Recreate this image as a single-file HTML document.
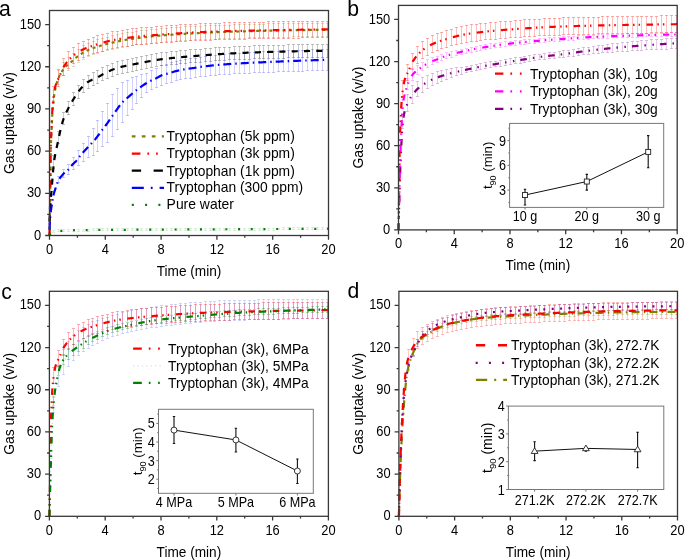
<!DOCTYPE html>
<html><head><meta charset="utf-8"><style>
html,body{margin:0;padding:0;background:#fff;}
body{width:685px;height:560px;overflow:hidden;}
svg{display:block;will-change:transform;}
</style></head><body>
<svg width="685" height="560" viewBox="0 0 685 560" font-family='"Liberation Sans", sans-serif' fill="#000">
<rect width="685" height="560" fill="#fff"/>
<path d="M327.5,24V36M322.5,24V36M317.5,24V36M312.5,24V36M307.5,24V36M302.5,24V36M298.5,24V36M293.5,24V36M288.5,24V37M283.5,24V37M278.5,24V37M273.5,24V37M268.5,24V37M263.5,25V37M259.5,25V37M254.5,25V37M249.5,25V37M244.5,25V38M239.5,25V38M234.5,25V38M229.5,26V38M224.5,26V38M219.5,26V38M215.5,26V39M210.5,26V39M205.5,26V39M200.5,27V39M195.5,27V39M190.5,27V40M185.5,27V40M180.5,28V40M176.5,28V41M171.5,28V41M166.5,29V41M161.5,29V42M156.5,30V42M151.5,30V43M146.5,31V43M141.5,31V44M136.5,32V44M132.5,33V45M127.5,33V46M122.5,34V47M117.5,35V48M112.5,36V49M107.5,38V50M102.5,39V51M97.5,40V53M93.5,42V54M88.5,44V56M83.5,46V59M78.5,50V62M73.5,54V66M68.5,58V70M63.5,63V75M58.5,71V84M53.5,91V103" fill="none" stroke="#808000" stroke-opacity="0.15" stroke-width="1.0"/>
<path d="M326.15,23.5H328.85M326.15,36.5H328.85M321.15,23.5H323.85M321.15,36.5H323.85M316.15,23.5H318.85M316.15,36.5H318.85M311.15,23.5H313.85M311.15,36.5H313.85M306.15,23.5H308.85M306.15,36.5H308.85M301.15,23.5H303.85M301.15,36.5H303.85M297.15,23.5H299.85M297.15,36.5H299.85M292.15,23.5H294.85M292.15,36.5H294.85M287.15,23.5H289.85M287.15,37.5H289.85M282.15,23.5H284.85M282.15,37.5H284.85M277.15,23.5H279.85M277.15,37.5H279.85M272.15,23.5H274.85M272.15,37.5H274.85M267.15,23.5H269.85M267.15,37.5H269.85M262.15,24.5H264.85M262.15,37.5H264.85M258.15,24.5H260.85M258.15,37.5H260.85M253.15,24.5H255.85M253.15,37.5H255.85M248.15,24.5H250.85M248.15,37.5H250.85M243.15,24.5H245.85M243.15,38.5H245.85M238.15,24.5H240.85M238.15,38.5H240.85M233.15,24.5H235.85M233.15,38.5H235.85M228.15,25.5H230.85M228.15,38.5H230.85M223.15,25.5H225.85M223.15,38.5H225.85M218.15,25.5H220.85M218.15,38.5H220.85M214.15,25.5H216.85M214.15,39.5H216.85M209.15,25.5H211.85M209.15,39.5H211.85M204.15,25.5H206.85M204.15,39.5H206.85M199.15,26.5H201.85M199.15,39.5H201.85M194.15,26.5H196.85M194.15,39.5H196.85M189.15,26.5H191.85M189.15,40.5H191.85M184.15,26.5H186.85M184.15,40.5H186.85M179.15,27.5H181.85M179.15,40.5H181.85M175.15,27.5H177.85M175.15,41.5H177.85M170.15,27.5H172.85M170.15,41.5H172.85M165.15,28.5H167.85M165.15,41.5H167.85M160.15,28.5H162.85M160.15,42.5H162.85M155.15,29.5H157.85M155.15,42.5H157.85M150.15,29.5H152.85M150.15,43.5H152.85M145.15,30.5H147.85M145.15,43.5H147.85M140.15,30.5H142.85M140.15,44.5H142.85M135.15,31.5H137.85M135.15,44.5H137.85M131.15,32.5H133.85M131.15,45.5H133.85M126.15,32.5H128.85M126.15,46.5H128.85M121.15,33.5H123.85M121.15,47.5H123.85M116.15,34.5H118.85M116.15,48.5H118.85M111.15,35.5H113.85M111.15,49.5H113.85M106.15,37.5H108.85M106.15,50.5H108.85M101.15,38.5H103.85M101.15,51.5H103.85M96.15,39.5H98.85M96.15,53.5H98.85M92.15,41.5H94.85M92.15,54.5H94.85M87.15,43.5H89.85M87.15,56.5H89.85M82.15,45.5H84.85M82.15,59.5H84.85M77.15,49.5H79.85M77.15,62.5H79.85M72.15,53.5H74.85M72.15,66.5H74.85M67.15,57.5H69.85M67.15,70.5H69.85M62.15,62.5H64.85M62.15,75.5H64.85M57.15,70.5H59.85M57.15,84.5H59.85M52.15,90.5H54.85M52.15,103.5H54.85" fill="none" stroke="#808000" stroke-opacity="0.3" stroke-width="1.0"/>
<path d="M327.5,22V37M322.5,22V37M317.5,22V37M312.5,22V37M307.5,22V37M302.5,22V37M298.5,22V38M293.5,22V38M288.5,22V38M283.5,22V38M278.5,22V38M273.5,22V38M268.5,22V38M263.5,23V38M259.5,23V38M254.5,23V38M249.5,23V38M244.5,23V39M239.5,23V39M234.5,23V39M229.5,23V39M224.5,23V39M219.5,24V39M215.5,24V39M210.5,24V40M205.5,24V40M200.5,24V40M195.5,25V40M190.5,25V40M185.5,25V41M180.5,25V41M176.5,26V41M171.5,26V42M166.5,26V42M161.5,27V42M156.5,27V43M151.5,28V43M146.5,28V44M141.5,28V44M136.5,29V44M132.5,29V45M127.5,30V46M122.5,31V46M117.5,32V47M112.5,32V48M107.5,34V49M102.5,35V51M97.5,36V52M93.5,38V53M88.5,40V55M83.5,42V57M78.5,44V60M73.5,48V63M68.5,52V68M63.5,59V75M58.5,70V86M53.5,87V102" fill="none" stroke="#ff0000" stroke-opacity="0.25" stroke-width="1.0"/>
<path d="M326.15,21.5H328.85M326.15,37.5H328.85M321.15,21.5H323.85M321.15,37.5H323.85M316.15,21.5H318.85M316.15,37.5H318.85M311.15,21.5H313.85M311.15,37.5H313.85M306.15,21.5H308.85M306.15,37.5H308.85M301.15,21.5H303.85M301.15,37.5H303.85M297.15,21.5H299.85M297.15,38.5H299.85M292.15,21.5H294.85M292.15,38.5H294.85M287.15,21.5H289.85M287.15,38.5H289.85M282.15,21.5H284.85M282.15,38.5H284.85M277.15,21.5H279.85M277.15,38.5H279.85M272.15,21.5H274.85M272.15,38.5H274.85M267.15,21.5H269.85M267.15,38.5H269.85M262.15,22.5H264.85M262.15,38.5H264.85M258.15,22.5H260.85M258.15,38.5H260.85M253.15,22.5H255.85M253.15,38.5H255.85M248.15,22.5H250.85M248.15,38.5H250.85M243.15,22.5H245.85M243.15,39.5H245.85M238.15,22.5H240.85M238.15,39.5H240.85M233.15,22.5H235.85M233.15,39.5H235.85M228.15,22.5H230.85M228.15,39.5H230.85M223.15,22.5H225.85M223.15,39.5H225.85M218.15,23.5H220.85M218.15,39.5H220.85M214.15,23.5H216.85M214.15,39.5H216.85M209.15,23.5H211.85M209.15,40.5H211.85M204.15,23.5H206.85M204.15,40.5H206.85M199.15,23.5H201.85M199.15,40.5H201.85M194.15,24.5H196.85M194.15,40.5H196.85M189.15,24.5H191.85M189.15,40.5H191.85M184.15,24.5H186.85M184.15,41.5H186.85M179.15,24.5H181.85M179.15,41.5H181.85M175.15,25.5H177.85M175.15,41.5H177.85M170.15,25.5H172.85M170.15,42.5H172.85M165.15,25.5H167.85M165.15,42.5H167.85M160.15,26.5H162.85M160.15,42.5H162.85M155.15,26.5H157.85M155.15,43.5H157.85M150.15,27.5H152.85M150.15,43.5H152.85M145.15,27.5H147.85M145.15,44.5H147.85M140.15,27.5H142.85M140.15,44.5H142.85M135.15,28.5H137.85M135.15,44.5H137.85M131.15,28.5H133.85M131.15,45.5H133.85M126.15,29.5H128.85M126.15,46.5H128.85M121.15,30.5H123.85M121.15,46.5H123.85M116.15,31.5H118.85M116.15,47.5H118.85M111.15,31.5H113.85M111.15,48.5H113.85M106.15,33.5H108.85M106.15,49.5H108.85M101.15,34.5H103.85M101.15,51.5H103.85M96.15,35.5H98.85M96.15,52.5H98.85M92.15,37.5H94.85M92.15,53.5H94.85M87.15,39.5H89.85M87.15,55.5H89.85M82.15,41.5H84.85M82.15,57.5H84.85M77.15,43.5H79.85M77.15,60.5H79.85M72.15,47.5H74.85M72.15,63.5H74.85M67.15,51.5H69.85M67.15,68.5H69.85M62.15,58.5H64.85M62.15,75.5H64.85M57.15,69.5H59.85M57.15,86.5H59.85M52.15,86.5H54.85M52.15,102.5H54.85" fill="none" stroke="#ff0000" stroke-opacity="0.4" stroke-width="1.0"/>
<path d="M327.5,45V57M322.5,45V57M317.5,45V57M312.5,45V57M307.5,45V57M302.5,45V57M298.5,45V57M293.5,45V57M288.5,45V57M283.5,46V58M278.5,46V58M273.5,46V58M268.5,46V58M263.5,46V58M259.5,46V58M254.5,46V58M249.5,47V59M244.5,47V59M239.5,47V59M234.5,47V59M229.5,48V59M224.5,48V60M219.5,48V60M215.5,48V60M210.5,49V61M205.5,49V61M200.5,50V62M195.5,50V62M190.5,50V62M185.5,51V63M180.5,51V63M176.5,52V64M171.5,52V64M166.5,53V65M161.5,53V65M156.5,54V66M151.5,55V67M146.5,56V68M141.5,57V69M136.5,58V70M132.5,59V71M127.5,60V72M122.5,61V73M117.5,62V74M112.5,64V76M107.5,66V78M102.5,68V80M97.5,71V83M93.5,73V85M88.5,76V88M83.5,80V92M78.5,86V98M73.5,93V105M68.5,102V114M63.5,113V124M58.5,132V143M53.5,156V168" fill="none" stroke="#000000" stroke-opacity="0.2" stroke-width="1.0"/>
<path d="M326.15,44.5H328.85M326.15,57.5H328.85M321.15,44.5H323.85M321.15,57.5H323.85M316.15,44.5H318.85M316.15,57.5H318.85M311.15,44.5H313.85M311.15,57.5H313.85M306.15,44.5H308.85M306.15,57.5H308.85M301.15,44.5H303.85M301.15,57.5H303.85M297.15,44.5H299.85M297.15,57.5H299.85M292.15,44.5H294.85M292.15,57.5H294.85M287.15,44.5H289.85M287.15,57.5H289.85M282.15,45.5H284.85M282.15,58.5H284.85M277.15,45.5H279.85M277.15,58.5H279.85M272.15,45.5H274.85M272.15,58.5H274.85M267.15,45.5H269.85M267.15,58.5H269.85M262.15,45.5H264.85M262.15,58.5H264.85M258.15,45.5H260.85M258.15,58.5H260.85M253.15,45.5H255.85M253.15,58.5H255.85M248.15,46.5H250.85M248.15,59.5H250.85M243.15,46.5H245.85M243.15,59.5H245.85M238.15,46.5H240.85M238.15,59.5H240.85M233.15,46.5H235.85M233.15,59.5H235.85M228.15,47.5H230.85M228.15,59.5H230.85M223.15,47.5H225.85M223.15,60.5H225.85M218.15,47.5H220.85M218.15,60.5H220.85M214.15,47.5H216.85M214.15,60.5H216.85M209.15,48.5H211.85M209.15,61.5H211.85M204.15,48.5H206.85M204.15,61.5H206.85M199.15,49.5H201.85M199.15,62.5H201.85M194.15,49.5H196.85M194.15,62.5H196.85M189.15,49.5H191.85M189.15,62.5H191.85M184.15,50.5H186.85M184.15,63.5H186.85M179.15,50.5H181.85M179.15,63.5H181.85M175.15,51.5H177.85M175.15,64.5H177.85M170.15,51.5H172.85M170.15,64.5H172.85M165.15,52.5H167.85M165.15,65.5H167.85M160.15,52.5H162.85M160.15,65.5H162.85M155.15,53.5H157.85M155.15,66.5H157.85M150.15,54.5H152.85M150.15,67.5H152.85M145.15,55.5H147.85M145.15,68.5H147.85M140.15,56.5H142.85M140.15,69.5H142.85M135.15,57.5H137.85M135.15,70.5H137.85M131.15,58.5H133.85M131.15,71.5H133.85M126.15,59.5H128.85M126.15,72.5H128.85M121.15,60.5H123.85M121.15,73.5H123.85M116.15,61.5H118.85M116.15,74.5H118.85M111.15,63.5H113.85M111.15,76.5H113.85M106.15,65.5H108.85M106.15,78.5H108.85M101.15,67.5H103.85M101.15,80.5H103.85M96.15,70.5H98.85M96.15,83.5H98.85M92.15,72.5H94.85M92.15,85.5H94.85M87.15,75.5H89.85M87.15,88.5H89.85M82.15,79.5H84.85M82.15,92.5H84.85M77.15,85.5H79.85M77.15,98.5H79.85M72.15,92.5H74.85M72.15,105.5H74.85M67.15,101.5H69.85M67.15,114.5H69.85M62.15,112.5H64.85M62.15,124.5H64.85M57.15,131.5H59.85M57.15,143.5H59.85M52.15,155.5H54.85M52.15,168.5H54.85" fill="none" stroke="#000000" stroke-opacity="0.3" stroke-width="1.0"/>
<path d="M327.5,50V70M322.5,50V70M317.5,50V70M312.5,50V70M307.5,50V70M302.5,51V71M298.5,51V71M293.5,51V71M288.5,51V71M283.5,51V71M278.5,52V71M273.5,52V72M268.5,52V72M263.5,52V72M259.5,53V72M254.5,53V72M249.5,53V73M244.5,53V73M239.5,54V73M234.5,54V73M229.5,54V74M224.5,55V74M219.5,55V74M215.5,56V75M210.5,56V75M205.5,57V76M200.5,58V76M195.5,59V77M190.5,59V78M185.5,60V78M180.5,61V79M176.5,62V80M171.5,63V82M166.5,65V83M161.5,66V85M156.5,69V87M151.5,71V89M146.5,74V92M141.5,75V97M136.5,77V103M132.5,78V109M127.5,81V115M122.5,83V122M117.5,89V129M112.5,95V136M107.5,104V142M102.5,112V146M97.5,121V151M93.5,129V155M88.5,137V157M83.5,144V161M78.5,151V165M73.5,158V169M68.5,165V174M63.5,170V177M58.5,177V182M53.5,192V195" fill="none" stroke="#0000ff" stroke-opacity="0.18" stroke-width="1.0"/>
<path d="M326.15,49.5H328.85M326.15,70.5H328.85M321.15,49.5H323.85M321.15,70.5H323.85M316.15,49.5H318.85M316.15,70.5H318.85M311.15,49.5H313.85M311.15,70.5H313.85M306.15,49.5H308.85M306.15,70.5H308.85M301.15,50.5H303.85M301.15,71.5H303.85M297.15,50.5H299.85M297.15,71.5H299.85M292.15,50.5H294.85M292.15,71.5H294.85M287.15,50.5H289.85M287.15,71.5H289.85M282.15,50.5H284.85M282.15,71.5H284.85M277.15,51.5H279.85M277.15,71.5H279.85M272.15,51.5H274.85M272.15,72.5H274.85M267.15,51.5H269.85M267.15,72.5H269.85M262.15,51.5H264.85M262.15,72.5H264.85M258.15,52.5H260.85M258.15,72.5H260.85M253.15,52.5H255.85M253.15,72.5H255.85M248.15,52.5H250.85M248.15,73.5H250.85M243.15,52.5H245.85M243.15,73.5H245.85M238.15,53.5H240.85M238.15,73.5H240.85M233.15,53.5H235.85M233.15,73.5H235.85M228.15,53.5H230.85M228.15,74.5H230.85M223.15,54.5H225.85M223.15,74.5H225.85M218.15,54.5H220.85M218.15,74.5H220.85M214.15,55.5H216.85M214.15,75.5H216.85M209.15,55.5H211.85M209.15,75.5H211.85M204.15,56.5H206.85M204.15,76.5H206.85M199.15,57.5H201.85M199.15,76.5H201.85M194.15,58.5H196.85M194.15,77.5H196.85M189.15,58.5H191.85M189.15,78.5H191.85M184.15,59.5H186.85M184.15,78.5H186.85M179.15,60.5H181.85M179.15,79.5H181.85M175.15,61.5H177.85M175.15,80.5H177.85M170.15,62.5H172.85M170.15,82.5H172.85M165.15,64.5H167.85M165.15,83.5H167.85M160.15,65.5H162.85M160.15,85.5H162.85M155.15,68.5H157.85M155.15,87.5H157.85M150.15,70.5H152.85M150.15,89.5H152.85M145.15,73.5H147.85M145.15,92.5H147.85M140.15,74.5H142.85M140.15,97.5H142.85M135.15,76.5H137.85M135.15,103.5H137.85M131.15,77.5H133.85M131.15,109.5H133.85M126.15,80.5H128.85M126.15,115.5H128.85M121.15,82.5H123.85M121.15,122.5H123.85M116.15,88.5H118.85M116.15,129.5H118.85M111.15,94.5H113.85M111.15,136.5H113.85M106.15,103.5H108.85M106.15,142.5H108.85M101.15,111.5H103.85M101.15,146.5H103.85M96.15,120.5H98.85M96.15,151.5H98.85M92.15,128.5H94.85M92.15,155.5H94.85M87.15,136.5H89.85M87.15,157.5H89.85M82.15,143.5H84.85M82.15,161.5H84.85M77.15,150.5H79.85M77.15,165.5H79.85M72.15,157.5H74.85M72.15,169.5H74.85M67.15,164.5H69.85M67.15,174.5H69.85M62.15,169.5H64.85M62.15,177.5H64.85M57.15,176.5H59.85M57.15,182.5H59.85M52.15,191.5H54.85M52.15,195.5H54.85" fill="none" stroke="#0000ff" stroke-opacity="0.28" stroke-width="1.0"/>
<path d="M327.5,228V229M322.5,228V229M317.5,228V229M312.5,228V229M307.5,228V229M302.5,228V229M298.5,228V229M293.5,228V229M288.5,228V229M283.5,228V229M278.5,229V229M273.5,229V230M268.5,229V230M263.5,229V230M259.5,229V230M254.5,229V230M249.5,229V230M244.5,229V230M239.5,229V230M234.5,229V230M229.5,229V230M224.5,229V230M219.5,229V230M215.5,229V230M210.5,229V230M205.5,229V230M200.5,229V230M195.5,229V230M190.5,229V230M185.5,229V230M180.5,229V230M176.5,229V230M171.5,229V230M166.5,229V230M161.5,229V230M156.5,229V230M151.5,229V230M146.5,229V230M141.5,229V230M136.5,229V230M132.5,229V230M127.5,229V230M122.5,229V230M117.5,229V230M112.5,229V230M107.5,229V230M102.5,229V230M97.5,229V230M93.5,229V230M88.5,230V231M83.5,230V231M78.5,230V231M73.5,230V231M68.5,230V231M63.5,230V231M58.5,230V231M53.5,231V232" fill="none" stroke="#008000" stroke-opacity="0.13" stroke-width="1.0"/>
<path d="M326.15,227.5H328.85M326.15,229.5H328.85M321.15,227.5H323.85M321.15,229.5H323.85M316.15,227.5H318.85M316.15,229.5H318.85M311.15,227.5H313.85M311.15,229.5H313.85M306.15,227.5H308.85M306.15,229.5H308.85M301.15,227.5H303.85M301.15,229.5H303.85M297.15,227.5H299.85M297.15,229.5H299.85M292.15,227.5H294.85M292.15,229.5H294.85M287.15,227.5H289.85M287.15,229.5H289.85M282.15,227.5H284.85M282.15,229.5H284.85M277.15,228.5H279.85M277.15,229.5H279.85M272.15,228.5H274.85M272.15,230.5H274.85M267.15,228.5H269.85M267.15,230.5H269.85M262.15,228.5H264.85M262.15,230.5H264.85M258.15,228.5H260.85M258.15,230.5H260.85M253.15,228.5H255.85M253.15,230.5H255.85M248.15,228.5H250.85M248.15,230.5H250.85M243.15,228.5H245.85M243.15,230.5H245.85M238.15,228.5H240.85M238.15,230.5H240.85M233.15,228.5H235.85M233.15,230.5H235.85M228.15,228.5H230.85M228.15,230.5H230.85M223.15,228.5H225.85M223.15,230.5H225.85M218.15,228.5H220.85M218.15,230.5H220.85M214.15,228.5H216.85M214.15,230.5H216.85M209.15,228.5H211.85M209.15,230.5H211.85M204.15,228.5H206.85M204.15,230.5H206.85M199.15,228.5H201.85M199.15,230.5H201.85M194.15,228.5H196.85M194.15,230.5H196.85M189.15,228.5H191.85M189.15,230.5H191.85M184.15,228.5H186.85M184.15,230.5H186.85M179.15,228.5H181.85M179.15,230.5H181.85M175.15,228.5H177.85M175.15,230.5H177.85M170.15,228.5H172.85M170.15,230.5H172.85M165.15,228.5H167.85M165.15,230.5H167.85M160.15,228.5H162.85M160.15,230.5H162.85M155.15,228.5H157.85M155.15,230.5H157.85M150.15,228.5H152.85M150.15,230.5H152.85M145.15,228.5H147.85M145.15,230.5H147.85M140.15,228.5H142.85M140.15,230.5H142.85M135.15,228.5H137.85M135.15,230.5H137.85M131.15,228.5H133.85M131.15,230.5H133.85M126.15,228.5H128.85M126.15,230.5H128.85M121.15,228.5H123.85M121.15,230.5H123.85M116.15,228.5H118.85M116.15,230.5H118.85M111.15,228.5H113.85M111.15,230.5H113.85M106.15,228.5H108.85M106.15,230.5H108.85M101.15,228.5H103.85M101.15,230.5H103.85M96.15,228.5H98.85M96.15,230.5H98.85M92.15,228.5H94.85M92.15,230.5H94.85M87.15,229.5H89.85M87.15,231.5H89.85M82.15,229.5H84.85M82.15,231.5H84.85M77.15,229.5H79.85M77.15,231.5H79.85M72.15,229.5H74.85M72.15,231.5H74.85M67.15,229.5H69.85M67.15,231.5H69.85M62.15,229.5H64.85M62.15,231.5H64.85M57.15,229.5H59.85M57.15,231.5H59.85M52.15,230.5H54.85M52.15,232.5H54.85" fill="none" stroke="#008000" stroke-opacity="0.17" stroke-width="1.0"/>
<path d="M49.5,235.5 L49.64,229.21 L49.78,222.14 L49.92,214.41 L50.06,205.67 L50.2,196.05 L50.34,186.28 L50.48,175.69 L50.62,164.36 L50.76,154.14 L50.9,146.91 L51.03,142.37 L51.17,138.76 L51.31,135.73 L51.45,132.94 L51.59,130.03 L51.73,126.88 L51.87,123.68 L52.01,120.51 L52.15,117.5 L52.29,114.73 L52.43,112.31 L52.57,110.34 L52.71,108.68 L52.85,107.08 L52.99,105.56 L53.13,104.11 L53.27,102.73 L53.41,101.41 L53.55,100.16 L53.69,98.96 L53.82,97.83 L53.96,96.75 L54.1,95.73 L54.24,94.76 L54.38,93.84 L54.52,92.97 L54.66,92.14 L54.8,91.36 L54.94,90.62 L55.08,89.92 L55.22,89.25 L55.36,88.61 L55.5,87.99 L55.64,87.38 L55.78,86.8 L55.92,86.22 L56.06,85.67 L56.2,85.13 L56.34,84.6 L56.48,84.09 L56.61,83.59 L56.75,83.11 L56.89,82.64 L57.03,82.18 L57.17,81.74 L57.31,81.31 L57.45,80.89 L57.59,80.48 L57.73,80.08 L57.87,79.7 L58.01,79.32 L58.15,78.96 L58.29,78.6 L58.43,78.25 L58.57,77.91 L58.71,77.58 L58.85,77.26 L58.99,76.94 L59.13,76.64 L59.27,76.33 L59.4,76.04 L59.54,75.75 L59.68,75.47 L59.82,75.19 L59.96,74.91 L60.1,74.64 L60.24,74.38 L60.38,74.12 L60.52,73.86 L60.66,73.61 L60.8,73.36 L60.94,73.12 L61.08,72.88 L61.22,72.64 L61.36,72.41 L61.5,72.18 L61.64,71.96 L61.78,71.74 L61.92,71.52 L62.05,71.31 L62.19,71.1 L62.33,70.89 L62.47,70.69 L62.61,70.49 L62.75,70.29 L62.89,70.1 L63.03,69.91 L63.17,69.72 L63.31,69.53 L63.45,69.35 L64.15,68.47 L64.84,67.65 L65.54,66.88 L66.24,66.17 L66.94,65.52 L67.64,64.91 L68.33,64.34 L69.03,63.79 L69.73,63.24 L70.43,62.68 L71.12,62.09 L71.82,61.47 L72.52,60.84 L73.22,60.19 L73.91,59.54 L74.61,58.9 L75.31,58.27 L76.01,57.67 L76.7,57.09 L77.4,56.55 L78.1,56.04 L78.8,55.53 L79.49,55.04 L80.19,54.57 L80.89,54.11 L81.59,53.66 L82.28,53.23 L82.98,52.81 L83.68,52.41 L84.38,52.01 L85.07,51.63 L85.77,51.25 L86.47,50.89 L87.17,50.54 L87.86,50.2 L88.56,49.88 L89.26,49.57 L89.96,49.28 L90.65,49 L91.35,48.74 L92.05,48.48 L92.75,48.24 L93.44,48 L94.14,47.76 L94.84,47.53 L95.54,47.3 L96.23,47.07 L96.93,46.84 L97.63,46.61 L98.33,46.39 L99.02,46.17 L99.72,45.96 L100.42,45.74 L101.12,45.54 L101.81,45.33 L102.51,45.13 L103.21,44.94 L103.91,44.75 L104.6,44.56 L105.3,44.38 L106,44.2 L106.7,44.03 L107.39,43.85 L108.09,43.68 L108.79,43.51 L109.49,43.34 L110.18,43.17 L110.88,43 L111.58,42.83 L112.28,42.66 L112.97,42.5 L113.67,42.34 L114.37,42.17 L115.07,42.02 L115.76,41.86 L116.46,41.7 L117.16,41.55 L117.86,41.4 L118.55,41.25 L119.25,41.1 L119.95,40.95 L120.65,40.81 L121.34,40.67 L122.04,40.53 L122.74,40.4 L123.44,40.27 L124.13,40.14 L124.83,40.02 L125.53,39.9 L126.23,39.78 L126.92,39.66 L127.62,39.55 L128.32,39.44 L129.02,39.33 L129.71,39.22 L130.41,39.13 L131.11,39.03 L131.81,38.94 L132.5,38.85 L133.2,38.76 L133.9,38.66 L134.6,38.57 L135.29,38.48 L135.99,38.38 L136.69,38.28 L137.39,38.18 L138.08,38.07 L138.78,37.96 L139.48,37.85 L140.18,37.74 L140.87,37.63 L141.57,37.53 L142.27,37.43 L142.97,37.34 L143.66,37.26 L144.36,37.17 L145.06,37.09 L145.76,37.01 L146.45,36.93 L147.15,36.85 L147.85,36.78 L148.55,36.7 L149.24,36.63 L149.94,36.56 L150.64,36.49 L151.34,36.42 L152.03,36.35 L152.73,36.28 L153.43,36.21 L154.13,36.15 L154.82,36.08 L155.52,36.02 L156.22,35.95 L156.92,35.89 L157.61,35.83 L158.31,35.77 L159.01,35.71 L159.71,35.65 L160.4,35.59 L161.1,35.53 L161.8,35.47 L162.5,35.42 L163.19,35.36 L163.89,35.3 L164.59,35.24 L165.29,35.19 L165.98,35.13 L166.68,35.08 L167.38,35.02 L168.08,34.97 L168.77,34.91 L169.47,34.86 L170.17,34.8 L170.87,34.75 L171.56,34.7 L172.26,34.65 L172.96,34.6 L173.66,34.54 L174.35,34.49 L175.05,34.44 L175.75,34.39 L176.45,34.35 L177.14,34.3 L177.84,34.25 L178.54,34.2 L179.24,34.16 L179.93,34.11 L180.63,34.06 L181.33,34.02 L182.03,33.97 L182.72,33.93 L183.42,33.89 L184.12,33.84 L184.82,33.8 L185.51,33.76 L186.21,33.72 L186.91,33.68 L187.61,33.64 L188.3,33.6 L189,33.56 L189.7,33.52 L190.4,33.49 L191.09,33.45 L191.79,33.41 L192.49,33.38 L193.19,33.34 L193.88,33.3 L194.58,33.27 L195.28,33.23 L195.98,33.2 L196.67,33.16 L197.37,33.13 L198.07,33.09 L198.77,33.06 L199.46,33.02 L200.16,32.99 L200.86,32.96 L201.56,32.92 L202.25,32.89 L202.95,32.86 L203.65,32.82 L204.35,32.79 L205.04,32.76 L205.74,32.73 L206.44,32.7 L207.14,32.66 L207.83,32.63 L208.53,32.6 L209.23,32.57 L209.93,32.54 L210.62,32.51 L211.32,32.48 L212.02,32.45 L212.72,32.42 L213.41,32.39 L214.11,32.36 L214.81,32.33 L215.51,32.31 L216.2,32.28 L216.9,32.25 L217.6,32.22 L218.3,32.19 L218.99,32.17 L219.69,32.14 L220.39,32.11 L221.09,32.08 L221.78,32.06 L222.48,32.03 L223.18,32.01 L223.88,31.98 L224.57,31.95 L225.27,31.93 L225.97,31.9 L226.67,31.88 L227.36,31.85 L228.06,31.83 L228.76,31.8 L229.46,31.78 L230.15,31.76 L230.85,31.73 L231.55,31.71 L232.25,31.69 L232.94,31.66 L233.64,31.64 L234.34,31.62 L235.04,31.59 L235.73,31.57 L236.43,31.55 L237.13,31.53 L237.83,31.51 L238.52,31.48 L239.22,31.46 L239.92,31.44 L240.62,31.42 L241.31,31.4 L242.01,31.38 L242.71,31.36 L243.41,31.33 L244.1,31.31 L244.8,31.29 L245.5,31.27 L246.2,31.25 L246.89,31.23 L247.59,31.21 L248.29,31.19 L248.99,31.17 L249.68,31.15 L250.38,31.14 L251.08,31.12 L251.78,31.1 L252.47,31.08 L253.17,31.06 L253.87,31.04 L254.57,31.02 L255.26,31.01 L255.96,30.99 L256.66,30.97 L257.36,30.95 L258.05,30.93 L258.75,30.92 L259.45,30.9 L260.15,30.88 L260.84,30.87 L261.54,30.85 L262.24,30.83 L262.94,30.82 L263.63,30.8 L264.33,30.79 L265.03,30.77 L265.73,30.75 L266.42,30.74 L267.12,30.72 L267.82,30.71 L268.52,30.69 L269.21,30.68 L269.91,30.67 L270.61,30.65 L271.31,30.64 L272,30.62 L272.7,30.61 L273.4,30.6 L274.1,30.58 L274.79,30.57 L275.49,30.56 L276.19,30.54 L276.89,30.53 L277.58,30.52 L278.28,30.5 L278.98,30.49 L279.68,30.48 L280.37,30.46 L281.07,30.45 L281.77,30.44 L282.47,30.42 L283.16,30.41 L283.86,30.4 L284.56,30.38 L285.26,30.37 L285.95,30.36 L286.65,30.35 L287.35,30.33 L288.05,30.32 L288.74,30.31 L289.44,30.3 L290.14,30.29 L290.84,30.27 L291.53,30.26 L292.23,30.25 L292.93,30.24 L293.63,30.22 L294.32,30.21 L295.02,30.2 L295.72,30.19 L296.42,30.18 L297.11,30.17 L297.81,30.16 L298.51,30.14 L299.21,30.13 L299.9,30.12 L300.6,30.11 L301.3,30.1 L302,30.09 L302.69,30.08 L303.39,30.07 L304.09,30.06 L304.79,30.05 L305.48,30.04 L306.18,30.03 L306.88,30.02 L307.58,30.01 L308.27,30 L308.97,29.99 L309.67,29.98 L310.37,29.97 L311.06,29.96 L311.76,29.95 L312.46,29.94 L313.16,29.93 L313.85,29.92 L314.55,29.91 L315.25,29.9 L315.95,29.9 L316.64,29.89 L317.34,29.88 L318.04,29.87 L318.74,29.86 L319.43,29.86 L320.13,29.85 L320.83,29.84 L321.53,29.83 L322.22,29.83 L322.92,29.82 L323.62,29.81 L324.32,29.8 L325.01,29.8 L325.71,29.79 L326.41,29.78 L327.11,29.78 L327.8,29.77 L328.5,29.77" fill="none" stroke="#808000" stroke-width="2.2" stroke-dasharray="3 3.6" stroke-linejoin="round"/>
<path d="M49.5,235.5 L49.64,229.21 L49.78,222.14 L49.92,214.41 L50.06,205.94 L50.2,196.57 L50.34,186.28 L50.48,172.96 L50.62,158.37 L50.76,148.31 L50.9,143.13 L51.03,139.08 L51.17,135.81 L51.31,132.98 L51.45,130.23 L51.59,127.22 L51.73,123.86 L51.87,120.42 L52.01,117.05 L52.15,113.91 L52.29,111.16 L52.43,108.94 L52.57,107.11 L52.71,105.41 L52.85,103.84 L52.99,102.38 L53.13,101.02 L53.27,99.75 L53.41,98.56 L53.55,97.44 L53.69,96.39 L53.82,95.38 L53.96,94.41 L54.1,93.47 L54.24,92.55 L54.38,91.66 L54.52,90.8 L54.66,89.97 L54.8,89.17 L54.94,88.41 L55.08,87.68 L55.22,87 L55.36,86.37 L55.5,85.78 L55.64,85.24 L55.78,84.75 L55.92,84.3 L56.06,83.87 L56.2,83.47 L56.34,83.08 L56.48,82.71 L56.61,82.35 L56.75,82.01 L56.89,81.69 L57.03,81.37 L57.17,81.07 L57.31,80.78 L57.45,80.49 L57.59,80.21 L57.73,79.94 L57.87,79.67 L58.01,79.4 L58.15,79.13 L58.29,78.87 L58.43,78.6 L58.57,78.33 L58.71,78.05 L58.85,77.77 L58.99,77.48 L59.13,77.18 L59.27,76.88 L59.4,76.56 L59.54,76.24 L59.68,75.92 L59.82,75.59 L59.96,75.26 L60.1,74.93 L60.24,74.59 L60.38,74.26 L60.52,73.92 L60.66,73.58 L60.8,73.24 L60.94,72.91 L61.08,72.57 L61.22,72.23 L61.36,71.89 L61.5,71.56 L61.64,71.23 L61.78,70.9 L61.92,70.57 L62.05,70.25 L62.19,69.93 L62.33,69.61 L62.47,69.3 L62.61,69 L62.75,68.7 L62.89,68.41 L63.03,68.12 L63.17,67.84 L63.31,67.57 L63.45,67.3 L64.15,66.1 L64.84,65.03 L65.54,64.02 L66.24,63.06 L66.94,62.16 L67.64,61.3 L68.33,60.49 L69.03,59.72 L69.73,58.99 L70.43,58.28 L71.12,57.6 L71.82,56.95 L72.52,56.32 L73.22,55.72 L73.91,55.15 L74.61,54.61 L75.31,54.08 L76.01,53.59 L76.7,53.11 L77.4,52.65 L78.1,52.2 L78.8,51.77 L79.49,51.36 L80.19,50.96 L80.89,50.57 L81.59,50.2 L82.28,49.84 L82.98,49.5 L83.68,49.17 L84.38,48.86 L85.07,48.55 L85.77,48.26 L86.47,47.97 L87.17,47.69 L87.86,47.43 L88.56,47.16 L89.26,46.91 L89.96,46.66 L90.65,46.41 L91.35,46.17 L92.05,45.94 L92.75,45.71 L93.44,45.49 L94.14,45.27 L94.84,45.06 L95.54,44.86 L96.23,44.66 L96.93,44.45 L97.63,44.25 L98.33,44.05 L99.02,43.85 L99.72,43.64 L100.42,43.43 L101.12,43.22 L101.81,43.01 L102.51,42.8 L103.21,42.59 L103.91,42.39 L104.6,42.18 L105.3,41.99 L106,41.8 L106.7,41.61 L107.39,41.44 L108.09,41.27 L108.79,41.1 L109.49,40.93 L110.18,40.77 L110.88,40.61 L111.58,40.45 L112.28,40.3 L112.97,40.15 L113.67,40 L114.37,39.86 L115.07,39.73 L115.76,39.59 L116.46,39.47 L117.16,39.35 L117.86,39.23 L118.55,39.11 L119.25,39 L119.95,38.89 L120.65,38.78 L121.34,38.68 L122.04,38.58 L122.74,38.48 L123.44,38.38 L124.13,38.28 L124.83,38.19 L125.53,38.09 L126.23,38 L126.92,37.91 L127.62,37.82 L128.32,37.73 L129.02,37.64 L129.71,37.55 L130.41,37.47 L131.11,37.38 L131.81,37.3 L132.5,37.21 L133.2,37.13 L133.9,37.05 L134.6,36.97 L135.29,36.89 L135.99,36.81 L136.69,36.73 L137.39,36.66 L138.08,36.58 L138.78,36.51 L139.48,36.44 L140.18,36.37 L140.87,36.3 L141.57,36.23 L142.27,36.16 L142.97,36.09 L143.66,36.03 L144.36,35.96 L145.06,35.9 L145.76,35.84 L146.45,35.78 L147.15,35.72 L147.85,35.66 L148.55,35.6 L149.24,35.54 L149.94,35.48 L150.64,35.42 L151.34,35.36 L152.03,35.31 L152.73,35.25 L153.43,35.19 L154.13,35.14 L154.82,35.08 L155.52,35.03 L156.22,34.98 L156.92,34.92 L157.61,34.87 L158.31,34.82 L159.01,34.76 L159.71,34.71 L160.4,34.66 L161.1,34.61 L161.8,34.56 L162.5,34.51 L163.19,34.46 L163.89,34.41 L164.59,34.36 L165.29,34.31 L165.98,34.26 L166.68,34.21 L167.38,34.16 L168.08,34.11 L168.77,34.06 L169.47,34.01 L170.17,33.96 L170.87,33.91 L171.56,33.86 L172.26,33.81 L172.96,33.77 L173.66,33.72 L174.35,33.67 L175.05,33.62 L175.75,33.57 L176.45,33.52 L177.14,33.47 L177.84,33.42 L178.54,33.37 L179.24,33.33 L179.93,33.28 L180.63,33.23 L181.33,33.18 L182.03,33.14 L182.72,33.09 L183.42,33.04 L184.12,33 L184.82,32.95 L185.51,32.91 L186.21,32.87 L186.91,32.82 L187.61,32.78 L188.3,32.74 L189,32.7 L189.7,32.66 L190.4,32.62 L191.09,32.58 L191.79,32.54 L192.49,32.5 L193.19,32.47 L193.88,32.43 L194.58,32.4 L195.28,32.36 L195.98,32.33 L196.67,32.29 L197.37,32.26 L198.07,32.23 L198.77,32.2 L199.46,32.17 L200.16,32.14 L200.86,32.11 L201.56,32.08 L202.25,32.05 L202.95,32.02 L203.65,31.99 L204.35,31.96 L205.04,31.93 L205.74,31.9 L206.44,31.88 L207.14,31.85 L207.83,31.82 L208.53,31.8 L209.23,31.77 L209.93,31.74 L210.62,31.72 L211.32,31.69 L212.02,31.67 L212.72,31.64 L213.41,31.62 L214.11,31.59 L214.81,31.57 L215.51,31.55 L216.2,31.52 L216.9,31.5 L217.6,31.48 L218.3,31.45 L218.99,31.43 L219.69,31.41 L220.39,31.38 L221.09,31.36 L221.78,31.34 L222.48,31.32 L223.18,31.3 L223.88,31.27 L224.57,31.25 L225.27,31.23 L225.97,31.21 L226.67,31.19 L227.36,31.17 L228.06,31.15 L228.76,31.13 L229.46,31.11 L230.15,31.09 L230.85,31.07 L231.55,31.05 L232.25,31.03 L232.94,31.01 L233.64,31 L234.34,30.98 L235.04,30.96 L235.73,30.94 L236.43,30.92 L237.13,30.91 L237.83,30.89 L238.52,30.87 L239.22,30.86 L239.92,30.84 L240.62,30.82 L241.31,30.81 L242.01,30.79 L242.71,30.78 L243.41,30.76 L244.1,30.74 L244.8,30.73 L245.5,30.71 L246.2,30.7 L246.89,30.68 L247.59,30.67 L248.29,30.65 L248.99,30.64 L249.68,30.62 L250.38,30.61 L251.08,30.59 L251.78,30.58 L252.47,30.57 L253.17,30.55 L253.87,30.54 L254.57,30.52 L255.26,30.51 L255.96,30.5 L256.66,30.48 L257.36,30.47 L258.05,30.45 L258.75,30.44 L259.45,30.43 L260.15,30.41 L260.84,30.4 L261.54,30.39 L262.24,30.38 L262.94,30.36 L263.63,30.35 L264.33,30.34 L265.03,30.32 L265.73,30.31 L266.42,30.3 L267.12,30.29 L267.82,30.27 L268.52,30.26 L269.21,30.25 L269.91,30.24 L270.61,30.22 L271.31,30.21 L272,30.2 L272.7,30.19 L273.4,30.18 L274.1,30.16 L274.79,30.15 L275.49,30.14 L276.19,30.13 L276.89,30.11 L277.58,30.1 L278.28,30.09 L278.98,30.08 L279.68,30.07 L280.37,30.06 L281.07,30.04 L281.77,30.03 L282.47,30.02 L283.16,30.01 L283.86,30 L284.56,29.98 L285.26,29.97 L285.95,29.96 L286.65,29.95 L287.35,29.94 L288.05,29.93 L288.74,29.92 L289.44,29.9 L290.14,29.89 L290.84,29.88 L291.53,29.87 L292.23,29.86 L292.93,29.85 L293.63,29.84 L294.32,29.83 L295.02,29.81 L295.72,29.8 L296.42,29.79 L297.11,29.78 L297.81,29.77 L298.51,29.76 L299.21,29.75 L299.9,29.74 L300.6,29.73 L301.3,29.72 L302,29.71 L302.69,29.7 L303.39,29.69 L304.09,29.67 L304.79,29.66 L305.48,29.65 L306.18,29.64 L306.88,29.63 L307.58,29.62 L308.27,29.61 L308.97,29.6 L309.67,29.59 L310.37,29.58 L311.06,29.57 L311.76,29.56 L312.46,29.55 L313.16,29.54 L313.85,29.53 L314.55,29.52 L315.25,29.51 L315.95,29.51 L316.64,29.5 L317.34,29.49 L318.04,29.48 L318.74,29.47 L319.43,29.46 L320.13,29.45 L320.83,29.44 L321.53,29.43 L322.22,29.42 L322.92,29.41 L323.62,29.4 L324.32,29.4 L325.01,29.39 L325.71,29.38 L326.41,29.37 L327.11,29.36 L327.8,29.35 L328.5,29.34" fill="none" stroke="#ff0000" stroke-width="2.2" stroke-dasharray="6.5 4.3 1.5 4 1.5 6.5" stroke-linejoin="round"/>
<path d="M49.5,221.44 L49.64,218.34 L49.78,215.32 L49.92,212.44 L50.06,209.77 L50.2,207.38 L50.34,205.2 L50.48,203.15 L50.62,201.21 L50.76,199.36 L50.9,197.6 L51.03,195.89 L51.17,194.24 L51.31,192.62 L51.45,191.03 L51.59,189.44 L51.73,187.85 L51.87,186.24 L52.01,184.59 L52.15,182.9 L52.29,181.17 L52.43,179.41 L52.57,177.64 L52.71,175.86 L52.85,174.11 L52.99,172.39 L53.13,170.71 L53.27,169.09 L53.41,167.54 L53.55,166.08 L53.69,164.72 L53.82,163.48 L53.96,162.38 L54.1,161.36 L54.24,160.38 L54.38,159.44 L54.52,158.53 L54.66,157.66 L54.8,156.82 L54.94,156.01 L55.08,155.22 L55.22,154.46 L55.36,153.72 L55.5,153.01 L55.64,152.31 L55.78,151.63 L55.92,150.97 L56.06,150.32 L56.2,149.67 L56.34,149.04 L56.48,148.41 L56.61,147.79 L56.75,147.17 L56.89,146.55 L57.03,145.93 L57.17,145.31 L57.31,144.68 L57.45,144.04 L57.59,143.39 L57.73,142.74 L57.87,142.08 L58.01,141.42 L58.15,140.76 L58.29,140.11 L58.43,139.45 L58.57,138.79 L58.71,138.13 L58.85,137.48 L58.99,136.82 L59.13,136.17 L59.27,135.52 L59.4,134.88 L59.54,134.23 L59.68,133.59 L59.82,132.96 L59.96,132.33 L60.1,131.7 L60.24,131.08 L60.38,130.47 L60.52,129.86 L60.66,129.26 L60.8,128.67 L60.94,128.08 L61.08,127.5 L61.22,126.93 L61.36,126.37 L61.5,125.82 L61.64,125.28 L61.78,124.74 L61.92,124.22 L62.05,123.71 L62.19,123.21 L62.33,122.72 L62.47,122.24 L62.61,121.77 L62.75,121.32 L62.89,120.88 L63.03,120.46 L63.17,120.05 L63.31,119.65 L63.45,119.25 L64.15,117.37 L64.84,115.62 L65.54,114 L66.24,112.47 L66.94,111.02 L67.64,109.64 L68.33,108.3 L69.03,106.99 L69.73,105.68 L70.43,104.39 L71.12,103.13 L71.82,101.92 L72.52,100.73 L73.22,99.58 L73.91,98.46 L74.61,97.36 L75.31,96.29 L76.01,95.22 L76.7,94.18 L77.4,93.13 L78.1,92.12 L78.8,91.14 L79.49,90.22 L80.19,89.37 L80.89,88.55 L81.59,87.75 L82.28,86.97 L82.98,86.21 L83.68,85.48 L84.38,84.79 L85.07,84.13 L85.77,83.52 L86.47,82.96 L87.17,82.45 L87.86,82 L88.56,81.58 L89.26,81.18 L89.96,80.81 L90.65,80.47 L91.35,80.14 L92.05,79.82 L92.75,79.52 L93.44,79.22 L94.14,78.92 L94.84,78.61 L95.54,78.3 L96.23,77.98 L96.93,77.65 L97.63,77.3 L98.33,76.92 L99.02,76.54 L99.72,76.14 L100.42,75.74 L101.12,75.33 L101.81,74.92 L102.51,74.51 L103.21,74.1 L103.91,73.7 L104.6,73.31 L105.3,72.93 L106,72.57 L106.7,72.23 L107.39,71.9 L108.09,71.58 L108.79,71.26 L109.49,70.95 L110.18,70.64 L110.88,70.34 L111.58,70.05 L112.28,69.76 L112.97,69.48 L113.67,69.2 L114.37,68.94 L115.07,68.69 L115.76,68.44 L116.46,68.21 L117.16,67.99 L117.86,67.77 L118.55,67.58 L119.25,67.38 L119.95,67.2 L120.65,67.02 L121.34,66.85 L122.04,66.68 L122.74,66.52 L123.44,66.37 L124.13,66.21 L124.83,66.06 L125.53,65.92 L126.23,65.77 L126.92,65.63 L127.62,65.49 L128.32,65.35 L129.02,65.21 L129.71,65.07 L130.41,64.92 L131.11,64.78 L131.81,64.64 L132.5,64.5 L133.2,64.36 L133.9,64.22 L134.6,64.09 L135.29,63.96 L135.99,63.83 L136.69,63.69 L137.39,63.56 L138.08,63.43 L138.78,63.3 L139.48,63.17 L140.18,63.03 L140.87,62.9 L141.57,62.76 L142.27,62.62 L142.97,62.48 L143.66,62.34 L144.36,62.2 L145.06,62.06 L145.76,61.92 L146.45,61.79 L147.15,61.65 L147.85,61.51 L148.55,61.38 L149.24,61.25 L149.94,61.12 L150.64,61 L151.34,60.88 L152.03,60.75 L152.73,60.63 L153.43,60.5 L154.13,60.38 L154.82,60.26 L155.52,60.14 L156.22,60.03 L156.92,59.91 L157.61,59.8 L158.31,59.69 L159.01,59.59 L159.71,59.49 L160.4,59.39 L161.1,59.3 L161.8,59.21 L162.5,59.12 L163.19,59.03 L163.89,58.95 L164.59,58.86 L165.29,58.78 L165.98,58.7 L166.68,58.62 L167.38,58.54 L168.08,58.46 L168.77,58.38 L169.47,58.31 L170.17,58.23 L170.87,58.16 L171.56,58.09 L172.26,58.01 L172.96,57.94 L173.66,57.87 L174.35,57.8 L175.05,57.73 L175.75,57.67 L176.45,57.6 L177.14,57.53 L177.84,57.47 L178.54,57.4 L179.24,57.34 L179.93,57.27 L180.63,57.21 L181.33,57.15 L182.03,57.08 L182.72,57.02 L183.42,56.96 L184.12,56.9 L184.82,56.84 L185.51,56.78 L186.21,56.72 L186.91,56.66 L187.61,56.6 L188.3,56.54 L189,56.48 L189.7,56.43 L190.4,56.37 L191.09,56.31 L191.79,56.25 L192.49,56.19 L193.19,56.14 L193.88,56.08 L194.58,56.02 L195.28,55.96 L195.98,55.91 L196.67,55.85 L197.37,55.79 L198.07,55.74 L198.77,55.68 L199.46,55.62 L200.16,55.57 L200.86,55.51 L201.56,55.46 L202.25,55.4 L202.95,55.35 L203.65,55.29 L204.35,55.24 L205.04,55.18 L205.74,55.13 L206.44,55.08 L207.14,55.02 L207.83,54.97 L208.53,54.92 L209.23,54.87 L209.93,54.81 L210.62,54.76 L211.32,54.71 L212.02,54.66 L212.72,54.61 L213.41,54.56 L214.11,54.51 L214.81,54.46 L215.51,54.41 L216.2,54.37 L216.9,54.32 L217.6,54.27 L218.3,54.22 L218.99,54.18 L219.69,54.13 L220.39,54.09 L221.09,54.04 L221.78,54 L222.48,53.95 L223.18,53.91 L223.88,53.87 L224.57,53.82 L225.27,53.78 L225.97,53.74 L226.67,53.7 L227.36,53.66 L228.06,53.62 L228.76,53.58 L229.46,53.54 L230.15,53.5 L230.85,53.46 L231.55,53.43 L232.25,53.39 L232.94,53.35 L233.64,53.32 L234.34,53.28 L235.04,53.25 L235.73,53.22 L236.43,53.18 L237.13,53.15 L237.83,53.12 L238.52,53.09 L239.22,53.05 L239.92,53.02 L240.62,52.99 L241.31,52.96 L242.01,52.93 L242.71,52.9 L243.41,52.87 L244.1,52.84 L244.8,52.81 L245.5,52.78 L246.2,52.75 L246.89,52.72 L247.59,52.69 L248.29,52.66 L248.99,52.63 L249.68,52.61 L250.38,52.58 L251.08,52.55 L251.78,52.52 L252.47,52.5 L253.17,52.47 L253.87,52.45 L254.57,52.42 L255.26,52.39 L255.96,52.37 L256.66,52.34 L257.36,52.32 L258.05,52.29 L258.75,52.27 L259.45,52.25 L260.15,52.22 L260.84,52.2 L261.54,52.18 L262.24,52.15 L262.94,52.13 L263.63,52.11 L264.33,52.09 L265.03,52.06 L265.73,52.04 L266.42,52.02 L267.12,52 L267.82,51.98 L268.52,51.96 L269.21,51.94 L269.91,51.92 L270.61,51.9 L271.31,51.88 L272,51.86 L272.7,51.84 L273.4,51.83 L274.1,51.81 L274.79,51.79 L275.49,51.77 L276.19,51.75 L276.89,51.73 L277.58,51.71 L278.28,51.7 L278.98,51.68 L279.68,51.66 L280.37,51.64 L281.07,51.62 L281.77,51.61 L282.47,51.59 L283.16,51.57 L283.86,51.55 L284.56,51.54 L285.26,51.52 L285.95,51.5 L286.65,51.48 L287.35,51.47 L288.05,51.45 L288.74,51.43 L289.44,51.42 L290.14,51.4 L290.84,51.38 L291.53,51.37 L292.23,51.35 L292.93,51.33 L293.63,51.32 L294.32,51.3 L295.02,51.29 L295.72,51.27 L296.42,51.25 L297.11,51.24 L297.81,51.22 L298.51,51.21 L299.21,51.19 L299.9,51.18 L300.6,51.16 L301.3,51.15 L302,51.14 L302.69,51.12 L303.39,51.11 L304.09,51.09 L304.79,51.08 L305.48,51.06 L306.18,51.05 L306.88,51.04 L307.58,51.02 L308.27,51.01 L308.97,51 L309.67,50.99 L310.37,50.97 L311.06,50.96 L311.76,50.95 L312.46,50.94 L313.16,50.93 L313.85,50.91 L314.55,50.9 L315.25,50.89 L315.95,50.88 L316.64,50.87 L317.34,50.86 L318.04,50.85 L318.74,50.84 L319.43,50.83 L320.13,50.82 L320.83,50.81 L321.53,50.8 L322.22,50.79 L322.92,50.78 L323.62,50.77 L324.32,50.76 L325.01,50.76 L325.71,50.75 L326.41,50.74 L327.11,50.73 L327.8,50.73 L328.5,50.72" fill="none" stroke="#000" stroke-width="2.2" stroke-dasharray="6.1 6.2" stroke-linejoin="round"/>
<path d="M49.5,229.88 L49.64,227.03 L49.78,224.27 L49.92,221.67 L50.06,219.29 L50.2,217.22 L50.34,215.53 L50.48,214.13 L50.62,212.86 L50.76,211.71 L50.9,210.65 L51.03,209.67 L51.17,208.76 L51.31,207.89 L51.45,207.05 L51.59,206.21 L51.73,205.37 L51.87,204.49 L52.01,203.58 L52.15,202.62 L52.29,201.63 L52.43,200.65 L52.57,199.7 L52.71,198.8 L52.85,197.98 L52.99,197.25 L53.13,196.6 L53.27,195.98 L53.41,195.38 L53.55,194.81 L53.69,194.27 L53.82,193.74 L53.96,193.24 L54.1,192.75 L54.24,192.28 L54.38,191.82 L54.52,191.38 L54.66,190.94 L54.8,190.51 L54.94,190.08 L55.08,189.66 L55.22,189.24 L55.36,188.81 L55.5,188.39 L55.64,187.96 L55.78,187.54 L55.92,187.12 L56.06,186.69 L56.2,186.28 L56.34,185.86 L56.48,185.45 L56.61,185.04 L56.75,184.64 L56.89,184.25 L57.03,183.86 L57.17,183.48 L57.31,183.1 L57.45,182.74 L57.59,182.38 L57.73,182.03 L57.87,181.7 L58.01,181.37 L58.15,181.05 L58.29,180.75 L58.43,180.46 L58.57,180.18 L58.71,179.92 L58.85,179.67 L58.99,179.44 L59.13,179.21 L59.27,178.99 L59.4,178.77 L59.54,178.57 L59.68,178.37 L59.82,178.18 L59.96,177.99 L60.1,177.81 L60.24,177.63 L60.38,177.46 L60.52,177.29 L60.66,177.12 L60.8,176.95 L60.94,176.79 L61.08,176.63 L61.22,176.47 L61.36,176.31 L61.5,176.15 L61.64,175.99 L61.78,175.83 L61.92,175.67 L62.05,175.51 L62.19,175.34 L62.33,175.17 L62.47,175 L62.61,174.83 L62.75,174.65 L62.89,174.48 L63.03,174.31 L63.17,174.14 L63.31,173.97 L63.45,173.81 L64.15,173.07 L64.84,172.44 L65.54,171.89 L66.24,171.38 L66.94,170.86 L67.64,170.31 L68.33,169.68 L69.03,168.94 L69.73,168.07 L70.43,167.14 L71.12,166.21 L71.82,165.35 L72.52,164.59 L73.22,163.88 L73.91,163.22 L74.61,162.56 L75.31,161.88 L76.01,161.15 L76.7,160.36 L77.4,159.47 L78.1,158.52 L78.8,157.55 L79.49,156.61 L80.19,155.74 L80.89,154.91 L81.59,154.11 L82.28,153.32 L82.98,152.55 L83.68,151.8 L84.38,151.05 L85.07,150.3 L85.77,149.55 L86.47,148.8 L87.17,148.04 L87.86,147.28 L88.56,146.53 L89.26,145.79 L89.96,145.05 L90.65,144.31 L91.35,143.57 L92.05,142.82 L92.75,142.06 L93.44,141.29 L94.14,140.5 L94.84,139.7 L95.54,138.86 L96.23,138 L96.93,137.1 L97.63,136.18 L98.33,135.25 L99.02,134.3 L99.72,133.34 L100.42,132.39 L101.12,131.44 L101.81,130.5 L102.51,129.57 L103.21,128.65 L103.91,127.74 L104.6,126.83 L105.3,125.91 L106,124.99 L106.7,124.06 L107.39,123.12 L108.09,122.17 L108.79,121.2 L109.49,120.21 L110.18,119.19 L110.88,118.15 L111.58,117.11 L112.28,116.07 L112.97,115.03 L113.67,114.01 L114.37,113.01 L115.07,112.03 L115.76,111.07 L116.46,110.1 L117.16,109.13 L117.86,108.16 L118.55,107.21 L119.25,106.28 L119.95,105.36 L120.65,104.48 L121.34,103.63 L122.04,102.82 L122.74,102.05 L123.44,101.34 L124.13,100.67 L124.83,100.04 L125.53,99.43 L126.23,98.84 L126.92,98.25 L127.62,97.65 L128.32,97.04 L129.02,96.42 L129.71,95.81 L130.41,95.2 L131.11,94.59 L131.81,93.99 L132.5,93.4 L133.2,92.81 L133.9,92.23 L134.6,91.64 L135.29,91.07 L135.99,90.5 L136.69,89.94 L137.39,89.39 L138.08,88.86 L138.78,88.35 L139.48,87.85 L140.18,87.36 L140.87,86.88 L141.57,86.4 L142.27,85.93 L142.97,85.45 L143.66,84.97 L144.36,84.49 L145.06,84 L145.76,83.53 L146.45,83.07 L147.15,82.64 L147.85,82.23 L148.55,81.84 L149.24,81.46 L149.94,81.1 L150.64,80.74 L151.34,80.4 L152.03,80.08 L152.73,79.76 L153.43,79.45 L154.13,79.15 L154.82,78.84 L155.52,78.52 L156.22,78.2 L156.92,77.86 L157.61,77.49 L158.31,77.11 L159.01,76.71 L159.71,76.31 L160.4,75.93 L161.1,75.58 L161.8,75.26 L162.5,75 L163.19,74.77 L163.89,74.56 L164.59,74.37 L165.29,74.19 L165.98,74.02 L166.68,73.85 L167.38,73.69 L168.08,73.52 L168.77,73.35 L169.47,73.16 L170.17,72.95 L170.87,72.73 L171.56,72.5 L172.26,72.26 L172.96,72.02 L173.66,71.79 L174.35,71.57 L175.05,71.36 L175.75,71.18 L176.45,71 L177.14,70.84 L177.84,70.68 L178.54,70.53 L179.24,70.39 L179.93,70.24 L180.63,70.1 L181.33,69.96 L182.03,69.81 L182.72,69.66 L183.42,69.52 L184.12,69.37 L184.82,69.23 L185.51,69.09 L186.21,68.97 L186.91,68.85 L187.61,68.74 L188.3,68.64 L189,68.56 L189.7,68.48 L190.4,68.41 L191.09,68.34 L191.79,68.26 L192.49,68.19 L193.19,68.11 L193.88,68.02 L194.58,67.91 L195.28,67.79 L195.98,67.66 L196.67,67.53 L197.37,67.39 L198.07,67.26 L198.77,67.14 L199.46,67.03 L200.16,66.93 L200.86,66.84 L201.56,66.74 L202.25,66.65 L202.95,66.56 L203.65,66.47 L204.35,66.38 L205.04,66.3 L205.74,66.21 L206.44,66.13 L207.14,66.05 L207.83,65.97 L208.53,65.9 L209.23,65.82 L209.93,65.75 L210.62,65.67 L211.32,65.6 L212.02,65.53 L212.72,65.46 L213.41,65.39 L214.11,65.33 L214.81,65.26 L215.51,65.19 L216.2,65.13 L216.9,65.06 L217.6,65 L218.3,64.94 L218.99,64.87 L219.69,64.81 L220.39,64.75 L221.09,64.69 L221.78,64.63 L222.48,64.57 L223.18,64.51 L223.88,64.46 L224.57,64.4 L225.27,64.34 L225.97,64.29 L226.67,64.24 L227.36,64.18 L228.06,64.13 L228.76,64.08 L229.46,64.03 L230.15,63.98 L230.85,63.93 L231.55,63.88 L232.25,63.83 L232.94,63.79 L233.64,63.74 L234.34,63.7 L235.04,63.66 L235.73,63.61 L236.43,63.57 L237.13,63.53 L237.83,63.49 L238.52,63.45 L239.22,63.41 L239.92,63.37 L240.62,63.33 L241.31,63.29 L242.01,63.25 L242.71,63.21 L243.41,63.18 L244.1,63.14 L244.8,63.1 L245.5,63.07 L246.2,63.03 L246.89,62.99 L247.59,62.96 L248.29,62.92 L248.99,62.89 L249.68,62.86 L250.38,62.82 L251.08,62.79 L251.78,62.75 L252.47,62.72 L253.17,62.69 L253.87,62.66 L254.57,62.62 L255.26,62.59 L255.96,62.56 L256.66,62.53 L257.36,62.49 L258.05,62.46 L258.75,62.43 L259.45,62.4 L260.15,62.37 L260.84,62.34 L261.54,62.31 L262.24,62.28 L262.94,62.25 L263.63,62.22 L264.33,62.19 L265.03,62.16 L265.73,62.13 L266.42,62.1 L267.12,62.07 L267.82,62.04 L268.52,62.01 L269.21,61.98 L269.91,61.95 L270.61,61.92 L271.31,61.89 L272,61.86 L272.7,61.83 L273.4,61.8 L274.1,61.77 L274.79,61.74 L275.49,61.71 L276.19,61.68 L276.89,61.65 L277.58,61.62 L278.28,61.59 L278.98,61.56 L279.68,61.53 L280.37,61.5 L281.07,61.47 L281.77,61.45 L282.47,61.42 L283.16,61.39 L283.86,61.36 L284.56,61.33 L285.26,61.3 L285.95,61.27 L286.65,61.24 L287.35,61.22 L288.05,61.19 L288.74,61.16 L289.44,61.13 L290.14,61.1 L290.84,61.08 L291.53,61.05 L292.23,61.02 L292.93,60.99 L293.63,60.96 L294.32,60.94 L295.02,60.91 L295.72,60.88 L296.42,60.85 L297.11,60.83 L297.81,60.8 L298.51,60.77 L299.21,60.75 L299.9,60.72 L300.6,60.69 L301.3,60.67 L302,60.64 L302.69,60.61 L303.39,60.59 L304.09,60.56 L304.79,60.54 L305.48,60.51 L306.18,60.48 L306.88,60.46 L307.58,60.43 L308.27,60.41 L308.97,60.38 L309.67,60.36 L310.37,60.33 L311.06,60.31 L311.76,60.28 L312.46,60.26 L313.16,60.23 L313.85,60.21 L314.55,60.18 L315.25,60.16 L315.95,60.13 L316.64,60.11 L317.34,60.09 L318.04,60.06 L318.74,60.04 L319.43,60.01 L320.13,59.99 L320.83,59.97 L321.53,59.94 L322.22,59.92 L322.92,59.9 L323.62,59.88 L324.32,59.85 L325.01,59.83 L325.71,59.81 L326.41,59.79 L327.11,59.76 L327.8,59.74 L328.5,59.72" fill="none" stroke="#0000ff" stroke-width="2.2" stroke-dasharray="8 4 1.5 4" stroke-linejoin="round"/>
<path d="M49.5,235.5 L49.64,235.23 L49.78,234.97 L49.92,234.7 L50.06,234.44 L50.2,234.19 L50.34,233.95 L50.48,233.71 L50.62,233.49 L50.76,233.28 L50.9,233.09 L51.03,232.91 L51.17,232.75 L51.31,232.61 L51.45,232.5 L51.59,232.41 L51.73,232.33 L51.87,232.26 L52.01,232.19 L52.15,232.12 L52.29,232.05 L52.43,231.99 L52.57,231.93 L52.71,231.88 L52.85,231.82 L52.99,231.77 L53.13,231.72 L53.27,231.68 L53.41,231.63 L53.55,231.59 L53.69,231.55 L53.82,231.51 L53.96,231.48 L54.1,231.45 L54.24,231.42 L54.38,231.39 L54.52,231.36 L54.66,231.34 L54.8,231.32 L54.94,231.3 L55.08,231.28 L55.22,231.26 L55.36,231.25 L55.5,231.23 L55.64,231.22 L55.78,231.2 L55.92,231.19 L56.06,231.17 L56.2,231.16 L56.34,231.14 L56.48,231.13 L56.61,231.12 L56.75,231.11 L56.89,231.09 L57.03,231.08 L57.17,231.07 L57.31,231.06 L57.45,231.05 L57.59,231.04 L57.73,231.03 L57.87,231.02 L58.01,231.01 L58.15,231 L58.29,230.99 L58.43,230.98 L58.57,230.97 L58.71,230.96 L58.85,230.95 L58.99,230.94 L59.13,230.93 L59.27,230.93 L59.4,230.92 L59.54,230.91 L59.68,230.9 L59.82,230.9 L59.96,230.89 L60.1,230.88 L60.24,230.87 L60.38,230.87 L60.52,230.86 L60.66,230.85 L60.8,230.85 L60.94,230.84 L61.08,230.83 L61.22,230.83 L61.36,230.82 L61.5,230.81 L61.64,230.81 L61.78,230.8 L61.92,230.79 L62.05,230.79 L62.19,230.78 L62.33,230.77 L62.47,230.77 L62.61,230.76 L62.75,230.75 L62.89,230.75 L63.03,230.74 L63.17,230.73 L63.31,230.73 L63.45,230.72 L64.15,230.68 L64.84,230.65 L65.54,230.61 L66.24,230.57 L66.94,230.54 L67.64,230.5 L68.33,230.47 L69.03,230.44 L69.73,230.4 L70.43,230.37 L71.12,230.34 L71.82,230.31 L72.52,230.29 L73.22,230.26 L73.91,230.24 L74.61,230.22 L75.31,230.2 L76.01,230.18 L76.7,230.17 L77.4,230.16 L78.1,230.15 L78.8,230.14 L79.49,230.13 L80.19,230.12 L80.89,230.11 L81.59,230.1 L82.28,230.09 L82.98,230.08 L83.68,230.07 L84.38,230.06 L85.07,230.06 L85.77,230.05 L86.47,230.04 L87.17,230.03 L87.86,230.03 L88.56,230.02 L89.26,230.01 L89.96,230 L90.65,230 L91.35,229.99 L92.05,229.98 L92.75,229.98 L93.44,229.97 L94.14,229.97 L94.84,229.96 L95.54,229.95 L96.23,229.95 L96.93,229.94 L97.63,229.94 L98.33,229.93 L99.02,229.93 L99.72,229.92 L100.42,229.92 L101.12,229.91 L101.81,229.91 L102.51,229.9 L103.21,229.9 L103.91,229.89 L104.6,229.89 L105.3,229.89 L106,229.88 L106.7,229.88 L107.39,229.87 L108.09,229.87 L108.79,229.86 L109.49,229.86 L110.18,229.86 L110.88,229.85 L111.58,229.85 L112.28,229.85 L112.97,229.84 L113.67,229.84 L114.37,229.83 L115.07,229.83 L115.76,229.83 L116.46,229.82 L117.16,229.82 L117.86,229.82 L118.55,229.81 L119.25,229.81 L119.95,229.81 L120.65,229.8 L121.34,229.8 L122.04,229.8 L122.74,229.79 L123.44,229.79 L124.13,229.78 L124.83,229.78 L125.53,229.78 L126.23,229.77 L126.92,229.77 L127.62,229.77 L128.32,229.76 L129.02,229.76 L129.71,229.75 L130.41,229.75 L131.11,229.75 L131.81,229.74 L132.5,229.74 L133.2,229.73 L133.9,229.73 L134.6,229.73 L135.29,229.72 L135.99,229.72 L136.69,229.71 L137.39,229.71 L138.08,229.71 L138.78,229.7 L139.48,229.7 L140.18,229.69 L140.87,229.69 L141.57,229.68 L142.27,229.68 L142.97,229.68 L143.66,229.67 L144.36,229.67 L145.06,229.67 L145.76,229.66 L146.45,229.66 L147.15,229.65 L147.85,229.65 L148.55,229.65 L149.24,229.64 L149.94,229.64 L150.64,229.63 L151.34,229.63 L152.03,229.63 L152.73,229.62 L153.43,229.62 L154.13,229.62 L154.82,229.61 L155.52,229.61 L156.22,229.61 L156.92,229.6 L157.61,229.6 L158.31,229.59 L159.01,229.59 L159.71,229.59 L160.4,229.58 L161.1,229.58 L161.8,229.58 L162.5,229.57 L163.19,229.57 L163.89,229.57 L164.59,229.56 L165.29,229.56 L165.98,229.56 L166.68,229.55 L167.38,229.55 L168.08,229.55 L168.77,229.54 L169.47,229.54 L170.17,229.54 L170.87,229.53 L171.56,229.53 L172.26,229.53 L172.96,229.52 L173.66,229.52 L174.35,229.52 L175.05,229.51 L175.75,229.51 L176.45,229.51 L177.14,229.5 L177.84,229.5 L178.54,229.5 L179.24,229.49 L179.93,229.49 L180.63,229.49 L181.33,229.48 L182.03,229.48 L182.72,229.48 L183.42,229.47 L184.12,229.47 L184.82,229.47 L185.51,229.46 L186.21,229.46 L186.91,229.46 L187.61,229.45 L188.3,229.45 L189,229.45 L189.7,229.44 L190.4,229.44 L191.09,229.44 L191.79,229.43 L192.49,229.43 L193.19,229.43 L193.88,229.42 L194.58,229.42 L195.28,229.42 L195.98,229.41 L196.67,229.41 L197.37,229.41 L198.07,229.4 L198.77,229.4 L199.46,229.4 L200.16,229.39 L200.86,229.39 L201.56,229.39 L202.25,229.38 L202.95,229.38 L203.65,229.38 L204.35,229.37 L205.04,229.37 L205.74,229.37 L206.44,229.36 L207.14,229.36 L207.83,229.36 L208.53,229.35 L209.23,229.35 L209.93,229.35 L210.62,229.34 L211.32,229.34 L212.02,229.34 L212.72,229.33 L213.41,229.33 L214.11,229.33 L214.81,229.32 L215.51,229.32 L216.2,229.32 L216.9,229.31 L217.6,229.31 L218.3,229.31 L218.99,229.3 L219.69,229.3 L220.39,229.29 L221.09,229.29 L221.78,229.29 L222.48,229.28 L223.18,229.28 L223.88,229.28 L224.57,229.27 L225.27,229.27 L225.97,229.27 L226.67,229.26 L227.36,229.26 L228.06,229.26 L228.76,229.25 L229.46,229.25 L230.15,229.25 L230.85,229.24 L231.55,229.24 L232.25,229.24 L232.94,229.23 L233.64,229.23 L234.34,229.22 L235.04,229.22 L235.73,229.22 L236.43,229.21 L237.13,229.21 L237.83,229.21 L238.52,229.2 L239.22,229.2 L239.92,229.2 L240.62,229.19 L241.31,229.19 L242.01,229.19 L242.71,229.18 L243.41,229.18 L244.1,229.18 L244.8,229.17 L245.5,229.17 L246.2,229.16 L246.89,229.16 L247.59,229.16 L248.29,229.15 L248.99,229.15 L249.68,229.15 L250.38,229.14 L251.08,229.14 L251.78,229.14 L252.47,229.13 L253.17,229.13 L253.87,229.13 L254.57,229.12 L255.26,229.12 L255.96,229.12 L256.66,229.11 L257.36,229.11 L258.05,229.11 L258.75,229.1 L259.45,229.1 L260.15,229.09 L260.84,229.09 L261.54,229.09 L262.24,229.08 L262.94,229.08 L263.63,229.08 L264.33,229.07 L265.03,229.07 L265.73,229.07 L266.42,229.06 L267.12,229.06 L267.82,229.06 L268.52,229.05 L269.21,229.05 L269.91,229.05 L270.61,229.04 L271.31,229.04 L272,229.03 L272.7,229.03 L273.4,229.03 L274.1,229.02 L274.79,229.02 L275.49,229.02 L276.19,229.01 L276.89,229.01 L277.58,229.01 L278.28,229 L278.98,229 L279.68,229 L280.37,228.99 L281.07,228.99 L281.77,228.99 L282.47,228.98 L283.16,228.98 L283.86,228.97 L284.56,228.97 L285.26,228.97 L285.95,228.96 L286.65,228.96 L287.35,228.96 L288.05,228.95 L288.74,228.95 L289.44,228.95 L290.14,228.94 L290.84,228.94 L291.53,228.94 L292.23,228.93 L292.93,228.93 L293.63,228.93 L294.32,228.92 L295.02,228.92 L295.72,228.92 L296.42,228.91 L297.11,228.91 L297.81,228.9 L298.51,228.9 L299.21,228.9 L299.9,228.89 L300.6,228.89 L301.3,228.89 L302,228.88 L302.69,228.88 L303.39,228.88 L304.09,228.87 L304.79,228.87 L305.48,228.87 L306.18,228.86 L306.88,228.86 L307.58,228.86 L308.27,228.85 L308.97,228.85 L309.67,228.84 L310.37,228.84 L311.06,228.84 L311.76,228.83 L312.46,228.83 L313.16,228.83 L313.85,228.82 L314.55,228.82 L315.25,228.82 L315.95,228.81 L316.64,228.81 L317.34,228.81 L318.04,228.8 L318.74,228.8 L319.43,228.8 L320.13,228.79 L320.83,228.79 L321.53,228.79 L322.22,228.78 L322.92,228.78 L323.62,228.77 L324.32,228.77 L325.01,228.77 L325.71,228.76 L326.41,228.76 L327.11,228.76 L327.8,228.75 L328.5,228.75" fill="none" stroke="#008000" stroke-width="2.2" stroke-dasharray="2 10.7" stroke-linejoin="round"/>
<rect x="49.5" y="10.5" width="279" height="225" fill="none" stroke="#383838" stroke-width="1.3"/>
<path d="M45.2,235.5H49.5M47.2,214.41H49.5M45.2,193.31H49.5M47.2,172.22H49.5M45.2,151.12H49.5M47.2,130.03H49.5M45.2,108.94H49.5M47.2,87.84H49.5M45.2,66.75H49.5M47.2,45.66H49.5M45.2,24.56H49.5M49.5,235.5V239.8M77.4,235.5V237.8M105.3,235.5V239.8M133.2,235.5V237.8M161.1,235.5V239.8M189,235.5V237.8M216.9,235.5V239.8M244.8,235.5V237.8M272.7,235.5V239.8M300.6,235.5V237.8M328.5,235.5V239.8" stroke="#383838" stroke-width="1.3" fill="none"/>
<text transform="translate(41.2,239.6) scale(0.9,1)" font-size="14.3" text-anchor="end">0</text>
<text transform="translate(41.2,197.41) scale(0.9,1)" font-size="14.3" text-anchor="end">30</text>
<text transform="translate(41.2,155.22) scale(0.9,1)" font-size="14.3" text-anchor="end">60</text>
<text transform="translate(41.2,113.04) scale(0.9,1)" font-size="14.3" text-anchor="end">90</text>
<text transform="translate(41.2,70.85) scale(0.9,1)" font-size="14.3" text-anchor="end">120</text>
<text transform="translate(41.2,28.66) scale(0.9,1)" font-size="14.3" text-anchor="end">150</text>
<text transform="translate(49.5,253.9) scale(0.9,1)" font-size="14.3" text-anchor="middle">0</text>
<text transform="translate(105.3,253.9) scale(0.9,1)" font-size="14.3" text-anchor="middle">4</text>
<text transform="translate(161.1,253.9) scale(0.9,1)" font-size="14.3" text-anchor="middle">8</text>
<text transform="translate(216.9,253.9) scale(0.9,1)" font-size="14.3" text-anchor="middle">12</text>
<text transform="translate(272.7,253.9) scale(0.9,1)" font-size="14.3" text-anchor="middle">16</text>
<text transform="translate(328.5,253.9) scale(0.9,1)" font-size="14.3" text-anchor="middle">20</text>
<text transform="translate(189,275.9) scale(0.955,1)" font-size="14.3" text-anchor="middle">Time (min)</text>
<text x="0" y="0" font-size="14.3" text-anchor="middle" transform="translate(13.9,123) rotate(-90) scale(0.972,1)">Gas uptake (v/v)</text>
<text x="-1" y="15.9" font-size="21.2" text-anchor="start">a</text>
<path d="M131.8,136.4H164" stroke="#808000" stroke-width="2.2" stroke-dasharray="3.7 6.3"/>
<path d="M131.8,153.6H164" stroke="#ff0000" stroke-width="2.2" stroke-dasharray="8.6 7 1.7 7 1.7 7"/>
<path d="M131.8,170.7H164" stroke="#000" stroke-width="2.2" stroke-dasharray="9.3 12.5"/>
<path d="M131.8,187.8H164" stroke="#0000ff" stroke-width="2.2" stroke-dasharray="12 7 1.8 7"/>
<path d="M131.8,204.8H164" stroke="#008000" stroke-width="2.2" stroke-dasharray="2 11.3"/>
<text x="166.6" y="140.9" font-size="14.3" text-anchor="start" textLength="128.2" lengthAdjust="spacingAndGlyphs">Tryptophan (5k ppm)</text>
<text x="166.6" y="158.4" font-size="14.3" text-anchor="start" textLength="128.2" lengthAdjust="spacingAndGlyphs">Tryptophan (3k ppm)</text>
<text x="166.6" y="175.5" font-size="14.3" text-anchor="start" textLength="128.2" lengthAdjust="spacingAndGlyphs">Tryptophan (1k ppm)</text>
<text x="166.6" y="192.4" font-size="14.3" text-anchor="start" textLength="136.5" lengthAdjust="spacingAndGlyphs">Tryptophan (300 ppm)</text>
<text x="166.6" y="209.3" font-size="14.3" text-anchor="start" textLength="67.3" lengthAdjust="spacingAndGlyphs">Pure water</text>
<path d="M676.5,16V32M671.5,16V32M666.5,16V32M661.5,16V32M656.5,17V32M651.5,17V32M646.5,17V33M641.5,17V33M637.5,17V33M632.5,17V33M627.5,17V33M622.5,17V33M617.5,17V33M612.5,17V33M607.5,17V33M602.5,17V33M598.5,18V33M593.5,18V34M588.5,18V34M583.5,18V34M578.5,18V34M573.5,18V34M568.5,18V34M563.5,18V34M559.5,19V35M554.5,19V35M549.5,19V35M544.5,19V35M539.5,20V35M534.5,20V36M529.5,20V36M524.5,20V36M520.5,21V37M515.5,21V37M510.5,22V37M505.5,22V38M500.5,22V38M495.5,23V39M490.5,23V39M485.5,24V39M480.5,24V40M476.5,25V41M471.5,25V41M466.5,26V42M461.5,27V43M456.5,28V44M451.5,30V45M446.5,31V47M441.5,33V48M437.5,34V50M432.5,36V52M427.5,39V55M422.5,42V58M417.5,47V63M412.5,54V69M407.5,65V80M402.5,81V97" fill="none" stroke="#ff0000" stroke-opacity="0.25" stroke-width="1.0"/>
<path d="M675.15,15.5H677.85M675.15,32.5H677.85M670.15,15.5H672.85M670.15,32.5H672.85M665.15,15.5H667.85M665.15,32.5H667.85M660.15,15.5H662.85M660.15,32.5H662.85M655.15,16.5H657.85M655.15,32.5H657.85M650.15,16.5H652.85M650.15,32.5H652.85M645.15,16.5H647.85M645.15,33.5H647.85M640.15,16.5H642.85M640.15,33.5H642.85M636.15,16.5H638.85M636.15,33.5H638.85M631.15,16.5H633.85M631.15,33.5H633.85M626.15,16.5H628.85M626.15,33.5H628.85M621.15,16.5H623.85M621.15,33.5H623.85M616.15,16.5H618.85M616.15,33.5H618.85M611.15,16.5H613.85M611.15,33.5H613.85M606.15,16.5H608.85M606.15,33.5H608.85M601.15,16.5H603.85M601.15,33.5H603.85M597.15,17.5H599.85M597.15,33.5H599.85M592.15,17.5H594.85M592.15,34.5H594.85M587.15,17.5H589.85M587.15,34.5H589.85M582.15,17.5H584.85M582.15,34.5H584.85M577.15,17.5H579.85M577.15,34.5H579.85M572.15,17.5H574.85M572.15,34.5H574.85M567.15,17.5H569.85M567.15,34.5H569.85M562.15,17.5H564.85M562.15,34.5H564.85M558.15,18.5H560.85M558.15,35.5H560.85M553.15,18.5H555.85M553.15,35.5H555.85M548.15,18.5H550.85M548.15,35.5H550.85M543.15,18.5H545.85M543.15,35.5H545.85M538.15,19.5H540.85M538.15,35.5H540.85M533.15,19.5H535.85M533.15,36.5H535.85M528.15,19.5H530.85M528.15,36.5H530.85M523.15,19.5H525.85M523.15,36.5H525.85M519.15,20.5H521.85M519.15,37.5H521.85M514.15,20.5H516.85M514.15,37.5H516.85M509.15,21.5H511.85M509.15,37.5H511.85M504.15,21.5H506.85M504.15,38.5H506.85M499.15,21.5H501.85M499.15,38.5H501.85M494.15,22.5H496.85M494.15,39.5H496.85M489.15,22.5H491.85M489.15,39.5H491.85M484.15,23.5H486.85M484.15,39.5H486.85M479.15,23.5H481.85M479.15,40.5H481.85M475.15,24.5H477.85M475.15,41.5H477.85M470.15,24.5H472.85M470.15,41.5H472.85M465.15,25.5H467.85M465.15,42.5H467.85M460.15,26.5H462.85M460.15,43.5H462.85M455.15,27.5H457.85M455.15,44.5H457.85M450.15,29.5H452.85M450.15,45.5H452.85M445.15,30.5H447.85M445.15,47.5H447.85M440.15,32.5H442.85M440.15,48.5H442.85M436.15,33.5H438.85M436.15,50.5H438.85M431.15,35.5H433.85M431.15,52.5H433.85M426.15,38.5H428.85M426.15,55.5H428.85M421.15,41.5H423.85M421.15,58.5H423.85M416.15,46.5H418.85M416.15,63.5H418.85M411.15,53.5H413.85M411.15,69.5H413.85M406.15,64.5H408.85M406.15,80.5H408.85M401.15,80.5H403.85M401.15,97.5H403.85" fill="none" stroke="#ff0000" stroke-opacity="0.4" stroke-width="1.0"/>
<path d="M676.5,33V36M671.5,33V36M666.5,33V36M661.5,34V36M656.5,34V36M651.5,34V36M646.5,34V36M641.5,34V36M637.5,34V37M632.5,34V37M627.5,34V37M622.5,35V37M617.5,35V37M612.5,35V37M607.5,35V38M602.5,35V38M598.5,35V38M593.5,36V38M588.5,36V39M583.5,36V39M578.5,36V39M573.5,37V40M568.5,37V40M563.5,37V40M559.5,38V41M554.5,38V41M549.5,38V41M544.5,39V42M539.5,39V42M534.5,40V43M529.5,40V43M524.5,40V44M520.5,41V44M515.5,41V45M510.5,42V45M505.5,42V46M500.5,43V47M495.5,44V47M490.5,44V48M485.5,45V49M480.5,46V50M476.5,47V51M471.5,48V52M466.5,49V53M461.5,50V54M456.5,51V55M451.5,52V57M446.5,53V58M441.5,55V60M437.5,57V62M432.5,58V64M427.5,60V67M422.5,63V70M417.5,66V74M412.5,69V80M407.5,79V89M402.5,100V107" fill="none" stroke="#ff00ff" stroke-opacity="0.22" stroke-width="1.0"/>
<path d="M675.15,32.5H677.85M675.15,36.5H677.85M670.15,32.5H672.85M670.15,36.5H672.85M665.15,32.5H667.85M665.15,36.5H667.85M660.15,33.5H662.85M660.15,36.5H662.85M655.15,33.5H657.85M655.15,36.5H657.85M650.15,33.5H652.85M650.15,36.5H652.85M645.15,33.5H647.85M645.15,36.5H647.85M640.15,33.5H642.85M640.15,36.5H642.85M636.15,33.5H638.85M636.15,37.5H638.85M631.15,33.5H633.85M631.15,37.5H633.85M626.15,33.5H628.85M626.15,37.5H628.85M621.15,34.5H623.85M621.15,37.5H623.85M616.15,34.5H618.85M616.15,37.5H618.85M611.15,34.5H613.85M611.15,37.5H613.85M606.15,34.5H608.85M606.15,38.5H608.85M601.15,34.5H603.85M601.15,38.5H603.85M597.15,34.5H599.85M597.15,38.5H599.85M592.15,35.5H594.85M592.15,38.5H594.85M587.15,35.5H589.85M587.15,39.5H589.85M582.15,35.5H584.85M582.15,39.5H584.85M577.15,35.5H579.85M577.15,39.5H579.85M572.15,36.5H574.85M572.15,40.5H574.85M567.15,36.5H569.85M567.15,40.5H569.85M562.15,36.5H564.85M562.15,40.5H564.85M558.15,37.5H560.85M558.15,41.5H560.85M553.15,37.5H555.85M553.15,41.5H555.85M548.15,37.5H550.85M548.15,41.5H550.85M543.15,38.5H545.85M543.15,42.5H545.85M538.15,38.5H540.85M538.15,42.5H540.85M533.15,39.5H535.85M533.15,43.5H535.85M528.15,39.5H530.85M528.15,43.5H530.85M523.15,39.5H525.85M523.15,44.5H525.85M519.15,40.5H521.85M519.15,44.5H521.85M514.15,40.5H516.85M514.15,45.5H516.85M509.15,41.5H511.85M509.15,45.5H511.85M504.15,41.5H506.85M504.15,46.5H506.85M499.15,42.5H501.85M499.15,47.5H501.85M494.15,43.5H496.85M494.15,47.5H496.85M489.15,43.5H491.85M489.15,48.5H491.85M484.15,44.5H486.85M484.15,49.5H486.85M479.15,45.5H481.85M479.15,50.5H481.85M475.15,46.5H477.85M475.15,51.5H477.85M470.15,47.5H472.85M470.15,52.5H472.85M465.15,48.5H467.85M465.15,53.5H467.85M460.15,49.5H462.85M460.15,54.5H462.85M455.15,50.5H457.85M455.15,55.5H457.85M450.15,51.5H452.85M450.15,57.5H452.85M445.15,52.5H447.85M445.15,58.5H447.85M440.15,54.5H442.85M440.15,60.5H442.85M436.15,56.5H438.85M436.15,62.5H438.85M431.15,57.5H433.85M431.15,64.5H433.85M426.15,59.5H428.85M426.15,67.5H428.85M421.15,62.5H423.85M421.15,70.5H423.85M416.15,65.5H418.85M416.15,74.5H418.85M411.15,68.5H413.85M411.15,80.5H413.85M406.15,78.5H408.85M406.15,89.5H408.85M401.15,99.5H403.85M401.15,107.5H403.85" fill="none" stroke="#ff00ff" stroke-opacity="0.3" stroke-width="1.0"/>
<path d="M676.5,39V48M671.5,39V48M666.5,39V49M661.5,40V49M656.5,40V49M651.5,40V49M646.5,41V49M641.5,41V50M637.5,42V50M632.5,42V50M627.5,43V51M622.5,43V51M617.5,44V51M612.5,44V52M607.5,45V52M602.5,46V52M598.5,46V53M593.5,47V53M588.5,48V54M583.5,48V54M578.5,49V55M573.5,50V56M568.5,51V56M563.5,51V57M559.5,52V57M554.5,53V58M549.5,53V58M544.5,54V59M539.5,55V59M534.5,55V60M529.5,56V61M524.5,57V62M520.5,58V63M515.5,58V63M510.5,59V64M505.5,60V65M500.5,61V66M495.5,62V66M490.5,62V67M485.5,63V68M480.5,64V69M476.5,65V70M471.5,66V71M466.5,67V72M461.5,68V74M456.5,68V75M451.5,69V77M446.5,70V79M441.5,71V81M437.5,72V83M432.5,74V85M427.5,76V88M422.5,78V92M417.5,82V96M412.5,86V103M407.5,95V111M402.5,116V128" fill="none" stroke="#800080" stroke-opacity="0.2" stroke-width="1.0"/>
<path d="M675.15,38.5H677.85M675.15,48.5H677.85M670.15,38.5H672.85M670.15,48.5H672.85M665.15,38.5H667.85M665.15,49.5H667.85M660.15,39.5H662.85M660.15,49.5H662.85M655.15,39.5H657.85M655.15,49.5H657.85M650.15,39.5H652.85M650.15,49.5H652.85M645.15,40.5H647.85M645.15,49.5H647.85M640.15,40.5H642.85M640.15,50.5H642.85M636.15,41.5H638.85M636.15,50.5H638.85M631.15,41.5H633.85M631.15,50.5H633.85M626.15,42.5H628.85M626.15,51.5H628.85M621.15,42.5H623.85M621.15,51.5H623.85M616.15,43.5H618.85M616.15,51.5H618.85M611.15,43.5H613.85M611.15,52.5H613.85M606.15,44.5H608.85M606.15,52.5H608.85M601.15,45.5H603.85M601.15,52.5H603.85M597.15,45.5H599.85M597.15,53.5H599.85M592.15,46.5H594.85M592.15,53.5H594.85M587.15,47.5H589.85M587.15,54.5H589.85M582.15,47.5H584.85M582.15,54.5H584.85M577.15,48.5H579.85M577.15,55.5H579.85M572.15,49.5H574.85M572.15,56.5H574.85M567.15,50.5H569.85M567.15,56.5H569.85M562.15,50.5H564.85M562.15,57.5H564.85M558.15,51.5H560.85M558.15,57.5H560.85M553.15,52.5H555.85M553.15,58.5H555.85M548.15,52.5H550.85M548.15,58.5H550.85M543.15,53.5H545.85M543.15,59.5H545.85M538.15,54.5H540.85M538.15,59.5H540.85M533.15,54.5H535.85M533.15,60.5H535.85M528.15,55.5H530.85M528.15,61.5H530.85M523.15,56.5H525.85M523.15,62.5H525.85M519.15,57.5H521.85M519.15,63.5H521.85M514.15,57.5H516.85M514.15,63.5H516.85M509.15,58.5H511.85M509.15,64.5H511.85M504.15,59.5H506.85M504.15,65.5H506.85M499.15,60.5H501.85M499.15,66.5H501.85M494.15,61.5H496.85M494.15,66.5H496.85M489.15,61.5H491.85M489.15,67.5H491.85M484.15,62.5H486.85M484.15,68.5H486.85M479.15,63.5H481.85M479.15,69.5H481.85M475.15,64.5H477.85M475.15,70.5H477.85M470.15,65.5H472.85M470.15,71.5H472.85M465.15,66.5H467.85M465.15,72.5H467.85M460.15,67.5H462.85M460.15,74.5H462.85M455.15,67.5H457.85M455.15,75.5H457.85M450.15,68.5H452.85M450.15,77.5H452.85M445.15,69.5H447.85M445.15,79.5H447.85M440.15,70.5H442.85M440.15,81.5H442.85M436.15,71.5H438.85M436.15,83.5H438.85M431.15,73.5H433.85M431.15,85.5H433.85M426.15,75.5H428.85M426.15,88.5H428.85M421.15,77.5H423.85M421.15,92.5H423.85M416.15,81.5H418.85M416.15,96.5H418.85M411.15,85.5H413.85M411.15,103.5H413.85M406.15,94.5H408.85M406.15,111.5H408.85M401.15,115.5H403.85M401.15,128.5H403.85" fill="none" stroke="#800080" stroke-opacity="0.3" stroke-width="1.0"/>
<path d="M398.5,229.9 L398.64,224.74 L398.78,219.63 L398.92,214.57 L399.06,209.58 L399.2,204.64 L399.34,199.68 L399.48,194.69 L399.61,189.79 L399.75,185.12 L399.89,180.79 L400.03,176.71 L400.17,172.72 L400.31,168.83 L400.45,165.05 L400.59,161.4 L400.73,157.9 L400.87,154.57 L401.01,151.41 L401.15,148.46 L401.29,145.71 L401.43,143.12 L401.57,140.6 L401.71,138.18 L401.84,135.85 L401.98,133.64 L402.12,131.56 L402.26,129.6 L402.4,127.8 L402.54,126.15 L402.68,124.67 L402.82,123.3 L402.96,122 L403.1,120.76 L403.24,119.58 L403.38,118.47 L403.52,117.43 L403.66,116.46 L403.8,115.56 L403.93,114.73 L404.07,113.98 L404.21,113.3 L404.35,112.68 L404.49,112.09 L404.63,111.53 L404.77,110.99 L404.91,110.48 L405.05,109.99 L405.19,109.52 L405.33,109.07 L405.47,108.65 L405.61,108.23 L405.75,107.84 L405.89,107.45 L406.02,107.08 L406.16,106.72 L406.3,106.37 L406.44,106.03 L406.58,105.69 L406.72,105.35 L406.86,105.02 L407,104.69 L407.14,104.37 L407.28,104.05 L407.42,103.74 L407.56,103.43 L407.7,103.12 L407.84,102.82 L407.98,102.53 L408.12,102.23 L408.25,101.95 L408.39,101.66 L408.53,101.38 L408.67,101.11 L408.81,100.84 L408.95,100.57 L409.09,100.31 L409.23,100.05 L409.37,99.79 L409.51,99.54 L409.65,99.29 L409.79,99.05 L409.93,98.81 L410.07,98.57 L410.21,98.33 L410.34,98.1 L410.48,97.87 L410.62,97.65 L410.76,97.42 L410.9,97.2 L411.04,96.99 L411.18,96.77 L411.32,96.56 L411.46,96.35 L411.6,96.14 L411.74,95.94 L411.88,95.74 L412.02,95.54 L412.16,95.34 L412.3,95.14 L412.44,94.95 L413.13,94 L413.83,93.09 L414.53,92.22 L415.22,91.39 L415.92,90.6 L416.62,89.85 L417.31,89.14 L418.01,88.47 L418.71,87.84 L419.4,87.25 L420.1,86.7 L420.8,86.18 L421.49,85.69 L422.19,85.22 L422.89,84.77 L423.58,84.34 L424.28,83.92 L424.98,83.51 L425.67,83.1 L426.37,82.69 L427.07,82.28 L427.76,81.88 L428.46,81.49 L429.16,81.1 L429.85,80.71 L430.55,80.34 L431.25,79.98 L431.94,79.63 L432.64,79.29 L433.34,78.96 L434.03,78.66 L434.73,78.36 L435.43,78.09 L436.12,77.82 L436.82,77.57 L437.52,77.32 L438.21,77.09 L438.91,76.86 L439.61,76.64 L440.31,76.42 L441,76.2 L441.7,75.99 L442.4,75.77 L443.09,75.56 L443.79,75.34 L444.49,75.12 L445.18,74.9 L445.88,74.69 L446.58,74.48 L447.27,74.27 L447.97,74.06 L448.67,73.86 L449.36,73.66 L450.06,73.47 L450.76,73.28 L451.45,73.1 L452.15,72.92 L452.85,72.75 L453.54,72.58 L454.24,72.41 L454.94,72.25 L455.63,72.09 L456.33,71.93 L457.03,71.77 L457.72,71.62 L458.42,71.46 L459.12,71.3 L459.81,71.15 L460.51,70.99 L461.21,70.83 L461.9,70.67 L462.6,70.51 L463.3,70.36 L463.99,70.2 L464.69,70.04 L465.39,69.89 L466.08,69.73 L466.78,69.57 L467.48,69.42 L468.18,69.27 L468.87,69.11 L469.57,68.96 L470.27,68.81 L470.96,68.66 L471.66,68.51 L472.36,68.35 L473.05,68.2 L473.75,68.05 L474.45,67.91 L475.14,67.76 L475.84,67.61 L476.54,67.47 L477.23,67.33 L477.93,67.2 L478.63,67.06 L479.32,66.93 L480.02,66.8 L480.72,66.66 L481.41,66.54 L482.11,66.41 L482.81,66.28 L483.5,66.16 L484.2,66.03 L484.9,65.91 L485.59,65.78 L486.29,65.66 L486.99,65.54 L487.68,65.42 L488.38,65.29 L489.08,65.17 L489.77,65.05 L490.47,64.93 L491.17,64.81 L491.86,64.69 L492.56,64.57 L493.26,64.45 L493.95,64.33 L494.65,64.22 L495.35,64.1 L496.05,63.98 L496.74,63.86 L497.44,63.75 L498.14,63.63 L498.83,63.51 L499.53,63.4 L500.23,63.28 L500.92,63.17 L501.62,63.05 L502.32,62.94 L503.01,62.82 L503.71,62.71 L504.41,62.59 L505.1,62.48 L505.8,62.37 L506.5,62.25 L507.19,62.14 L507.89,62.03 L508.59,61.91 L509.28,61.8 L509.98,61.69 L510.68,61.58 L511.37,61.46 L512.07,61.35 L512.77,61.24 L513.46,61.13 L514.16,61.02 L514.86,60.91 L515.55,60.79 L516.25,60.68 L516.95,60.57 L517.64,60.46 L518.34,60.35 L519.04,60.23 L519.73,60.12 L520.43,60.01 L521.13,59.9 L521.82,59.78 L522.52,59.67 L523.22,59.56 L523.92,59.44 L524.61,59.33 L525.31,59.22 L526.01,59.1 L526.7,58.99 L527.4,58.88 L528.1,58.77 L528.79,58.66 L529.49,58.55 L530.19,58.43 L530.88,58.32 L531.58,58.22 L532.28,58.11 L532.97,58 L533.67,57.89 L534.37,57.79 L535.06,57.68 L535.76,57.58 L536.46,57.47 L537.15,57.37 L537.85,57.27 L538.55,57.17 L539.24,57.07 L539.94,56.97 L540.64,56.88 L541.33,56.78 L542.03,56.69 L542.73,56.6 L543.42,56.51 L544.12,56.42 L544.82,56.33 L545.51,56.24 L546.21,56.16 L546.91,56.08 L547.6,56 L548.3,55.92 L549,55.84 L549.69,55.76 L550.39,55.68 L551.09,55.61 L551.79,55.53 L552.48,55.45 L553.18,55.38 L553.88,55.3 L554.57,55.23 L555.27,55.15 L555.97,55.08 L556.66,55 L557.36,54.92 L558.06,54.85 L558.75,54.77 L559.45,54.69 L560.15,54.61 L560.84,54.53 L561.54,54.45 L562.24,54.36 L562.93,54.28 L563.63,54.19 L564.33,54.11 L565.02,54.02 L565.72,53.93 L566.42,53.83 L567.11,53.74 L567.81,53.64 L568.51,53.54 L569.2,53.44 L569.9,53.34 L570.6,53.24 L571.29,53.14 L571.99,53.03 L572.69,52.93 L573.38,52.82 L574.08,52.72 L574.78,52.61 L575.47,52.51 L576.17,52.4 L576.87,52.29 L577.56,52.19 L578.26,52.08 L578.96,51.98 L579.66,51.87 L580.35,51.77 L581.05,51.67 L581.75,51.57 L582.44,51.47 L583.14,51.37 L583.84,51.27 L584.53,51.17 L585.23,51.08 L585.93,50.99 L586.62,50.9 L587.32,50.81 L588.02,50.72 L588.71,50.64 L589.41,50.55 L590.11,50.47 L590.8,50.38 L591.5,50.3 L592.2,50.22 L592.89,50.14 L593.59,50.05 L594.29,49.97 L594.98,49.89 L595.68,49.81 L596.38,49.73 L597.07,49.65 L597.77,49.57 L598.47,49.5 L599.16,49.42 L599.86,49.34 L600.56,49.26 L601.25,49.19 L601.95,49.11 L602.65,49.04 L603.34,48.96 L604.04,48.89 L604.74,48.81 L605.43,48.74 L606.13,48.67 L606.83,48.6 L607.53,48.53 L608.22,48.45 L608.92,48.38 L609.62,48.31 L610.31,48.24 L611.01,48.18 L611.71,48.11 L612.4,48.04 L613.1,47.97 L613.8,47.91 L614.49,47.84 L615.19,47.78 L615.89,47.71 L616.58,47.65 L617.28,47.58 L617.98,47.52 L618.67,47.46 L619.37,47.4 L620.07,47.33 L620.76,47.27 L621.46,47.21 L622.16,47.15 L622.85,47.09 L623.55,47.03 L624.25,46.98 L624.94,46.92 L625.64,46.86 L626.34,46.8 L627.03,46.74 L627.73,46.68 L628.43,46.62 L629.12,46.57 L629.82,46.51 L630.52,46.45 L631.21,46.39 L631.91,46.34 L632.61,46.28 L633.3,46.22 L634,46.17 L634.7,46.11 L635.4,46.06 L636.09,46 L636.79,45.94 L637.49,45.89 L638.18,45.83 L638.88,45.78 L639.58,45.73 L640.27,45.67 L640.97,45.62 L641.67,45.56 L642.36,45.51 L643.06,45.46 L643.76,45.4 L644.45,45.35 L645.15,45.3 L645.85,45.25 L646.54,45.2 L647.24,45.14 L647.94,45.09 L648.63,45.04 L649.33,44.99 L650.03,44.94 L650.72,44.89 L651.42,44.84 L652.12,44.79 L652.81,44.75 L653.51,44.7 L654.21,44.65 L654.9,44.6 L655.6,44.55 L656.3,44.51 L656.99,44.46 L657.69,44.41 L658.39,44.37 L659.08,44.32 L659.78,44.28 L660.48,44.23 L661.17,44.19 L661.87,44.15 L662.57,44.1 L663.27,44.06 L663.96,44.02 L664.66,43.97 L665.36,43.93 L666.05,43.89 L666.75,43.85 L667.45,43.81 L668.14,43.77 L668.84,43.73 L669.54,43.69 L670.23,43.65 L670.93,43.61 L671.63,43.57 L672.32,43.53 L673.02,43.5 L673.72,43.46 L674.41,43.42 L675.11,43.39 L675.81,43.35 L676.5,43.32 L677.2,43.28" fill="none" stroke="#800080" stroke-width="2.2" stroke-dasharray="6.6 6 1.5 6.5 1.5 6" stroke-linejoin="round"/>
<path d="M398.5,229.9 L398.64,223.63 L398.78,216.57 L398.92,208.85 L399.06,200.4 L399.2,191.06 L399.34,180.79 L399.48,167.49 L399.61,152.94 L399.75,142.91 L399.89,137.73 L400.03,133.69 L400.17,130.43 L400.31,127.61 L400.45,124.87 L400.59,121.86 L400.73,118.51 L400.87,115.08 L401.01,111.72 L401.15,108.58 L401.29,105.83 L401.43,103.62 L401.57,101.8 L401.71,100.1 L401.84,98.53 L401.98,97.08 L402.12,95.72 L402.26,94.45 L402.4,93.27 L402.54,92.15 L402.68,91.1 L402.82,90.09 L402.96,89.12 L403.1,88.18 L403.24,87.27 L403.38,86.38 L403.52,85.52 L403.66,84.69 L403.8,83.89 L403.93,83.13 L404.07,82.41 L404.21,81.73 L404.35,81.1 L404.49,80.51 L404.63,79.97 L404.77,79.49 L404.91,79.04 L405.05,78.61 L405.19,78.2 L405.33,77.82 L405.47,77.45 L405.61,77.09 L405.75,76.75 L405.89,76.43 L406.02,76.12 L406.16,75.81 L406.3,75.52 L406.44,75.23 L406.58,74.96 L406.72,74.68 L406.86,74.41 L407,74.15 L407.14,73.88 L407.28,73.61 L407.42,73.35 L407.56,73.08 L407.7,72.8 L407.84,72.52 L407.98,72.23 L408.12,71.93 L408.25,71.63 L408.39,71.31 L408.53,70.99 L408.67,70.67 L408.81,70.35 L408.95,70.02 L409.09,69.69 L409.23,69.35 L409.37,69.02 L409.51,68.68 L409.65,68.34 L409.79,68 L409.93,67.67 L410.07,67.33 L410.21,66.99 L410.34,66.66 L410.48,66.32 L410.62,65.99 L410.76,65.66 L410.9,65.34 L411.04,65.01 L411.18,64.7 L411.32,64.38 L411.46,64.07 L411.6,63.77 L411.74,63.47 L411.88,63.18 L412.02,62.89 L412.16,62.61 L412.3,62.34 L412.44,62.07 L413.13,60.88 L413.83,59.81 L414.53,58.8 L415.22,57.84 L415.92,56.94 L416.62,56.09 L417.31,55.28 L418.01,54.51 L418.71,53.78 L419.4,53.08 L420.1,52.4 L420.8,51.74 L421.49,51.12 L422.19,50.52 L422.89,49.95 L423.58,49.41 L424.28,48.89 L424.98,48.39 L425.67,47.91 L426.37,47.45 L427.07,47.01 L427.76,46.58 L428.46,46.17 L429.16,45.77 L429.85,45.38 L430.55,45.01 L431.25,44.65 L431.94,44.31 L432.64,43.99 L433.34,43.67 L434.03,43.37 L434.73,43.07 L435.43,42.79 L436.12,42.51 L436.82,42.24 L437.52,41.98 L438.21,41.73 L438.91,41.48 L439.61,41.23 L440.31,40.99 L441,40.76 L441.7,40.53 L442.4,40.31 L443.09,40.09 L443.79,39.89 L444.49,39.68 L445.18,39.48 L445.88,39.28 L446.58,39.08 L447.27,38.88 L447.97,38.67 L448.67,38.46 L449.36,38.25 L450.06,38.04 L450.76,37.83 L451.45,37.63 L452.15,37.42 L452.85,37.21 L453.54,37.01 L454.24,36.82 L454.94,36.63 L455.63,36.45 L456.33,36.27 L457.03,36.1 L457.72,35.93 L458.42,35.76 L459.12,35.6 L459.81,35.44 L460.51,35.28 L461.21,35.13 L461.9,34.98 L462.6,34.84 L463.3,34.7 L463.99,34.56 L464.69,34.43 L465.39,34.3 L466.08,34.18 L466.78,34.07 L467.48,33.95 L468.18,33.84 L468.87,33.73 L469.57,33.62 L470.27,33.52 L470.96,33.41 L471.66,33.31 L472.36,33.22 L473.05,33.12 L473.75,33.02 L474.45,32.93 L475.14,32.84 L475.84,32.75 L476.54,32.66 L477.23,32.57 L477.93,32.48 L478.63,32.39 L479.32,32.31 L480.02,32.22 L480.72,32.14 L481.41,32.05 L482.11,31.97 L482.81,31.89 L483.5,31.81 L484.2,31.73 L484.9,31.65 L485.59,31.57 L486.29,31.5 L486.99,31.42 L487.68,31.35 L488.38,31.28 L489.08,31.21 L489.77,31.14 L490.47,31.07 L491.17,31 L491.86,30.94 L492.56,30.87 L493.26,30.81 L493.95,30.75 L494.65,30.68 L495.35,30.62 L496.05,30.56 L496.74,30.5 L497.44,30.44 L498.14,30.38 L498.83,30.32 L499.53,30.26 L500.23,30.21 L500.92,30.15 L501.62,30.09 L502.32,30.04 L503.01,29.98 L503.71,29.93 L504.41,29.87 L505.1,29.82 L505.8,29.77 L506.5,29.71 L507.19,29.66 L507.89,29.61 L508.59,29.56 L509.28,29.51 L509.98,29.46 L510.68,29.4 L511.37,29.35 L512.07,29.3 L512.77,29.25 L513.46,29.2 L514.16,29.15 L514.86,29.1 L515.55,29.05 L516.25,29 L516.95,28.96 L517.64,28.91 L518.34,28.86 L519.04,28.81 L519.73,28.76 L520.43,28.71 L521.13,28.66 L521.82,28.61 L522.52,28.56 L523.22,28.52 L523.92,28.47 L524.61,28.42 L525.31,28.37 L526.01,28.32 L526.7,28.27 L527.4,28.22 L528.1,28.18 L528.79,28.13 L529.49,28.08 L530.19,28.03 L530.88,27.99 L531.58,27.94 L532.28,27.89 L532.97,27.85 L533.67,27.8 L534.37,27.76 L535.06,27.72 L535.76,27.67 L536.46,27.63 L537.15,27.59 L537.85,27.55 L538.55,27.51 L539.24,27.47 L539.94,27.43 L540.64,27.39 L541.33,27.35 L542.03,27.32 L542.73,27.28 L543.42,27.25 L544.12,27.21 L544.82,27.18 L545.51,27.15 L546.21,27.11 L546.91,27.08 L547.6,27.05 L548.3,27.02 L549,26.99 L549.69,26.96 L550.39,26.93 L551.09,26.9 L551.79,26.87 L552.48,26.84 L553.18,26.81 L553.88,26.78 L554.57,26.76 L555.27,26.73 L555.97,26.7 L556.66,26.67 L557.36,26.65 L558.06,26.62 L558.75,26.6 L559.45,26.57 L560.15,26.55 L560.84,26.52 L561.54,26.5 L562.24,26.47 L562.93,26.45 L563.63,26.42 L564.33,26.4 L565.02,26.38 L565.72,26.35 L566.42,26.33 L567.11,26.31 L567.81,26.28 L568.51,26.26 L569.2,26.24 L569.9,26.22 L570.6,26.19 L571.29,26.17 L571.99,26.15 L572.69,26.13 L573.38,26.11 L574.08,26.09 L574.78,26.07 L575.47,26.04 L576.17,26.02 L576.87,26 L577.56,25.98 L578.26,25.96 L578.96,25.95 L579.66,25.93 L580.35,25.91 L581.05,25.89 L581.75,25.87 L582.44,25.85 L583.14,25.83 L583.84,25.81 L584.53,25.8 L585.23,25.78 L585.93,25.76 L586.62,25.75 L587.32,25.73 L588.02,25.71 L588.71,25.7 L589.41,25.68 L590.11,25.66 L590.8,25.65 L591.5,25.63 L592.2,25.61 L592.89,25.6 L593.59,25.58 L594.29,25.57 L594.98,25.55 L595.68,25.54 L596.38,25.52 L597.07,25.51 L597.77,25.49 L598.47,25.48 L599.16,25.46 L599.86,25.45 L600.56,25.43 L601.25,25.42 L601.95,25.41 L602.65,25.39 L603.34,25.38 L604.04,25.36 L604.74,25.35 L605.43,25.34 L606.13,25.32 L606.83,25.31 L607.53,25.3 L608.22,25.28 L608.92,25.27 L609.62,25.26 L610.31,25.24 L611.01,25.23 L611.71,25.22 L612.4,25.21 L613.1,25.19 L613.8,25.18 L614.49,25.17 L615.19,25.15 L615.89,25.14 L616.58,25.13 L617.28,25.12 L617.98,25.11 L618.67,25.09 L619.37,25.08 L620.07,25.07 L620.76,25.06 L621.46,25.04 L622.16,25.03 L622.85,25.02 L623.55,25.01 L624.25,25 L624.94,24.98 L625.64,24.97 L626.34,24.96 L627.03,24.95 L627.73,24.94 L628.43,24.92 L629.12,24.91 L629.82,24.9 L630.52,24.89 L631.21,24.88 L631.91,24.86 L632.61,24.85 L633.3,24.84 L634,24.83 L634.7,24.82 L635.4,24.81 L636.09,24.8 L636.79,24.78 L637.49,24.77 L638.18,24.76 L638.88,24.75 L639.58,24.74 L640.27,24.73 L640.97,24.72 L641.67,24.7 L642.36,24.69 L643.06,24.68 L643.76,24.67 L644.45,24.66 L645.15,24.65 L645.85,24.64 L646.54,24.63 L647.24,24.62 L647.94,24.61 L648.63,24.6 L649.33,24.58 L650.03,24.57 L650.72,24.56 L651.42,24.55 L652.12,24.54 L652.81,24.53 L653.51,24.52 L654.21,24.51 L654.9,24.5 L655.6,24.49 L656.3,24.48 L656.99,24.47 L657.69,24.46 L658.39,24.45 L659.08,24.44 L659.78,24.43 L660.48,24.42 L661.17,24.41 L661.87,24.4 L662.57,24.39 L663.27,24.38 L663.96,24.37 L664.66,24.36 L665.36,24.35 L666.05,24.34 L666.75,24.33 L667.45,24.33 L668.14,24.32 L668.84,24.31 L669.54,24.3 L670.23,24.29 L670.93,24.28 L671.63,24.27 L672.32,24.26 L673.02,24.25 L673.72,24.24 L674.41,24.24 L675.11,24.23 L675.81,24.22 L676.5,24.21 L677.2,24.2" fill="none" stroke="#ff0000" stroke-width="2.2" stroke-dasharray="6.5 4.3 1.5 4 1.5 6.5" stroke-linejoin="round"/>
<path d="M398.5,229.9 L398.64,223.5 L398.78,217.21 L398.92,211.03 L399.06,204.97 L399.2,199.03 L399.34,193.1 L399.48,187.18 L399.61,181.42 L399.75,175.96 L399.89,170.97 L400.03,166.32 L400.17,161.79 L400.31,157.41 L400.45,153.19 L400.59,149.13 L400.73,145.24 L400.87,141.54 L401.01,138.04 L401.15,134.75 L401.29,131.68 L401.43,128.73 L401.57,125.8 L401.71,122.91 L401.84,120.11 L401.98,117.4 L402.12,114.83 L402.26,112.41 L402.4,110.17 L402.54,108.15 L402.68,106.37 L402.82,104.85 L402.96,103.62 L403.1,102.58 L403.24,101.62 L403.38,100.72 L403.52,99.88 L403.66,99.09 L403.8,98.36 L403.93,97.67 L404.07,97.03 L404.21,96.41 L404.35,95.83 L404.49,95.28 L404.63,94.74 L404.77,94.22 L404.91,93.72 L405.05,93.21 L405.19,92.71 L405.33,92.21 L405.47,91.69 L405.61,91.17 L405.75,90.66 L405.89,90.16 L406.02,89.66 L406.16,89.17 L406.3,88.69 L406.44,88.22 L406.58,87.75 L406.72,87.29 L406.86,86.84 L407,86.4 L407.14,85.97 L407.28,85.54 L407.42,85.13 L407.56,84.72 L407.7,84.32 L407.84,83.93 L407.98,83.55 L408.12,83.18 L408.25,82.82 L408.39,82.47 L408.53,82.13 L408.67,81.8 L408.81,81.48 L408.95,81.17 L409.09,80.87 L409.23,80.57 L409.37,80.27 L409.51,79.98 L409.65,79.69 L409.79,79.41 L409.93,79.13 L410.07,78.86 L410.21,78.59 L410.34,78.33 L410.48,78.07 L410.62,77.81 L410.76,77.56 L410.9,77.31 L411.04,77.07 L411.18,76.83 L411.32,76.6 L411.46,76.37 L411.6,76.15 L411.74,75.93 L411.88,75.72 L412.02,75.51 L412.16,75.31 L412.3,75.11 L412.44,74.92 L413.13,74.03 L413.83,73.26 L414.53,72.56 L415.22,71.91 L415.92,71.31 L416.62,70.75 L417.31,70.22 L418.01,69.72 L418.71,69.23 L419.4,68.75 L420.1,68.27 L420.8,67.78 L421.49,67.3 L422.19,66.83 L422.89,66.36 L423.58,65.9 L424.28,65.45 L424.98,65.01 L425.67,64.58 L426.37,64.17 L427.07,63.76 L427.76,63.37 L428.46,63 L429.16,62.64 L429.85,62.29 L430.55,61.97 L431.25,61.66 L431.94,61.36 L432.64,61.08 L433.34,60.81 L434.03,60.54 L434.73,60.28 L435.43,60.02 L436.12,59.76 L436.82,59.5 L437.52,59.23 L438.21,58.95 L438.91,58.67 L439.61,58.39 L440.31,58.1 L441,57.82 L441.7,57.54 L442.4,57.26 L443.09,56.98 L443.79,56.71 L444.49,56.45 L445.18,56.2 L445.88,55.95 L446.58,55.72 L447.27,55.5 L447.97,55.29 L448.67,55.08 L449.36,54.88 L450.06,54.68 L450.76,54.49 L451.45,54.3 L452.15,54.12 L452.85,53.94 L453.54,53.76 L454.24,53.58 L454.94,53.41 L455.63,53.24 L456.33,53.06 L457.03,52.89 L457.72,52.72 L458.42,52.55 L459.12,52.38 L459.81,52.2 L460.51,52.03 L461.21,51.86 L461.9,51.69 L462.6,51.52 L463.3,51.36 L463.99,51.19 L464.69,51.03 L465.39,50.86 L466.08,50.7 L466.78,50.54 L467.48,50.38 L468.18,50.23 L468.87,50.07 L469.57,49.92 L470.27,49.77 L470.96,49.62 L471.66,49.48 L472.36,49.34 L473.05,49.2 L473.75,49.06 L474.45,48.93 L475.14,48.8 L475.84,48.67 L476.54,48.55 L477.23,48.42 L477.93,48.3 L478.63,48.18 L479.32,48.06 L480.02,47.94 L480.72,47.83 L481.41,47.71 L482.11,47.6 L482.81,47.48 L483.5,47.37 L484.2,47.26 L484.9,47.15 L485.59,47.04 L486.29,46.94 L486.99,46.83 L487.68,46.72 L488.38,46.62 L489.08,46.51 L489.77,46.41 L490.47,46.3 L491.17,46.2 L491.86,46.09 L492.56,45.99 L493.26,45.88 L493.95,45.78 L494.65,45.67 L495.35,45.57 L496.05,45.46 L496.74,45.36 L497.44,45.26 L498.14,45.15 L498.83,45.05 L499.53,44.95 L500.23,44.85 L500.92,44.75 L501.62,44.65 L502.32,44.56 L503.01,44.46 L503.71,44.36 L504.41,44.27 L505.1,44.18 L505.8,44.08 L506.5,43.99 L507.19,43.91 L507.89,43.82 L508.59,43.73 L509.28,43.65 L509.98,43.56 L510.68,43.48 L511.37,43.4 L512.07,43.32 L512.77,43.25 L513.46,43.17 L514.16,43.09 L514.86,43.02 L515.55,42.94 L516.25,42.87 L516.95,42.8 L517.64,42.72 L518.34,42.65 L519.04,42.58 L519.73,42.51 L520.43,42.44 L521.13,42.37 L521.82,42.3 L522.52,42.24 L523.22,42.17 L523.92,42.1 L524.61,42.04 L525.31,41.97 L526.01,41.91 L526.7,41.84 L527.4,41.78 L528.1,41.71 L528.79,41.65 L529.49,41.59 L530.19,41.52 L530.88,41.46 L531.58,41.4 L532.28,41.34 L532.97,41.27 L533.67,41.21 L534.37,41.15 L535.06,41.09 L535.76,41.03 L536.46,40.97 L537.15,40.91 L537.85,40.85 L538.55,40.79 L539.24,40.74 L539.94,40.68 L540.64,40.62 L541.33,40.56 L542.03,40.51 L542.73,40.45 L543.42,40.39 L544.12,40.34 L544.82,40.28 L545.51,40.22 L546.21,40.17 L546.91,40.11 L547.6,40.06 L548.3,40 L549,39.95 L549.69,39.9 L550.39,39.84 L551.09,39.79 L551.79,39.74 L552.48,39.68 L553.18,39.63 L553.88,39.58 L554.57,39.53 L555.27,39.47 L555.97,39.42 L556.66,39.37 L557.36,39.32 L558.06,39.27 L558.75,39.22 L559.45,39.16 L560.15,39.11 L560.84,39.06 L561.54,39.01 L562.24,38.96 L562.93,38.91 L563.63,38.86 L564.33,38.81 L565.02,38.75 L565.72,38.7 L566.42,38.65 L567.11,38.6 L567.81,38.55 L568.51,38.5 L569.2,38.45 L569.9,38.4 L570.6,38.35 L571.29,38.3 L571.99,38.25 L572.69,38.2 L573.38,38.15 L574.08,38.11 L574.78,38.06 L575.47,38.01 L576.17,37.96 L576.87,37.92 L577.56,37.87 L578.26,37.83 L578.96,37.78 L579.66,37.74 L580.35,37.69 L581.05,37.65 L581.75,37.61 L582.44,37.56 L583.14,37.52 L583.84,37.48 L584.53,37.44 L585.23,37.4 L585.93,37.36 L586.62,37.32 L587.32,37.29 L588.02,37.25 L588.71,37.21 L589.41,37.18 L590.11,37.14 L590.8,37.11 L591.5,37.07 L592.2,37.04 L592.89,37 L593.59,36.97 L594.29,36.94 L594.98,36.9 L595.68,36.87 L596.38,36.84 L597.07,36.81 L597.77,36.77 L598.47,36.74 L599.16,36.71 L599.86,36.68 L600.56,36.65 L601.25,36.62 L601.95,36.59 L602.65,36.56 L603.34,36.53 L604.04,36.5 L604.74,36.47 L605.43,36.44 L606.13,36.41 L606.83,36.38 L607.53,36.35 L608.22,36.32 L608.92,36.3 L609.62,36.27 L610.31,36.24 L611.01,36.22 L611.71,36.19 L612.4,36.16 L613.1,36.14 L613.8,36.11 L614.49,36.09 L615.19,36.06 L615.89,36.04 L616.58,36.01 L617.28,35.99 L617.98,35.96 L618.67,35.94 L619.37,35.92 L620.07,35.89 L620.76,35.87 L621.46,35.85 L622.16,35.83 L622.85,35.8 L623.55,35.78 L624.25,35.76 L624.94,35.74 L625.64,35.71 L626.34,35.69 L627.03,35.67 L627.73,35.65 L628.43,35.63 L629.12,35.61 L629.82,35.58 L630.52,35.56 L631.21,35.54 L631.91,35.52 L632.61,35.5 L633.3,35.48 L634,35.46 L634.7,35.44 L635.4,35.42 L636.09,35.39 L636.79,35.37 L637.49,35.35 L638.18,35.33 L638.88,35.31 L639.58,35.29 L640.27,35.27 L640.97,35.25 L641.67,35.23 L642.36,35.21 L643.06,35.19 L643.76,35.17 L644.45,35.16 L645.15,35.14 L645.85,35.12 L646.54,35.1 L647.24,35.08 L647.94,35.06 L648.63,35.04 L649.33,35.02 L650.03,35.01 L650.72,34.99 L651.42,34.97 L652.12,34.95 L652.81,34.94 L653.51,34.92 L654.21,34.9 L654.9,34.88 L655.6,34.87 L656.3,34.85 L656.99,34.83 L657.69,34.82 L658.39,34.8 L659.08,34.79 L659.78,34.77 L660.48,34.76 L661.17,34.74 L661.87,34.72 L662.57,34.71 L663.27,34.7 L663.96,34.68 L664.66,34.67 L665.36,34.65 L666.05,34.64 L666.75,34.62 L667.45,34.61 L668.14,34.6 L668.84,34.58 L669.54,34.57 L670.23,34.56 L670.93,34.55 L671.63,34.53 L672.32,34.52 L673.02,34.51 L673.72,34.5 L674.41,34.49 L675.11,34.48 L675.81,34.47 L676.5,34.46 L677.2,34.44" fill="none" stroke="#ff00ff" stroke-width="2.2" stroke-dasharray="6.2 5 1.5 4.7 1.5 7" stroke-linejoin="round"/>
<rect x="398.5" y="5.4" width="278.7" height="224.5" fill="none" stroke="#383838" stroke-width="1.3"/>
<path d="M394.2,229.9H398.5M396.2,208.85H398.5M394.2,187.81H398.5M396.2,166.76H398.5M394.2,145.71H398.5M396.2,124.67H398.5M394.2,103.62H398.5M396.2,82.57H398.5M394.2,61.53H398.5M396.2,40.48H398.5M394.2,19.43H398.5M398.5,229.9V234.2M426.37,229.9V232.2M454.24,229.9V234.2M482.11,229.9V232.2M509.98,229.9V234.2M537.85,229.9V232.2M565.72,229.9V234.2M593.59,229.9V232.2M621.46,229.9V234.2M649.33,229.9V232.2M677.2,229.9V234.2" stroke="#383838" stroke-width="1.3" fill="none"/>
<text transform="translate(390.2,234) scale(0.9,1)" font-size="14.3" text-anchor="end">0</text>
<text transform="translate(390.2,191.91) scale(0.9,1)" font-size="14.3" text-anchor="end">30</text>
<text transform="translate(390.2,149.81) scale(0.9,1)" font-size="14.3" text-anchor="end">60</text>
<text transform="translate(390.2,107.72) scale(0.9,1)" font-size="14.3" text-anchor="end">90</text>
<text transform="translate(390.2,65.62) scale(0.9,1)" font-size="14.3" text-anchor="end">120</text>
<text transform="translate(390.2,23.53) scale(0.9,1)" font-size="14.3" text-anchor="end">150</text>
<text transform="translate(398.5,248.3) scale(0.9,1)" font-size="14.3" text-anchor="middle">0</text>
<text transform="translate(454.24,248.3) scale(0.9,1)" font-size="14.3" text-anchor="middle">4</text>
<text transform="translate(509.98,248.3) scale(0.9,1)" font-size="14.3" text-anchor="middle">8</text>
<text transform="translate(565.72,248.3) scale(0.9,1)" font-size="14.3" text-anchor="middle">12</text>
<text transform="translate(621.46,248.3) scale(0.9,1)" font-size="14.3" text-anchor="middle">16</text>
<text transform="translate(677.2,248.3) scale(0.9,1)" font-size="14.3" text-anchor="middle">20</text>
<text transform="translate(537.85,270.3) scale(0.955,1)" font-size="14.3" text-anchor="middle">Time (min)</text>
<text x="0" y="0" font-size="14.3" text-anchor="middle" transform="translate(362.9,117.65) rotate(-90) scale(0.972,1)">Gas uptake (v/v)</text>
<text x="347.3" y="15.8" font-size="21.2" text-anchor="start">b</text>
<path d="M495,73.7H522" stroke="#ff0000" stroke-width="2.2" stroke-dasharray="8.4 7 1.7 7.8 1.7 7"/>
<path d="M495,91.3H522" stroke="#ff00ff" stroke-width="2.2" stroke-dasharray="8.4 7 1.7 7.8 1.7 7"/>
<path d="M495,108.9H522" stroke="#800080" stroke-width="2.2" stroke-dasharray="8.4 7 1.7 7.8 1.7 7"/>
<text x="530" y="78.9" font-size="14.3" text-anchor="start" textLength="127.8" lengthAdjust="spacingAndGlyphs">Tryptophan (3k), 10g</text>
<text x="530" y="96.2" font-size="14.3" text-anchor="start" textLength="127.8" lengthAdjust="spacingAndGlyphs">Tryptophan (3k), 20g</text>
<text x="530" y="113.8" font-size="14.3" text-anchor="start" textLength="127.8" lengthAdjust="spacingAndGlyphs">Tryptophan (3k), 30g</text>
<path d="M327.5,300V318M322.5,300V318M317.5,300V318M312.5,300V318M307.5,300V318M302.5,300V318M297.5,300V318M293.5,300V318M288.5,300V319M283.5,300V319M278.5,300V319M273.5,300V319M268.5,300V319M263.5,300V319M258.5,300V319M254.5,301V319M249.5,301V319M244.5,301V320M239.5,301V320M234.5,301V320M229.5,301V320M224.5,301V320M219.5,301V320M214.5,302V321M210.5,302V321M205.5,302V321M200.5,303V322M195.5,303V322M190.5,303V323M185.5,304V323M180.5,304V324M175.5,305V324M171.5,305V325M166.5,306V325M161.5,306V326M156.5,307V327M151.5,308V327M146.5,309V328M141.5,309V329M136.5,310V330M131.5,311V331M127.5,312V332M122.5,313V333M117.5,315V335M112.5,316V336M107.5,318V338M102.5,319V340M97.5,321V343M92.5,322V345M88.5,325V348M83.5,328V351M78.5,331V355M73.5,336V360M68.5,342V366M63.5,350V374M58.5,366V386M53.5,398V412" fill="none" stroke="#4060ff" stroke-opacity="0.22" stroke-width="1.0"/>
<path d="M326.15,299.5H328.85M326.15,318.5H328.85M321.15,299.5H323.85M321.15,318.5H323.85M316.15,299.5H318.85M316.15,318.5H318.85M311.15,299.5H313.85M311.15,318.5H313.85M306.15,299.5H308.85M306.15,318.5H308.85M301.15,299.5H303.85M301.15,318.5H303.85M296.15,299.5H298.85M296.15,318.5H298.85M292.15,299.5H294.85M292.15,318.5H294.85M287.15,299.5H289.85M287.15,319.5H289.85M282.15,299.5H284.85M282.15,319.5H284.85M277.15,299.5H279.85M277.15,319.5H279.85M272.15,299.5H274.85M272.15,319.5H274.85M267.15,299.5H269.85M267.15,319.5H269.85M262.15,299.5H264.85M262.15,319.5H264.85M257.15,299.5H259.85M257.15,319.5H259.85M253.15,300.5H255.85M253.15,319.5H255.85M248.15,300.5H250.85M248.15,319.5H250.85M243.15,300.5H245.85M243.15,320.5H245.85M238.15,300.5H240.85M238.15,320.5H240.85M233.15,300.5H235.85M233.15,320.5H235.85M228.15,300.5H230.85M228.15,320.5H230.85M223.15,300.5H225.85M223.15,320.5H225.85M218.15,300.5H220.85M218.15,320.5H220.85M213.15,301.5H215.85M213.15,321.5H215.85M209.15,301.5H211.85M209.15,321.5H211.85M204.15,301.5H206.85M204.15,321.5H206.85M199.15,302.5H201.85M199.15,322.5H201.85M194.15,302.5H196.85M194.15,322.5H196.85M189.15,302.5H191.85M189.15,323.5H191.85M184.15,303.5H186.85M184.15,323.5H186.85M179.15,303.5H181.85M179.15,324.5H181.85M174.15,304.5H176.85M174.15,324.5H176.85M170.15,304.5H172.85M170.15,325.5H172.85M165.15,305.5H167.85M165.15,325.5H167.85M160.15,305.5H162.85M160.15,326.5H162.85M155.15,306.5H157.85M155.15,327.5H157.85M150.15,307.5H152.85M150.15,327.5H152.85M145.15,308.5H147.85M145.15,328.5H147.85M140.15,308.5H142.85M140.15,329.5H142.85M135.15,309.5H137.85M135.15,330.5H137.85M130.15,310.5H132.85M130.15,331.5H132.85M126.15,311.5H128.85M126.15,332.5H128.85M121.15,312.5H123.85M121.15,333.5H123.85M116.15,314.5H118.85M116.15,335.5H118.85M111.15,315.5H113.85M111.15,336.5H113.85M106.15,317.5H108.85M106.15,338.5H108.85M101.15,318.5H103.85M101.15,340.5H103.85M96.15,320.5H98.85M96.15,343.5H98.85M91.15,321.5H93.85M91.15,345.5H93.85M87.15,324.5H89.85M87.15,348.5H89.85M82.15,327.5H84.85M82.15,351.5H84.85M77.15,330.5H79.85M77.15,355.5H79.85M72.15,335.5H74.85M72.15,360.5H74.85M67.15,341.5H69.85M67.15,366.5H69.85M62.15,349.5H64.85M62.15,374.5H64.85M57.15,365.5H59.85M57.15,386.5H59.85M52.15,397.5H54.85M52.15,412.5H54.85" fill="none" stroke="#4060ff" stroke-opacity="0.3" stroke-width="1.0"/>
<path d="M327.5,303V318M322.5,303V318M317.5,303V318M312.5,303V318M307.5,303V318M302.5,303V318M297.5,303V318M293.5,303V318M288.5,303V318M283.5,303V318M278.5,303V319M273.5,303V319M268.5,303V319M263.5,303V319M258.5,304V319M254.5,304V319M249.5,304V319M244.5,304V319M239.5,304V319M234.5,304V319M229.5,304V320M224.5,304V320M219.5,305V320M214.5,305V320M210.5,305V320M205.5,305V320M200.5,305V321M195.5,305V321M190.5,306V321M185.5,306V321M180.5,306V322M175.5,307V322M171.5,307V322M166.5,307V323M161.5,308V323M156.5,308V323M151.5,308V324M146.5,309V324M141.5,309V325M136.5,310V325M131.5,310V326M127.5,311V326M122.5,312V327M117.5,312V328M112.5,313V329M107.5,315V330M102.5,316V331M97.5,317V333M92.5,319V334M88.5,320V336M83.5,323V338M78.5,325V340M73.5,329V344M68.5,333V349M63.5,340V355M58.5,351V366M53.5,368V383" fill="none" stroke="#ff0020" stroke-opacity="0.28" stroke-width="1.0"/>
<path d="M326.15,302.5H328.85M326.15,318.5H328.85M321.15,302.5H323.85M321.15,318.5H323.85M316.15,302.5H318.85M316.15,318.5H318.85M311.15,302.5H313.85M311.15,318.5H313.85M306.15,302.5H308.85M306.15,318.5H308.85M301.15,302.5H303.85M301.15,318.5H303.85M296.15,302.5H298.85M296.15,318.5H298.85M292.15,302.5H294.85M292.15,318.5H294.85M287.15,302.5H289.85M287.15,318.5H289.85M282.15,302.5H284.85M282.15,318.5H284.85M277.15,302.5H279.85M277.15,319.5H279.85M272.15,302.5H274.85M272.15,319.5H274.85M267.15,302.5H269.85M267.15,319.5H269.85M262.15,302.5H264.85M262.15,319.5H264.85M257.15,303.5H259.85M257.15,319.5H259.85M253.15,303.5H255.85M253.15,319.5H255.85M248.15,303.5H250.85M248.15,319.5H250.85M243.15,303.5H245.85M243.15,319.5H245.85M238.15,303.5H240.85M238.15,319.5H240.85M233.15,303.5H235.85M233.15,319.5H235.85M228.15,303.5H230.85M228.15,320.5H230.85M223.15,303.5H225.85M223.15,320.5H225.85M218.15,304.5H220.85M218.15,320.5H220.85M213.15,304.5H215.85M213.15,320.5H215.85M209.15,304.5H211.85M209.15,320.5H211.85M204.15,304.5H206.85M204.15,320.5H206.85M199.15,304.5H201.85M199.15,321.5H201.85M194.15,304.5H196.85M194.15,321.5H196.85M189.15,305.5H191.85M189.15,321.5H191.85M184.15,305.5H186.85M184.15,321.5H186.85M179.15,305.5H181.85M179.15,322.5H181.85M174.15,306.5H176.85M174.15,322.5H176.85M170.15,306.5H172.85M170.15,322.5H172.85M165.15,306.5H167.85M165.15,323.5H167.85M160.15,307.5H162.85M160.15,323.5H162.85M155.15,307.5H157.85M155.15,323.5H157.85M150.15,307.5H152.85M150.15,324.5H152.85M145.15,308.5H147.85M145.15,324.5H147.85M140.15,308.5H142.85M140.15,325.5H142.85M135.15,309.5H137.85M135.15,325.5H137.85M130.15,309.5H132.85M130.15,326.5H132.85M126.15,310.5H128.85M126.15,326.5H128.85M121.15,311.5H123.85M121.15,327.5H123.85M116.15,311.5H118.85M116.15,328.5H118.85M111.15,312.5H113.85M111.15,329.5H113.85M106.15,314.5H108.85M106.15,330.5H108.85M101.15,315.5H103.85M101.15,331.5H103.85M96.15,316.5H98.85M96.15,333.5H98.85M91.15,318.5H93.85M91.15,334.5H93.85M87.15,319.5H89.85M87.15,336.5H89.85M82.15,322.5H84.85M82.15,338.5H84.85M77.15,324.5H79.85M77.15,340.5H79.85M72.15,328.5H74.85M72.15,344.5H74.85M67.15,332.5H69.85M67.15,349.5H69.85M62.15,339.5H64.85M62.15,355.5H64.85M57.15,350.5H59.85M57.15,366.5H59.85M52.15,367.5H54.85M52.15,383.5H54.85" fill="none" stroke="#ff0020" stroke-opacity="0.4" stroke-width="1.0"/>
<path d="M327.5,307V312M322.5,307V312M317.5,307V312M312.5,307V312M307.5,308V312M302.5,308V312M297.5,308V313M293.5,308V313M288.5,308V313M283.5,308V313M278.5,309V313M273.5,309V314M268.5,309V314M263.5,309V314M258.5,309V314M254.5,310V314M249.5,310V315M244.5,310V315M239.5,310V315M234.5,311V316M229.5,311V316M224.5,311V316M219.5,312V317M214.5,312V317M210.5,312V317M205.5,313V318M200.5,313V318M195.5,314V319M190.5,314V319M185.5,315V320M180.5,315V320M175.5,315V320M171.5,316V321M166.5,316V321M161.5,317V322M156.5,318V323M151.5,318V323M146.5,319V324M141.5,320V325M136.5,321V326M131.5,322V327M127.5,323V328M122.5,324V329M117.5,325V331M112.5,327V332M107.5,328V334M102.5,330V336M97.5,332V339M92.5,334V341M88.5,336V344M83.5,339V348M78.5,342V351M73.5,345V355M68.5,349V359M63.5,355V364M58.5,367V375M53.5,397V405" fill="none" stroke="#008000" stroke-opacity="0.25" stroke-width="1.0"/>
<path d="M326.15,306.5H328.85M326.15,312.5H328.85M321.15,306.5H323.85M321.15,312.5H323.85M316.15,306.5H318.85M316.15,312.5H318.85M311.15,306.5H313.85M311.15,312.5H313.85M306.15,307.5H308.85M306.15,312.5H308.85M301.15,307.5H303.85M301.15,312.5H303.85M296.15,307.5H298.85M296.15,313.5H298.85M292.15,307.5H294.85M292.15,313.5H294.85M287.15,307.5H289.85M287.15,313.5H289.85M282.15,307.5H284.85M282.15,313.5H284.85M277.15,308.5H279.85M277.15,313.5H279.85M272.15,308.5H274.85M272.15,314.5H274.85M267.15,308.5H269.85M267.15,314.5H269.85M262.15,308.5H264.85M262.15,314.5H264.85M257.15,308.5H259.85M257.15,314.5H259.85M253.15,309.5H255.85M253.15,314.5H255.85M248.15,309.5H250.85M248.15,315.5H250.85M243.15,309.5H245.85M243.15,315.5H245.85M238.15,309.5H240.85M238.15,315.5H240.85M233.15,310.5H235.85M233.15,316.5H235.85M228.15,310.5H230.85M228.15,316.5H230.85M223.15,310.5H225.85M223.15,316.5H225.85M218.15,311.5H220.85M218.15,317.5H220.85M213.15,311.5H215.85M213.15,317.5H215.85M209.15,311.5H211.85M209.15,317.5H211.85M204.15,312.5H206.85M204.15,318.5H206.85M199.15,312.5H201.85M199.15,318.5H201.85M194.15,313.5H196.85M194.15,319.5H196.85M189.15,313.5H191.85M189.15,319.5H191.85M184.15,314.5H186.85M184.15,320.5H186.85M179.15,314.5H181.85M179.15,320.5H181.85M174.15,314.5H176.85M174.15,320.5H176.85M170.15,315.5H172.85M170.15,321.5H172.85M165.15,315.5H167.85M165.15,321.5H167.85M160.15,316.5H162.85M160.15,322.5H162.85M155.15,317.5H157.85M155.15,323.5H157.85M150.15,317.5H152.85M150.15,323.5H152.85M145.15,318.5H147.85M145.15,324.5H147.85M140.15,319.5H142.85M140.15,325.5H142.85M135.15,320.5H137.85M135.15,326.5H137.85M130.15,321.5H132.85M130.15,327.5H132.85M126.15,322.5H128.85M126.15,328.5H128.85M121.15,323.5H123.85M121.15,329.5H123.85M116.15,324.5H118.85M116.15,331.5H118.85M111.15,326.5H113.85M111.15,332.5H113.85M106.15,327.5H108.85M106.15,334.5H108.85M101.15,329.5H103.85M101.15,336.5H103.85M96.15,331.5H98.85M96.15,339.5H98.85M91.15,333.5H93.85M91.15,341.5H93.85M87.15,335.5H89.85M87.15,344.5H89.85M82.15,338.5H84.85M82.15,348.5H84.85M77.15,341.5H79.85M77.15,351.5H79.85M72.15,344.5H74.85M72.15,355.5H74.85M67.15,348.5H69.85M67.15,359.5H69.85M62.15,354.5H64.85M62.15,364.5H64.85M57.15,366.5H59.85M57.15,375.5H59.85M52.15,396.5H54.85M52.15,405.5H54.85" fill="none" stroke="#008000" stroke-opacity="0.35" stroke-width="1.0"/>
<path d="M49.4,516.3 L49.54,511.12 L49.68,506 L49.82,500.94 L49.96,495.93 L50.1,490.99 L50.24,486.04 L50.38,481.09 L50.52,476.22 L50.66,471.52 L50.8,467.08 L50.93,462.78 L51.07,458.47 L51.21,454.2 L51.35,450.01 L51.49,445.95 L51.63,442.06 L51.77,438.39 L51.91,434.98 L52.05,431.87 L52.19,429.11 L52.33,426.59 L52.47,424.18 L52.61,421.86 L52.75,419.63 L52.89,417.5 L53.03,415.46 L53.17,413.52 L53.31,411.66 L53.45,409.89 L53.59,408.2 L53.72,406.6 L53.86,405.08 L54,403.64 L54.14,402.27 L54.28,400.99 L54.42,399.76 L54.56,398.59 L54.7,397.47 L54.84,396.4 L54.98,395.37 L55.12,394.38 L55.26,393.43 L55.4,392.52 L55.54,391.64 L55.68,390.79 L55.82,389.97 L55.96,389.18 L56.1,388.41 L56.24,387.66 L56.38,386.92 L56.51,386.21 L56.65,385.5 L56.79,384.81 L56.93,384.12 L57.07,383.45 L57.21,382.79 L57.35,382.14 L57.49,381.5 L57.63,380.87 L57.77,380.26 L57.91,379.65 L58.05,379.05 L58.19,378.47 L58.33,377.89 L58.47,377.33 L58.61,376.78 L58.75,376.23 L58.89,375.7 L59.03,375.17 L59.16,374.66 L59.3,374.16 L59.44,373.66 L59.58,373.18 L59.72,372.7 L59.86,372.24 L60,371.78 L60.14,371.33 L60.28,370.9 L60.42,370.47 L60.56,370.05 L60.7,369.64 L60.84,369.23 L60.98,368.84 L61.12,368.44 L61.26,368.06 L61.4,367.68 L61.54,367.31 L61.68,366.94 L61.82,366.58 L61.95,366.22 L62.09,365.87 L62.23,365.53 L62.37,365.19 L62.51,364.86 L62.65,364.53 L62.79,364.21 L62.93,363.89 L63.07,363.58 L63.21,363.27 L63.35,362.97 L64.05,361.53 L64.75,360.21 L65.44,358.96 L66.14,357.76 L66.84,356.62 L67.53,355.51 L68.23,354.46 L68.93,353.44 L69.63,352.47 L70.33,351.54 L71.02,350.64 L71.72,349.78 L72.42,348.95 L73.12,348.16 L73.81,347.4 L74.51,346.66 L75.21,345.94 L75.91,345.24 L76.6,344.56 L77.3,343.9 L78,343.26 L78.7,342.64 L79.39,342.04 L80.09,341.47 L80.79,340.91 L81.49,340.37 L82.18,339.85 L82.88,339.35 L83.58,338.87 L84.28,338.41 L84.97,337.97 L85.67,337.54 L86.37,337.12 L87.07,336.71 L87.76,336.32 L88.46,335.94 L89.16,335.56 L89.86,335.2 L90.55,334.85 L91.25,334.5 L91.95,334.16 L92.65,333.83 L93.34,333.5 L94.04,333.19 L94.74,332.87 L95.44,332.57 L96.13,332.26 L96.83,331.97 L97.53,331.67 L98.23,331.38 L98.92,331.09 L99.62,330.81 L100.32,330.53 L101.02,330.26 L101.71,329.99 L102.41,329.73 L103.11,329.47 L103.81,329.22 L104.5,328.97 L105.2,328.73 L105.9,328.48 L106.6,328.24 L107.29,328.01 L107.99,327.77 L108.69,327.54 L109.39,327.31 L110.08,327.08 L110.78,326.85 L111.48,326.63 L112.18,326.4 L112.87,326.18 L113.57,325.95 L114.27,325.72 L114.97,325.5 L115.66,325.27 L116.36,325.05 L117.06,324.82 L117.76,324.6 L118.45,324.38 L119.15,324.17 L119.85,323.95 L120.55,323.74 L121.24,323.54 L121.94,323.34 L122.64,323.14 L123.34,322.95 L124.03,322.76 L124.73,322.58 L125.43,322.41 L126.13,322.24 L126.82,322.07 L127.52,321.91 L128.22,321.76 L128.92,321.6 L129.61,321.45 L130.31,321.3 L131.01,321.15 L131.71,321 L132.4,320.86 L133.1,320.72 L133.8,320.58 L134.5,320.44 L135.19,320.3 L135.89,320.17 L136.59,320.04 L137.29,319.91 L137.98,319.78 L138.68,319.65 L139.38,319.53 L140.08,319.4 L140.77,319.28 L141.47,319.16 L142.17,319.04 L142.87,318.92 L143.56,318.81 L144.26,318.69 L144.96,318.58 L145.66,318.46 L146.35,318.35 L147.05,318.24 L147.75,318.13 L148.45,318.02 L149.14,317.91 L149.84,317.8 L150.54,317.69 L151.24,317.59 L151.93,317.48 L152.63,317.37 L153.33,317.27 L154.03,317.16 L154.72,317.06 L155.42,316.96 L156.12,316.86 L156.82,316.75 L157.51,316.65 L158.21,316.55 L158.91,316.46 L159.61,316.36 L160.3,316.26 L161,316.16 L161.7,316.07 L162.4,315.98 L163.09,315.88 L163.79,315.79 L164.49,315.7 L165.19,315.61 L165.88,315.53 L166.58,315.44 L167.28,315.35 L167.98,315.27 L168.67,315.19 L169.37,315.1 L170.07,315.02 L170.77,314.95 L171.46,314.87 L172.16,314.79 L172.86,314.72 L173.56,314.64 L174.25,314.57 L174.95,314.5 L175.65,314.43 L176.35,314.37 L177.04,314.3 L177.74,314.23 L178.44,314.16 L179.14,314.09 L179.83,314.02 L180.53,313.96 L181.23,313.89 L181.93,313.82 L182.62,313.75 L183.32,313.69 L184.02,313.62 L184.72,313.56 L185.41,313.49 L186.11,313.42 L186.81,313.36 L187.51,313.29 L188.2,313.23 L188.9,313.17 L189.6,313.1 L190.3,313.04 L190.99,312.98 L191.69,312.92 L192.39,312.85 L193.09,312.79 L193.78,312.73 L194.48,312.67 L195.18,312.61 L195.88,312.55 L196.57,312.49 L197.27,312.44 L197.97,312.38 L198.67,312.32 L199.36,312.26 L200.06,312.21 L200.76,312.15 L201.46,312.1 L202.15,312.04 L202.85,311.99 L203.55,311.94 L204.25,311.89 L204.94,311.83 L205.64,311.78 L206.34,311.73 L207.04,311.69 L207.73,311.64 L208.43,311.59 L209.13,311.54 L209.83,311.5 L210.52,311.45 L211.22,311.41 L211.92,311.36 L212.62,311.32 L213.31,311.28 L214.01,311.24 L214.71,311.2 L215.41,311.16 L216.1,311.12 L216.8,311.08 L217.5,311.04 L218.2,311.01 L218.89,310.97 L219.59,310.94 L220.29,310.91 L220.99,310.88 L221.68,310.84 L222.38,310.82 L223.08,310.79 L223.78,310.76 L224.47,310.73 L225.17,310.71 L225.87,310.68 L226.57,310.66 L227.26,310.63 L227.96,310.61 L228.66,310.59 L229.36,310.56 L230.05,310.54 L230.75,310.52 L231.45,310.49 L232.15,310.47 L232.84,310.45 L233.54,310.43 L234.24,310.41 L234.94,310.39 L235.63,310.37 L236.33,310.35 L237.03,310.33 L237.73,310.31 L238.42,310.29 L239.12,310.27 L239.82,310.25 L240.52,310.23 L241.21,310.21 L241.91,310.2 L242.61,310.18 L243.31,310.16 L244,310.14 L244.7,310.13 L245.4,310.11 L246.1,310.09 L246.79,310.08 L247.49,310.06 L248.19,310.04 L248.89,310.03 L249.58,310.01 L250.28,310 L250.98,309.98 L251.68,309.97 L252.37,309.95 L253.07,309.94 L253.77,309.92 L254.47,309.91 L255.16,309.9 L255.86,309.88 L256.56,309.87 L257.26,309.85 L257.95,309.84 L258.65,309.83 L259.35,309.81 L260.05,309.8 L260.74,309.79 L261.44,309.77 L262.14,309.76 L262.84,309.75 L263.53,309.74 L264.23,309.72 L264.93,309.71 L265.63,309.7 L266.32,309.69 L267.02,309.68 L267.72,309.66 L268.42,309.65 L269.11,309.64 L269.81,309.63 L270.51,309.62 L271.21,309.6 L271.9,309.59 L272.6,309.58 L273.3,309.57 L274,309.56 L274.69,309.55 L275.39,309.54 L276.09,309.52 L276.79,309.51 L277.48,309.5 L278.18,309.49 L278.88,309.48 L279.58,309.47 L280.27,309.46 L280.97,309.45 L281.67,309.43 L282.37,309.42 L283.06,309.41 L283.76,309.4 L284.46,309.39 L285.16,309.38 L285.85,309.37 L286.55,309.36 L287.25,309.35 L287.95,309.34 L288.64,309.33 L289.34,309.32 L290.04,309.31 L290.74,309.3 L291.43,309.29 L292.13,309.28 L292.83,309.27 L293.53,309.26 L294.22,309.25 L294.92,309.24 L295.62,309.23 L296.32,309.22 L297.01,309.21 L297.71,309.2 L298.41,309.19 L299.11,309.18 L299.8,309.17 L300.5,309.16 L301.2,309.15 L301.9,309.14 L302.59,309.13 L303.29,309.12 L303.99,309.12 L304.69,309.11 L305.38,309.1 L306.08,309.09 L306.78,309.08 L307.48,309.07 L308.17,309.06 L308.87,309.06 L309.57,309.05 L310.27,309.04 L310.96,309.03 L311.66,309.03 L312.36,309.02 L313.06,309.01 L313.75,309 L314.45,309 L315.15,308.99 L315.85,308.98 L316.54,308.98 L317.24,308.97 L317.94,308.96 L318.64,308.96 L319.33,308.95 L320.03,308.94 L320.73,308.94 L321.43,308.93 L322.12,308.93 L322.82,308.92 L323.52,308.91 L324.22,308.91 L324.91,308.9 L325.61,308.9 L326.31,308.89 L327.01,308.89 L327.7,308.88 L328.4,308.88" fill="none" stroke="#d6dcff" stroke-width="1.5" stroke-dasharray="1.2 3.2" stroke-linejoin="round"/>
<path d="M49.4,516.3 L49.54,510.01 L49.68,502.94 L49.82,495.21 L49.96,486.74 L50.1,477.37 L50.24,467.08 L50.38,453.76 L50.52,439.17 L50.66,429.11 L50.8,423.93 L50.93,419.88 L51.07,416.61 L51.21,413.78 L51.35,411.03 L51.49,408.02 L51.63,404.66 L51.77,401.22 L51.91,397.85 L52.05,394.71 L52.19,391.96 L52.33,389.74 L52.47,387.91 L52.61,386.21 L52.75,384.64 L52.89,383.18 L53.03,381.82 L53.17,380.55 L53.31,379.36 L53.45,378.24 L53.59,377.19 L53.72,376.18 L53.86,375.21 L54,374.27 L54.14,373.35 L54.28,372.46 L54.42,371.6 L54.56,370.77 L54.7,369.97 L54.84,369.21 L54.98,368.48 L55.12,367.8 L55.26,367.17 L55.4,366.58 L55.54,366.04 L55.68,365.55 L55.82,365.1 L55.96,364.67 L56.1,364.27 L56.24,363.88 L56.38,363.51 L56.51,363.15 L56.65,362.81 L56.79,362.49 L56.93,362.17 L57.07,361.87 L57.21,361.58 L57.35,361.29 L57.49,361.01 L57.63,360.74 L57.77,360.47 L57.91,360.2 L58.05,359.93 L58.19,359.67 L58.33,359.4 L58.47,359.13 L58.61,358.85 L58.75,358.57 L58.89,358.28 L59.03,357.98 L59.16,357.68 L59.3,357.36 L59.44,357.04 L59.58,356.72 L59.72,356.39 L59.86,356.06 L60,355.73 L60.14,355.39 L60.28,355.06 L60.42,354.72 L60.56,354.38 L60.7,354.04 L60.84,353.71 L60.98,353.37 L61.12,353.03 L61.26,352.69 L61.4,352.36 L61.54,352.03 L61.68,351.7 L61.82,351.37 L61.95,351.05 L62.09,350.73 L62.23,350.41 L62.37,350.1 L62.51,349.8 L62.65,349.5 L62.79,349.21 L62.93,348.92 L63.07,348.64 L63.21,348.37 L63.35,348.1 L64.05,346.9 L64.75,345.83 L65.44,344.82 L66.14,343.86 L66.84,342.96 L67.53,342.1 L68.23,341.29 L68.93,340.52 L69.63,339.79 L70.33,339.08 L71.02,338.4 L71.72,337.75 L72.42,337.12 L73.12,336.52 L73.81,335.95 L74.51,335.41 L75.21,334.88 L75.91,334.39 L76.6,333.91 L77.3,333.45 L78,333 L78.7,332.57 L79.39,332.16 L80.09,331.76 L80.79,331.37 L81.49,331 L82.18,330.64 L82.88,330.3 L83.58,329.97 L84.28,329.66 L84.97,329.35 L85.67,329.06 L86.37,328.77 L87.07,328.49 L87.76,328.23 L88.46,327.96 L89.16,327.71 L89.86,327.46 L90.55,327.21 L91.25,326.97 L91.95,326.74 L92.65,326.51 L93.34,326.29 L94.04,326.07 L94.74,325.86 L95.44,325.66 L96.13,325.46 L96.83,325.25 L97.53,325.05 L98.23,324.85 L98.92,324.65 L99.62,324.44 L100.32,324.23 L101.02,324.02 L101.71,323.81 L102.41,323.6 L103.11,323.39 L103.81,323.19 L104.5,322.98 L105.2,322.79 L105.9,322.6 L106.6,322.41 L107.29,322.24 L107.99,322.07 L108.69,321.9 L109.39,321.73 L110.08,321.57 L110.78,321.41 L111.48,321.25 L112.18,321.1 L112.87,320.95 L113.57,320.8 L114.27,320.66 L114.97,320.53 L115.66,320.39 L116.36,320.27 L117.06,320.15 L117.76,320.03 L118.45,319.91 L119.15,319.8 L119.85,319.69 L120.55,319.58 L121.24,319.48 L121.94,319.38 L122.64,319.28 L123.34,319.18 L124.03,319.08 L124.73,318.99 L125.43,318.89 L126.13,318.8 L126.82,318.71 L127.52,318.62 L128.22,318.53 L128.92,318.44 L129.61,318.35 L130.31,318.27 L131.01,318.18 L131.71,318.1 L132.4,318.01 L133.1,317.93 L133.8,317.85 L134.5,317.77 L135.19,317.69 L135.89,317.61 L136.59,317.53 L137.29,317.46 L137.98,317.38 L138.68,317.31 L139.38,317.24 L140.08,317.17 L140.77,317.1 L141.47,317.03 L142.17,316.96 L142.87,316.89 L143.56,316.83 L144.26,316.76 L144.96,316.7 L145.66,316.64 L146.35,316.58 L147.05,316.52 L147.75,316.46 L148.45,316.4 L149.14,316.34 L149.84,316.28 L150.54,316.22 L151.24,316.16 L151.93,316.11 L152.63,316.05 L153.33,315.99 L154.03,315.94 L154.72,315.88 L155.42,315.83 L156.12,315.78 L156.82,315.72 L157.51,315.67 L158.21,315.62 L158.91,315.56 L159.61,315.51 L160.3,315.46 L161,315.41 L161.7,315.36 L162.4,315.31 L163.09,315.26 L163.79,315.21 L164.49,315.16 L165.19,315.11 L165.88,315.06 L166.58,315.01 L167.28,314.96 L167.98,314.91 L168.67,314.86 L169.37,314.81 L170.07,314.76 L170.77,314.71 L171.46,314.66 L172.16,314.61 L172.86,314.57 L173.56,314.52 L174.25,314.47 L174.95,314.42 L175.65,314.37 L176.35,314.32 L177.04,314.27 L177.74,314.22 L178.44,314.17 L179.14,314.13 L179.83,314.08 L180.53,314.03 L181.23,313.98 L181.93,313.94 L182.62,313.89 L183.32,313.84 L184.02,313.8 L184.72,313.75 L185.41,313.71 L186.11,313.67 L186.81,313.62 L187.51,313.58 L188.2,313.54 L188.9,313.5 L189.6,313.46 L190.3,313.42 L190.99,313.38 L191.69,313.34 L192.39,313.3 L193.09,313.27 L193.78,313.23 L194.48,313.2 L195.18,313.16 L195.88,313.13 L196.57,313.09 L197.27,313.06 L197.97,313.03 L198.67,313 L199.36,312.97 L200.06,312.94 L200.76,312.91 L201.46,312.88 L202.15,312.85 L202.85,312.82 L203.55,312.79 L204.25,312.76 L204.94,312.73 L205.64,312.7 L206.34,312.68 L207.04,312.65 L207.73,312.62 L208.43,312.6 L209.13,312.57 L209.83,312.54 L210.52,312.52 L211.22,312.49 L211.92,312.47 L212.62,312.44 L213.31,312.42 L214.01,312.39 L214.71,312.37 L215.41,312.35 L216.1,312.32 L216.8,312.3 L217.5,312.28 L218.2,312.25 L218.89,312.23 L219.59,312.21 L220.29,312.18 L220.99,312.16 L221.68,312.14 L222.38,312.12 L223.08,312.1 L223.78,312.07 L224.47,312.05 L225.17,312.03 L225.87,312.01 L226.57,311.99 L227.26,311.97 L227.96,311.95 L228.66,311.93 L229.36,311.91 L230.05,311.89 L230.75,311.87 L231.45,311.85 L232.15,311.83 L232.84,311.81 L233.54,311.8 L234.24,311.78 L234.94,311.76 L235.63,311.74 L236.33,311.72 L237.03,311.71 L237.73,311.69 L238.42,311.67 L239.12,311.66 L239.82,311.64 L240.52,311.62 L241.21,311.61 L241.91,311.59 L242.61,311.58 L243.31,311.56 L244,311.54 L244.7,311.53 L245.4,311.51 L246.1,311.5 L246.79,311.48 L247.49,311.47 L248.19,311.45 L248.89,311.44 L249.58,311.42 L250.28,311.41 L250.98,311.39 L251.68,311.38 L252.37,311.37 L253.07,311.35 L253.77,311.34 L254.47,311.32 L255.16,311.31 L255.86,311.3 L256.56,311.28 L257.26,311.27 L257.95,311.25 L258.65,311.24 L259.35,311.23 L260.05,311.21 L260.74,311.2 L261.44,311.19 L262.14,311.18 L262.84,311.16 L263.53,311.15 L264.23,311.14 L264.93,311.12 L265.63,311.11 L266.32,311.1 L267.02,311.09 L267.72,311.07 L268.42,311.06 L269.11,311.05 L269.81,311.04 L270.51,311.02 L271.21,311.01 L271.9,311 L272.6,310.99 L273.3,310.98 L274,310.96 L274.69,310.95 L275.39,310.94 L276.09,310.93 L276.79,310.91 L277.48,310.9 L278.18,310.89 L278.88,310.88 L279.58,310.87 L280.27,310.86 L280.97,310.84 L281.67,310.83 L282.37,310.82 L283.06,310.81 L283.76,310.8 L284.46,310.78 L285.16,310.77 L285.85,310.76 L286.55,310.75 L287.25,310.74 L287.95,310.73 L288.64,310.72 L289.34,310.7 L290.04,310.69 L290.74,310.68 L291.43,310.67 L292.13,310.66 L292.83,310.65 L293.53,310.64 L294.22,310.63 L294.92,310.61 L295.62,310.6 L296.32,310.59 L297.01,310.58 L297.71,310.57 L298.41,310.56 L299.11,310.55 L299.8,310.54 L300.5,310.53 L301.2,310.52 L301.9,310.51 L302.59,310.5 L303.29,310.49 L303.99,310.47 L304.69,310.46 L305.38,310.45 L306.08,310.44 L306.78,310.43 L307.48,310.42 L308.17,310.41 L308.87,310.4 L309.57,310.39 L310.27,310.38 L310.96,310.37 L311.66,310.36 L312.36,310.35 L313.06,310.34 L313.75,310.33 L314.45,310.32 L315.15,310.31 L315.85,310.31 L316.54,310.3 L317.24,310.29 L317.94,310.28 L318.64,310.27 L319.33,310.26 L320.03,310.25 L320.73,310.24 L321.43,310.23 L322.12,310.22 L322.82,310.21 L323.52,310.2 L324.22,310.2 L324.91,310.19 L325.61,310.18 L326.31,310.17 L327.01,310.16 L327.7,310.15 L328.4,310.14" fill="none" stroke="#ff0000" stroke-width="2.2" stroke-dasharray="6.5 4.3 1.5 4 1.5 6.5" stroke-linejoin="round"/>
<path d="M49.4,516.3 L49.54,511.12 L49.68,506 L49.82,500.94 L49.96,495.93 L50.1,490.99 L50.24,486.08 L50.38,481.2 L50.52,476.39 L50.66,471.67 L50.8,467.08 L50.93,462.48 L51.07,457.77 L51.21,453.01 L51.35,448.29 L51.49,443.68 L51.63,439.25 L51.77,435.08 L51.91,431.25 L52.05,427.83 L52.19,424.89 L52.33,422.29 L52.47,419.81 L52.61,417.45 L52.75,415.21 L52.89,413.07 L53.03,411.04 L53.17,409.11 L53.31,407.27 L53.45,405.53 L53.59,403.88 L53.72,402.31 L53.86,400.81 L54,399.4 L54.14,398.05 L54.28,396.77 L54.42,395.55 L54.56,394.38 L54.7,393.26 L54.84,392.19 L54.98,391.17 L55.12,390.19 L55.26,389.25 L55.4,388.34 L55.54,387.46 L55.68,386.61 L55.82,385.79 L55.96,385 L56.1,384.22 L56.24,383.45 L56.38,382.71 L56.51,381.97 L56.65,381.23 L56.79,380.5 L56.93,379.78 L57.07,379.07 L57.21,378.37 L57.35,377.67 L57.49,376.99 L57.63,376.31 L57.77,375.65 L57.91,375 L58.05,374.35 L58.19,373.72 L58.33,373.11 L58.47,372.5 L58.61,371.91 L58.75,371.34 L58.89,370.78 L59.03,370.23 L59.16,369.7 L59.3,369.19 L59.44,368.7 L59.58,368.22 L59.72,367.76 L59.86,367.32 L60,366.9 L60.14,366.49 L60.28,366.11 L60.42,365.75 L60.56,365.39 L60.7,365.04 L60.84,364.7 L60.98,364.37 L61.12,364.04 L61.26,363.73 L61.4,363.42 L61.54,363.12 L61.68,362.83 L61.82,362.54 L61.95,362.26 L62.09,361.99 L62.23,361.72 L62.37,361.46 L62.51,361.21 L62.65,360.97 L62.79,360.73 L62.93,360.49 L63.07,360.26 L63.21,360.04 L63.35,359.82 L64.05,358.8 L64.75,357.87 L65.44,357.02 L66.14,356.23 L66.84,355.49 L67.53,354.79 L68.23,354.14 L68.93,353.51 L69.63,352.9 L70.33,352.31 L71.02,351.73 L71.72,351.17 L72.42,350.63 L73.12,350.12 L73.81,349.62 L74.51,349.14 L75.21,348.66 L75.91,348.2 L76.6,347.73 L77.3,347.27 L78,346.8 L78.7,346.33 L79.39,345.85 L80.09,345.38 L80.79,344.9 L81.49,344.42 L82.18,343.95 L82.88,343.47 L83.58,343.01 L84.28,342.55 L84.97,342.09 L85.67,341.65 L86.37,341.21 L87.07,340.79 L87.76,340.37 L88.46,339.97 L89.16,339.59 L89.86,339.21 L90.55,338.85 L91.25,338.49 L91.95,338.14 L92.65,337.8 L93.34,337.47 L94.04,337.14 L94.74,336.81 L95.44,336.49 L96.13,336.16 L96.83,335.84 L97.53,335.52 L98.23,335.2 L98.92,334.87 L99.62,334.54 L100.32,334.22 L101.02,333.89 L101.71,333.56 L102.41,333.24 L103.11,332.92 L103.81,332.6 L104.5,332.29 L105.2,331.99 L105.9,331.69 L106.6,331.4 L107.29,331.12 L107.99,330.85 L108.69,330.59 L109.39,330.35 L110.08,330.11 L110.78,329.88 L111.48,329.66 L112.18,329.44 L112.87,329.23 L113.57,329.03 L114.27,328.83 L114.97,328.64 L115.66,328.45 L116.36,328.26 L117.06,328.08 L117.76,327.9 L118.45,327.72 L119.15,327.55 L119.85,327.38 L120.55,327.21 L121.24,327.05 L121.94,326.89 L122.64,326.73 L123.34,326.58 L124.03,326.42 L124.73,326.27 L125.43,326.12 L126.13,325.97 L126.82,325.83 L127.52,325.68 L128.22,325.53 L128.92,325.38 L129.61,325.24 L130.31,325.09 L131.01,324.94 L131.71,324.79 L132.4,324.64 L133.1,324.48 L133.8,324.33 L134.5,324.18 L135.19,324.02 L135.89,323.87 L136.59,323.71 L137.29,323.56 L137.98,323.41 L138.68,323.25 L139.38,323.1 L140.08,322.95 L140.77,322.8 L141.47,322.65 L142.17,322.51 L142.87,322.36 L143.56,322.22 L144.26,322.08 L144.96,321.95 L145.66,321.82 L146.35,321.69 L147.05,321.56 L147.75,321.44 L148.45,321.32 L149.14,321.21 L149.84,321.1 L150.54,320.99 L151.24,320.88 L151.93,320.77 L152.63,320.67 L153.33,320.57 L154.03,320.47 L154.72,320.37 L155.42,320.27 L156.12,320.17 L156.82,320.08 L157.51,319.98 L158.21,319.89 L158.91,319.8 L159.61,319.71 L160.3,319.62 L161,319.53 L161.7,319.45 L162.4,319.36 L163.09,319.28 L163.79,319.2 L164.49,319.12 L165.19,319.04 L165.88,318.96 L166.58,318.88 L167.28,318.8 L167.98,318.72 L168.67,318.65 L169.37,318.57 L170.07,318.5 L170.77,318.42 L171.46,318.35 L172.16,318.28 L172.86,318.21 L173.56,318.14 L174.25,318.07 L174.95,318 L175.65,317.93 L176.35,317.87 L177.04,317.8 L177.74,317.73 L178.44,317.67 L179.14,317.6 L179.83,317.54 L180.53,317.48 L181.23,317.41 L181.93,317.35 L182.62,317.29 L183.32,317.23 L184.02,317.17 L184.72,317.1 L185.41,317.04 L186.11,316.98 L186.81,316.92 L187.51,316.86 L188.2,316.8 L188.9,316.74 L189.6,316.69 L190.3,316.63 L190.99,316.57 L191.69,316.51 L192.39,316.45 L193.09,316.39 L193.78,316.33 L194.48,316.27 L195.18,316.21 L195.88,316.16 L196.57,316.1 L197.27,316.04 L197.97,315.98 L198.67,315.92 L199.36,315.86 L200.06,315.8 L200.76,315.74 L201.46,315.68 L202.15,315.62 L202.85,315.56 L203.55,315.5 L204.25,315.44 L204.94,315.38 L205.64,315.32 L206.34,315.26 L207.04,315.2 L207.73,315.15 L208.43,315.09 L209.13,315.03 L209.83,314.97 L210.52,314.91 L211.22,314.85 L211.92,314.79 L212.62,314.74 L213.31,314.68 L214.01,314.62 L214.71,314.56 L215.41,314.51 L216.1,314.45 L216.8,314.39 L217.5,314.34 L218.2,314.28 L218.89,314.23 L219.59,314.17 L220.29,314.12 L220.99,314.06 L221.68,314.01 L222.38,313.95 L223.08,313.9 L223.78,313.85 L224.47,313.79 L225.17,313.74 L225.87,313.69 L226.57,313.64 L227.26,313.59 L227.96,313.54 L228.66,313.49 L229.36,313.44 L230.05,313.39 L230.75,313.34 L231.45,313.3 L232.15,313.25 L232.84,313.2 L233.54,313.16 L234.24,313.11 L234.94,313.07 L235.63,313.02 L236.33,312.98 L237.03,312.94 L237.73,312.9 L238.42,312.86 L239.12,312.82 L239.82,312.78 L240.52,312.74 L241.21,312.7 L241.91,312.66 L242.61,312.62 L243.31,312.58 L244,312.55 L244.7,312.51 L245.4,312.47 L246.1,312.44 L246.79,312.4 L247.49,312.37 L248.19,312.33 L248.89,312.3 L249.58,312.26 L250.28,312.23 L250.98,312.2 L251.68,312.16 L252.37,312.13 L253.07,312.1 L253.77,312.07 L254.47,312.04 L255.16,312 L255.86,311.97 L256.56,311.94 L257.26,311.91 L257.95,311.88 L258.65,311.85 L259.35,311.82 L260.05,311.79 L260.74,311.76 L261.44,311.73 L262.14,311.7 L262.84,311.67 L263.53,311.64 L264.23,311.61 L264.93,311.58 L265.63,311.55 L266.32,311.52 L267.02,311.5 L267.72,311.47 L268.42,311.44 L269.11,311.41 L269.81,311.38 L270.51,311.35 L271.21,311.33 L271.9,311.3 L272.6,311.27 L273.3,311.24 L274,311.21 L274.69,311.18 L275.39,311.16 L276.09,311.13 L276.79,311.1 L277.48,311.07 L278.18,311.05 L278.88,311.02 L279.58,310.99 L280.27,310.96 L280.97,310.93 L281.67,310.91 L282.37,310.88 L283.06,310.85 L283.76,310.83 L284.46,310.8 L285.16,310.77 L285.85,310.74 L286.55,310.72 L287.25,310.69 L287.95,310.66 L288.64,310.64 L289.34,310.61 L290.04,310.59 L290.74,310.56 L291.43,310.53 L292.13,310.51 L292.83,310.48 L293.53,310.45 L294.22,310.43 L294.92,310.4 L295.62,310.38 L296.32,310.35 L297.01,310.33 L297.71,310.3 L298.41,310.28 L299.11,310.25 L299.8,310.23 L300.5,310.2 L301.2,310.18 L301.9,310.15 L302.59,310.13 L303.29,310.1 L303.99,310.08 L304.69,310.05 L305.38,310.03 L306.08,310 L306.78,309.98 L307.48,309.96 L308.17,309.93 L308.87,309.91 L309.57,309.89 L310.27,309.86 L310.96,309.84 L311.66,309.82 L312.36,309.79 L313.06,309.77 L313.75,309.75 L314.45,309.73 L315.15,309.7 L315.85,309.68 L316.54,309.66 L317.24,309.64 L317.94,309.61 L318.64,309.59 L319.33,309.57 L320.03,309.55 L320.73,309.53 L321.43,309.51 L322.12,309.48 L322.82,309.46 L323.52,309.44 L324.22,309.42 L324.91,309.4 L325.61,309.38 L326.31,309.36 L327.01,309.34 L327.7,309.32 L328.4,309.3" fill="none" stroke="#008000" stroke-width="2.2" stroke-dasharray="6.5 4.3 1.5 4 1.5 6.5" stroke-linejoin="round"/>
<rect x="49.4" y="291.3" width="279" height="225" fill="none" stroke="#383838" stroke-width="1.3"/>
<path d="M45.1,516.3H49.4M47.1,495.21H49.4M45.1,474.11H49.4M47.1,453.02H49.4M45.1,431.92H49.4M47.1,410.83H49.4M45.1,389.74H49.4M47.1,368.64H49.4M45.1,347.55H49.4M47.1,326.46H49.4M45.1,305.36H49.4M49.4,516.3V520.6M77.3,516.3V518.6M105.2,516.3V520.6M133.1,516.3V518.6M161,516.3V520.6M188.9,516.3V518.6M216.8,516.3V520.6M244.7,516.3V518.6M272.6,516.3V520.6M300.5,516.3V518.6M328.4,516.3V520.6" stroke="#383838" stroke-width="1.3" fill="none"/>
<text transform="translate(41.1,520.4) scale(0.9,1)" font-size="14.3" text-anchor="end">0</text>
<text transform="translate(41.1,478.21) scale(0.9,1)" font-size="14.3" text-anchor="end">30</text>
<text transform="translate(41.1,436.02) scale(0.9,1)" font-size="14.3" text-anchor="end">60</text>
<text transform="translate(41.1,393.84) scale(0.9,1)" font-size="14.3" text-anchor="end">90</text>
<text transform="translate(41.1,351.65) scale(0.9,1)" font-size="14.3" text-anchor="end">120</text>
<text transform="translate(41.1,309.46) scale(0.9,1)" font-size="14.3" text-anchor="end">150</text>
<text transform="translate(49.4,534.7) scale(0.9,1)" font-size="14.3" text-anchor="middle">0</text>
<text transform="translate(105.2,534.7) scale(0.9,1)" font-size="14.3" text-anchor="middle">4</text>
<text transform="translate(161,534.7) scale(0.9,1)" font-size="14.3" text-anchor="middle">8</text>
<text transform="translate(216.8,534.7) scale(0.9,1)" font-size="14.3" text-anchor="middle">12</text>
<text transform="translate(272.6,534.7) scale(0.9,1)" font-size="14.3" text-anchor="middle">16</text>
<text transform="translate(328.4,534.7) scale(0.9,1)" font-size="14.3" text-anchor="middle">20</text>
<text transform="translate(188.9,556.7) scale(0.955,1)" font-size="14.3" text-anchor="middle">Time (min)</text>
<text x="0" y="0" font-size="14.3" text-anchor="middle" transform="translate(13.8,403.8) rotate(-90) scale(0.972,1)">Gas uptake (v/v)</text>
<text x="1.3" y="298.9" font-size="21.2" text-anchor="start">c</text>
<path d="M133.1,348.7H165" stroke="#ff0000" stroke-width="2.2" stroke-dasharray="8.7 7 1.7 7.6 1.7 7"/>
<path d="M133.1,365.9H164" stroke="#dde3ff" stroke-width="1.6" stroke-dasharray="1.2 3.2"/>
<path d="M133.1,382.8H165" stroke="#008000" stroke-width="2.2" stroke-dasharray="8.7 7 1.7 7.6 1.7 7"/>
<text x="168" y="353.9" font-size="14.3" text-anchor="start" textLength="140.8" lengthAdjust="spacingAndGlyphs">Tryptophan (3k), 6MPa</text>
<text x="168" y="370.9" font-size="14.3" text-anchor="start" textLength="140.8" lengthAdjust="spacingAndGlyphs">Tryptophan (3k), 5MPa</text>
<text x="168" y="387.5" font-size="14.3" text-anchor="start" textLength="140.8" lengthAdjust="spacingAndGlyphs">Tryptophan (3k), 4MPa</text>
<path d="M676.5,302V318M671.5,302V318M666.5,302V318M661.5,302V318M656.5,303V318M652.5,303V318M647.5,303V319M642.5,303V319M637.5,303V319M632.5,303V319M627.5,303V319M622.5,303V319M617.5,303V319M613.5,303V319M608.5,303V319M603.5,303V319M598.5,304V319M593.5,304V320M588.5,304V320M583.5,304V320M578.5,304V320M574.5,304V320M569.5,305V320M564.5,305V321M559.5,305V321M554.5,305V321M549.5,305V321M544.5,306V321M539.5,306V322M534.5,306V322M530.5,306V322M525.5,307V322M520.5,307V323M515.5,307V323M510.5,307V323M505.5,308V323M500.5,308V324M495.5,308V324M491.5,309V325M486.5,309V325M481.5,310V326M476.5,311V326M471.5,311V327M466.5,312V328M461.5,313V329M456.5,314V330M452.5,315V331M447.5,316V332M442.5,318V334M437.5,320V336M432.5,322V338M427.5,325V341M422.5,328V344M417.5,332V348M413.5,339V355M408.5,350V366M403.5,390V406" fill="none" stroke="#ff0000" stroke-opacity="0.2" stroke-width="1.0"/>
<path d="M675.15,301.5H677.85M675.15,318.5H677.85M670.15,301.5H672.85M670.15,318.5H672.85M665.15,301.5H667.85M665.15,318.5H667.85M660.15,301.5H662.85M660.15,318.5H662.85M655.15,302.5H657.85M655.15,318.5H657.85M651.15,302.5H653.85M651.15,318.5H653.85M646.15,302.5H648.85M646.15,319.5H648.85M641.15,302.5H643.85M641.15,319.5H643.85M636.15,302.5H638.85M636.15,319.5H638.85M631.15,302.5H633.85M631.15,319.5H633.85M626.15,302.5H628.85M626.15,319.5H628.85M621.15,302.5H623.85M621.15,319.5H623.85M616.15,302.5H618.85M616.15,319.5H618.85M612.15,302.5H614.85M612.15,319.5H614.85M607.15,302.5H609.85M607.15,319.5H609.85M602.15,302.5H604.85M602.15,319.5H604.85M597.15,303.5H599.85M597.15,319.5H599.85M592.15,303.5H594.85M592.15,320.5H594.85M587.15,303.5H589.85M587.15,320.5H589.85M582.15,303.5H584.85M582.15,320.5H584.85M577.15,303.5H579.85M577.15,320.5H579.85M573.15,303.5H575.85M573.15,320.5H575.85M568.15,304.5H570.85M568.15,320.5H570.85M563.15,304.5H565.85M563.15,321.5H565.85M558.15,304.5H560.85M558.15,321.5H560.85M553.15,304.5H555.85M553.15,321.5H555.85M548.15,304.5H550.85M548.15,321.5H550.85M543.15,305.5H545.85M543.15,321.5H545.85M538.15,305.5H540.85M538.15,322.5H540.85M533.15,305.5H535.85M533.15,322.5H535.85M529.15,305.5H531.85M529.15,322.5H531.85M524.15,306.5H526.85M524.15,322.5H526.85M519.15,306.5H521.85M519.15,323.5H521.85M514.15,306.5H516.85M514.15,323.5H516.85M509.15,306.5H511.85M509.15,323.5H511.85M504.15,307.5H506.85M504.15,323.5H506.85M499.15,307.5H501.85M499.15,324.5H501.85M494.15,307.5H496.85M494.15,324.5H496.85M490.15,308.5H492.85M490.15,325.5H492.85M485.15,308.5H487.85M485.15,325.5H487.85M480.15,309.5H482.85M480.15,326.5H482.85M475.15,310.5H477.85M475.15,326.5H477.85M470.15,310.5H472.85M470.15,327.5H472.85M465.15,311.5H467.85M465.15,328.5H467.85M460.15,312.5H462.85M460.15,329.5H462.85M455.15,313.5H457.85M455.15,330.5H457.85M451.15,314.5H453.85M451.15,331.5H453.85M446.15,315.5H448.85M446.15,332.5H448.85M441.15,317.5H443.85M441.15,334.5H443.85M436.15,319.5H438.85M436.15,336.5H438.85M431.15,321.5H433.85M431.15,338.5H433.85M426.15,324.5H428.85M426.15,341.5H428.85M421.15,327.5H423.85M421.15,344.5H423.85M416.15,331.5H418.85M416.15,348.5H418.85M412.15,338.5H414.85M412.15,355.5H414.85M407.15,349.5H409.85M407.15,366.5H409.85M402.15,389.5H404.85M402.15,406.5H404.85" fill="none" stroke="#ff0000" stroke-opacity="0.32" stroke-width="1.0"/>
<path d="M676.5,303V309M671.5,303V309M666.5,303V309M661.5,303V309M656.5,303V309M652.5,303V310M647.5,303V310M642.5,303V310M637.5,303V310M632.5,303V310M627.5,304V310M622.5,304V310M617.5,304V310M613.5,304V310M608.5,304V310M603.5,304V310M598.5,304V310M593.5,304V311M588.5,304V311M583.5,305V311M578.5,305V311M574.5,305V311M569.5,305V311M564.5,305V312M559.5,305V312M554.5,306V312M549.5,306V312M544.5,306V312M539.5,306V313M534.5,307V313M530.5,307V313M525.5,307V313M520.5,307V314M515.5,308V314M510.5,308V314M505.5,308V314M500.5,308V315M495.5,309V315M491.5,309V315M486.5,310V316M481.5,310V317M476.5,311V317M471.5,312V318M466.5,313V319M461.5,314V320M456.5,315V321M452.5,316V323M447.5,318V324M442.5,319V326M437.5,321V328M432.5,324V330M427.5,327V334M422.5,332V338M417.5,340V346M413.5,349V356M408.5,363V369M403.5,399V405" fill="none" stroke="#800080" stroke-opacity="0.25" stroke-width="1.0"/>
<path d="M675.15,302.5H677.85M675.15,309.5H677.85M670.15,302.5H672.85M670.15,309.5H672.85M665.15,302.5H667.85M665.15,309.5H667.85M660.15,302.5H662.85M660.15,309.5H662.85M655.15,302.5H657.85M655.15,309.5H657.85M651.15,302.5H653.85M651.15,310.5H653.85M646.15,302.5H648.85M646.15,310.5H648.85M641.15,302.5H643.85M641.15,310.5H643.85M636.15,302.5H638.85M636.15,310.5H638.85M631.15,302.5H633.85M631.15,310.5H633.85M626.15,303.5H628.85M626.15,310.5H628.85M621.15,303.5H623.85M621.15,310.5H623.85M616.15,303.5H618.85M616.15,310.5H618.85M612.15,303.5H614.85M612.15,310.5H614.85M607.15,303.5H609.85M607.15,310.5H609.85M602.15,303.5H604.85M602.15,310.5H604.85M597.15,303.5H599.85M597.15,310.5H599.85M592.15,303.5H594.85M592.15,311.5H594.85M587.15,303.5H589.85M587.15,311.5H589.85M582.15,304.5H584.85M582.15,311.5H584.85M577.15,304.5H579.85M577.15,311.5H579.85M573.15,304.5H575.85M573.15,311.5H575.85M568.15,304.5H570.85M568.15,311.5H570.85M563.15,304.5H565.85M563.15,312.5H565.85M558.15,304.5H560.85M558.15,312.5H560.85M553.15,305.5H555.85M553.15,312.5H555.85M548.15,305.5H550.85M548.15,312.5H550.85M543.15,305.5H545.85M543.15,312.5H545.85M538.15,305.5H540.85M538.15,313.5H540.85M533.15,306.5H535.85M533.15,313.5H535.85M529.15,306.5H531.85M529.15,313.5H531.85M524.15,306.5H526.85M524.15,313.5H526.85M519.15,306.5H521.85M519.15,314.5H521.85M514.15,307.5H516.85M514.15,314.5H516.85M509.15,307.5H511.85M509.15,314.5H511.85M504.15,307.5H506.85M504.15,314.5H506.85M499.15,307.5H501.85M499.15,315.5H501.85M494.15,308.5H496.85M494.15,315.5H496.85M490.15,308.5H492.85M490.15,315.5H492.85M485.15,309.5H487.85M485.15,316.5H487.85M480.15,309.5H482.85M480.15,317.5H482.85M475.15,310.5H477.85M475.15,317.5H477.85M470.15,311.5H472.85M470.15,318.5H472.85M465.15,312.5H467.85M465.15,319.5H467.85M460.15,313.5H462.85M460.15,320.5H462.85M455.15,314.5H457.85M455.15,321.5H457.85M451.15,315.5H453.85M451.15,323.5H453.85M446.15,317.5H448.85M446.15,324.5H448.85M441.15,318.5H443.85M441.15,326.5H443.85M436.15,320.5H438.85M436.15,328.5H438.85M431.15,323.5H433.85M431.15,330.5H433.85M426.15,326.5H428.85M426.15,334.5H428.85M421.15,331.5H423.85M421.15,338.5H423.85M416.15,339.5H418.85M416.15,346.5H418.85M412.15,348.5H414.85M412.15,356.5H414.85M407.15,362.5H409.85M407.15,369.5H409.85M402.15,398.5H404.85M402.15,405.5H404.85" fill="none" stroke="#800080" stroke-opacity="0.35" stroke-width="1.0"/>
<path d="M676.5,310V314M671.5,310V314M666.5,310V314M661.5,310V314M656.5,310V314M652.5,310V314M647.5,310V314M642.5,310V314M637.5,310V314M632.5,310V314M627.5,310V314M622.5,310V314M617.5,310V314M613.5,311V315M608.5,311V315M603.5,311V315M598.5,311V315M593.5,311V315M588.5,311V315M583.5,311V315M578.5,311V315M574.5,311V316M569.5,312V316M564.5,312V316M559.5,312V316M554.5,312V316M549.5,312V316M544.5,313V317M539.5,313V317M534.5,313V317M530.5,313V317M525.5,313V317M520.5,314V318M515.5,314V318M510.5,314V318M505.5,314V318M500.5,315V319M495.5,315V319M491.5,315V319M486.5,316V320M481.5,316V320M476.5,317V321M471.5,317V321M466.5,318V322M461.5,319V323M456.5,320V324M452.5,321V325M447.5,323V327M442.5,324V328M437.5,327V331M432.5,329V333M427.5,332V336M422.5,335V339M417.5,340V344M413.5,351V355M408.5,366V370M403.5,410V414" fill="none" stroke="#808000" stroke-opacity="0.2" stroke-width="1.0"/>
<path d="M675.15,309.5H677.85M675.15,314.5H677.85M670.15,309.5H672.85M670.15,314.5H672.85M665.15,309.5H667.85M665.15,314.5H667.85M660.15,309.5H662.85M660.15,314.5H662.85M655.15,309.5H657.85M655.15,314.5H657.85M651.15,309.5H653.85M651.15,314.5H653.85M646.15,309.5H648.85M646.15,314.5H648.85M641.15,309.5H643.85M641.15,314.5H643.85M636.15,309.5H638.85M636.15,314.5H638.85M631.15,309.5H633.85M631.15,314.5H633.85M626.15,309.5H628.85M626.15,314.5H628.85M621.15,309.5H623.85M621.15,314.5H623.85M616.15,309.5H618.85M616.15,314.5H618.85M612.15,310.5H614.85M612.15,315.5H614.85M607.15,310.5H609.85M607.15,315.5H609.85M602.15,310.5H604.85M602.15,315.5H604.85M597.15,310.5H599.85M597.15,315.5H599.85M592.15,310.5H594.85M592.15,315.5H594.85M587.15,310.5H589.85M587.15,315.5H589.85M582.15,310.5H584.85M582.15,315.5H584.85M577.15,310.5H579.85M577.15,315.5H579.85M573.15,310.5H575.85M573.15,316.5H575.85M568.15,311.5H570.85M568.15,316.5H570.85M563.15,311.5H565.85M563.15,316.5H565.85M558.15,311.5H560.85M558.15,316.5H560.85M553.15,311.5H555.85M553.15,316.5H555.85M548.15,311.5H550.85M548.15,316.5H550.85M543.15,312.5H545.85M543.15,317.5H545.85M538.15,312.5H540.85M538.15,317.5H540.85M533.15,312.5H535.85M533.15,317.5H535.85M529.15,312.5H531.85M529.15,317.5H531.85M524.15,312.5H526.85M524.15,317.5H526.85M519.15,313.5H521.85M519.15,318.5H521.85M514.15,313.5H516.85M514.15,318.5H516.85M509.15,313.5H511.85M509.15,318.5H511.85M504.15,313.5H506.85M504.15,318.5H506.85M499.15,314.5H501.85M499.15,319.5H501.85M494.15,314.5H496.85M494.15,319.5H496.85M490.15,314.5H492.85M490.15,319.5H492.85M485.15,315.5H487.85M485.15,320.5H487.85M480.15,315.5H482.85M480.15,320.5H482.85M475.15,316.5H477.85M475.15,321.5H477.85M470.15,316.5H472.85M470.15,321.5H472.85M465.15,317.5H467.85M465.15,322.5H467.85M460.15,318.5H462.85M460.15,323.5H462.85M455.15,319.5H457.85M455.15,324.5H457.85M451.15,320.5H453.85M451.15,325.5H453.85M446.15,322.5H448.85M446.15,327.5H448.85M441.15,323.5H443.85M441.15,328.5H443.85M436.15,326.5H438.85M436.15,331.5H438.85M431.15,328.5H433.85M431.15,333.5H433.85M426.15,331.5H428.85M426.15,336.5H428.85M421.15,334.5H423.85M421.15,339.5H423.85M416.15,339.5H418.85M416.15,344.5H418.85M412.15,350.5H414.85M412.15,355.5H414.85M407.15,365.5H409.85M407.15,370.5H409.85M402.15,409.5H404.85M402.15,414.5H404.85" fill="none" stroke="#808000" stroke-opacity="0.3" stroke-width="1.0"/>
<path d="M398.9,516.3 L399.04,511.8 L399.18,507.3 L399.32,502.8 L399.46,498.3 L399.6,493.8 L399.74,489.19 L399.88,484.48 L400.01,479.82 L400.15,475.37 L400.29,471.3 L400.43,467.52 L400.57,463.85 L400.71,460.3 L400.85,456.86 L400.99,453.54 L401.13,450.36 L401.27,447.3 L401.41,444.38 L401.55,441.6 L401.69,438.96 L401.83,436.42 L401.96,433.94 L402.1,431.52 L402.24,429.15 L402.38,426.84 L402.52,424.58 L402.66,422.38 L402.8,420.23 L402.94,418.13 L403.08,416.08 L403.22,414.08 L403.36,412.12 L403.5,410.22 L403.64,408.37 L403.78,406.56 L403.91,404.79 L404.05,403.07 L404.19,401.4 L404.33,399.77 L404.47,398.18 L404.61,396.61 L404.75,395.04 L404.89,393.49 L405.03,391.95 L405.17,390.43 L405.31,388.93 L405.45,387.45 L405.59,386 L405.73,384.58 L405.86,383.2 L406,381.86 L406.14,380.56 L406.28,379.31 L406.42,378.11 L406.56,376.96 L406.7,375.88 L406.84,374.85 L406.98,373.9 L407.12,373.01 L407.26,372.19 L407.4,371.46 L407.54,370.77 L407.68,370.1 L407.82,369.44 L407.95,368.8 L408.09,368.18 L408.23,367.57 L408.37,366.97 L408.51,366.39 L408.65,365.83 L408.79,365.27 L408.93,364.74 L409.07,364.21 L409.21,363.69 L409.35,363.19 L409.49,362.7 L409.63,362.22 L409.77,361.75 L409.9,361.29 L410.04,360.85 L410.18,360.41 L410.32,359.98 L410.46,359.56 L410.6,359.15 L410.74,358.74 L410.88,358.35 L411.02,357.96 L411.16,357.57 L411.3,357.2 L411.44,356.83 L411.58,356.47 L411.72,356.11 L411.85,355.75 L411.99,355.4 L412.13,355.06 L412.27,354.72 L412.41,354.38 L412.55,354.05 L412.69,353.72 L412.83,353.39 L413.53,351.76 L414.22,350.13 L414.92,348.53 L415.62,346.98 L416.31,345.49 L417.01,344.1 L417.71,342.81 L418.4,341.66 L419.1,340.65 L419.79,339.82 L420.49,339.1 L421.19,338.46 L421.88,337.87 L422.58,337.33 L423.28,336.83 L423.97,336.36 L424.67,335.91 L425.37,335.49 L426.06,335.07 L426.76,334.65 L427.46,334.22 L428.15,333.79 L428.85,333.36 L429.55,332.93 L430.24,332.51 L430.94,332.1 L431.64,331.69 L432.33,331.29 L433.03,330.9 L433.73,330.52 L434.42,330.14 L435.12,329.78 L435.81,329.42 L436.51,329.07 L437.21,328.72 L437.9,328.39 L438.6,328.07 L439.3,327.75 L439.99,327.44 L440.69,327.13 L441.39,326.82 L442.08,326.52 L442.78,326.23 L443.48,325.95 L444.17,325.68 L444.87,325.41 L445.57,325.16 L446.26,324.92 L446.96,324.7 L447.66,324.49 L448.35,324.29 L449.05,324.09 L449.74,323.91 L450.44,323.73 L451.14,323.55 L451.83,323.38 L452.53,323.21 L453.23,323.05 L453.92,322.89 L454.62,322.74 L455.32,322.59 L456.01,322.44 L456.71,322.3 L457.41,322.15 L458.1,322.01 L458.8,321.88 L459.5,321.74 L460.19,321.61 L460.89,321.47 L461.59,321.34 L462.28,321.21 L462.98,321.08 L463.67,320.95 L464.37,320.81 L465.07,320.68 L465.76,320.55 L466.46,320.41 L467.16,320.28 L467.85,320.15 L468.55,320.02 L469.25,319.89 L469.94,319.76 L470.64,319.64 L471.34,319.51 L472.03,319.39 L472.73,319.27 L473.43,319.16 L474.12,319.05 L474.82,318.94 L475.52,318.83 L476.21,318.73 L476.91,318.63 L477.6,318.54 L478.3,318.46 L479,318.38 L479.69,318.3 L480.39,318.23 L481.09,318.16 L481.78,318.09 L482.48,318.03 L483.18,317.97 L483.87,317.91 L484.57,317.85 L485.27,317.8 L485.96,317.75 L486.66,317.69 L487.36,317.64 L488.05,317.59 L488.75,317.54 L489.45,317.5 L490.14,317.45 L490.84,317.4 L491.53,317.36 L492.23,317.31 L492.93,317.27 L493.62,317.22 L494.32,317.18 L495.02,317.13 L495.71,317.08 L496.41,317.04 L497.11,316.99 L497.8,316.95 L498.5,316.9 L499.2,316.86 L499.89,316.82 L500.59,316.77 L501.29,316.73 L501.98,316.69 L502.68,316.64 L503.38,316.6 L504.07,316.56 L504.77,316.52 L505.46,316.48 L506.16,316.44 L506.86,316.4 L507.55,316.36 L508.25,316.32 L508.95,316.28 L509.64,316.24 L510.34,316.2 L511.04,316.16 L511.73,316.12 L512.43,316.08 L513.13,316.05 L513.82,316.01 L514.52,315.97 L515.22,315.94 L515.91,315.9 L516.61,315.86 L517.31,315.83 L518,315.79 L518.7,315.76 L519.39,315.72 L520.09,315.69 L520.79,315.65 L521.48,315.62 L522.18,315.59 L522.88,315.55 L523.57,315.52 L524.27,315.49 L524.97,315.46 L525.66,315.42 L526.36,315.39 L527.06,315.36 L527.75,315.33 L528.45,315.29 L529.15,315.26 L529.84,315.23 L530.54,315.2 L531.24,315.17 L531.93,315.14 L532.63,315.1 L533.32,315.07 L534.02,315.04 L534.72,315.01 L535.41,314.98 L536.11,314.95 L536.81,314.92 L537.5,314.89 L538.2,314.86 L538.9,314.83 L539.59,314.8 L540.29,314.77 L540.99,314.74 L541.68,314.71 L542.38,314.68 L543.08,314.65 L543.77,314.62 L544.47,314.59 L545.17,314.56 L545.86,314.53 L546.56,314.5 L547.25,314.47 L547.95,314.44 L548.65,314.42 L549.34,314.39 L550.04,314.36 L550.74,314.33 L551.43,314.3 L552.13,314.28 L552.83,314.25 L553.52,314.22 L554.22,314.19 L554.92,314.17 L555.61,314.14 L556.31,314.11 L557.01,314.09 L557.7,314.06 L558.4,314.03 L559.1,314.01 L559.79,313.98 L560.49,313.96 L561.18,313.93 L561.88,313.9 L562.58,313.88 L563.27,313.85 L563.97,313.83 L564.67,313.8 L565.36,313.78 L566.06,313.76 L566.76,313.73 L567.45,313.71 L568.15,313.68 L568.85,313.66 L569.54,313.64 L570.24,313.62 L570.94,313.59 L571.63,313.57 L572.33,313.55 L573.03,313.53 L573.72,313.5 L574.42,313.48 L575.11,313.46 L575.81,313.44 L576.51,313.42 L577.2,313.4 L577.9,313.38 L578.6,313.36 L579.29,313.34 L579.99,313.32 L580.69,313.3 L581.38,313.28 L582.08,313.26 L582.78,313.24 L583.47,313.22 L584.17,313.2 L584.87,313.18 L585.56,313.16 L586.26,313.14 L586.96,313.13 L587.65,313.11 L588.35,313.09 L589.04,313.07 L589.74,313.05 L590.44,313.04 L591.13,313.02 L591.83,313 L592.53,312.98 L593.22,312.96 L593.92,312.95 L594.62,312.93 L595.31,312.91 L596.01,312.9 L596.71,312.88 L597.4,312.86 L598.1,312.85 L598.8,312.83 L599.49,312.81 L600.19,312.8 L600.89,312.78 L601.58,312.77 L602.28,312.75 L602.97,312.74 L603.67,312.72 L604.37,312.71 L605.06,312.69 L605.76,312.68 L606.46,312.66 L607.15,312.65 L607.85,312.63 L608.55,312.62 L609.24,312.61 L609.94,312.59 L610.64,312.58 L611.33,312.57 L612.03,312.55 L612.73,312.54 L613.42,312.53 L614.12,312.52 L614.82,312.5 L615.51,312.49 L616.21,312.48 L616.9,312.47 L617.6,312.46 L618.3,312.45 L618.99,312.43 L619.69,312.42 L620.39,312.41 L621.08,312.4 L621.78,312.39 L622.48,312.38 L623.17,312.37 L623.87,312.36 L624.57,312.35 L625.26,312.35 L625.96,312.34 L626.66,312.33 L627.35,312.32 L628.05,312.31 L628.75,312.3 L629.44,312.29 L630.14,312.28 L630.83,312.27 L631.53,312.26 L632.23,312.25 L632.92,312.24 L633.62,312.23 L634.32,312.22 L635.01,312.21 L635.71,312.2 L636.41,312.2 L637.1,312.19 L637.8,312.18 L638.5,312.17 L639.19,312.16 L639.89,312.15 L640.59,312.14 L641.28,312.13 L641.98,312.13 L642.68,312.12 L643.37,312.11 L644.07,312.1 L644.76,312.09 L645.46,312.08 L646.16,312.08 L646.85,312.07 L647.55,312.06 L648.25,312.05 L648.94,312.05 L649.64,312.04 L650.34,312.03 L651.03,312.02 L651.73,312.02 L652.43,312.01 L653.12,312 L653.82,311.99 L654.52,311.99 L655.21,311.98 L655.91,311.97 L656.61,311.97 L657.3,311.96 L658,311.95 L658.69,311.95 L659.39,311.94 L660.09,311.94 L660.78,311.93 L661.48,311.92 L662.18,311.92 L662.87,311.91 L663.57,311.91 L664.27,311.9 L664.96,311.9 L665.66,311.89 L666.36,311.89 L667.05,311.88 L667.75,311.88 L668.45,311.87 L669.14,311.87 L669.84,311.87 L670.54,311.86 L671.23,311.86 L671.93,311.85 L672.62,311.85 L673.32,311.85 L674.02,311.84 L674.71,311.84 L675.41,311.84 L676.11,311.84 L676.8,311.83 L677.5,311.83" fill="none" stroke="#808000" stroke-width="2.2" stroke-dasharray="8 4.3 1.5 4.2" stroke-linejoin="round"/>
<path d="M398.9,516.3 L399.04,511.24 L399.18,506.17 L399.32,501.11 L399.46,496.05 L399.6,490.99 L399.74,485.81 L399.88,480.51 L400.01,475.27 L400.15,470.26 L400.29,465.67 L400.43,461.39 L400.57,457.19 L400.71,453.09 L400.85,449.12 L400.99,445.3 L401.13,441.64 L401.27,438.18 L401.41,434.92 L401.55,431.89 L401.69,429.11 L401.83,426.49 L401.96,423.93 L402.1,421.43 L402.24,418.98 L402.38,416.6 L402.52,414.29 L402.66,412.04 L402.8,409.86 L402.94,407.75 L403.08,405.71 L403.22,403.75 L403.36,401.86 L403.5,400.05 L403.64,398.33 L403.78,396.68 L403.91,395.11 L404.05,393.64 L404.19,392.25 L404.33,390.95 L404.47,389.74 L404.61,388.59 L404.75,387.46 L404.89,386.36 L405.03,385.28 L405.17,384.22 L405.31,383.19 L405.45,382.18 L405.59,381.19 L405.73,380.23 L405.86,379.28 L406,378.36 L406.14,377.46 L406.28,376.58 L406.42,375.72 L406.56,374.88 L406.7,374.06 L406.84,373.27 L406.98,372.49 L407.12,371.73 L407.26,370.99 L407.4,370.27 L407.54,369.56 L407.68,368.88 L407.82,368.21 L407.95,367.56 L408.09,366.93 L408.23,366.32 L408.37,365.72 L408.51,365.14 L408.65,364.57 L408.79,364.02 L408.93,363.49 L409.07,362.97 L409.21,362.47 L409.35,361.98 L409.49,361.51 L409.63,361.05 L409.77,360.6 L409.9,360.17 L410.04,359.74 L410.18,359.33 L410.32,358.93 L410.46,358.53 L410.6,358.15 L410.74,357.77 L410.88,357.4 L411.02,357.05 L411.16,356.7 L411.3,356.35 L411.44,356.02 L411.58,355.69 L411.72,355.36 L411.85,355.05 L411.99,354.74 L412.13,354.43 L412.27,354.13 L412.41,353.83 L412.55,353.54 L412.69,353.26 L412.83,352.97 L413.53,351.6 L414.22,350.27 L414.92,348.93 L415.62,347.55 L416.31,346.12 L417.01,344.69 L417.71,343.29 L418.4,341.93 L419.1,340.65 L419.79,339.47 L420.49,338.41 L421.19,337.45 L421.88,336.53 L422.58,335.67 L423.28,334.84 L423.97,334.06 L424.67,333.32 L425.37,332.62 L426.06,331.96 L426.76,331.34 L427.46,330.74 L428.15,330.18 L428.85,329.64 L429.55,329.12 L430.24,328.62 L430.94,328.15 L431.64,327.69 L432.33,327.25 L433.03,326.83 L433.73,326.43 L434.42,326.03 L435.12,325.66 L435.81,325.29 L436.51,324.93 L437.21,324.59 L437.9,324.26 L438.6,323.93 L439.3,323.62 L439.99,323.32 L440.69,323.03 L441.39,322.75 L442.08,322.48 L442.78,322.22 L443.48,321.97 L444.17,321.73 L444.87,321.49 L445.57,321.26 L446.26,321.04 L446.96,320.82 L447.66,320.61 L448.35,320.4 L449.05,320.2 L449.74,320 L450.44,319.8 L451.14,319.61 L451.83,319.43 L452.53,319.24 L453.23,319.06 L453.92,318.89 L454.62,318.72 L455.32,318.55 L456.01,318.39 L456.71,318.23 L457.41,318.07 L458.1,317.92 L458.8,317.76 L459.5,317.6 L460.19,317.44 L460.89,317.28 L461.59,317.12 L462.28,316.96 L462.98,316.8 L463.67,316.63 L464.37,316.47 L465.07,316.31 L465.76,316.15 L466.46,315.99 L467.16,315.84 L467.85,315.69 L468.55,315.54 L469.25,315.4 L469.94,315.27 L470.64,315.13 L471.34,315 L472.03,314.88 L472.73,314.75 L473.43,314.63 L474.12,314.51 L474.82,314.4 L475.52,314.28 L476.21,314.17 L476.91,314.06 L477.6,313.95 L478.3,313.84 L479,313.73 L479.69,313.62 L480.39,313.52 L481.09,313.41 L481.78,313.31 L482.48,313.21 L483.18,313.11 L483.87,313.02 L484.57,312.93 L485.27,312.85 L485.96,312.77 L486.66,312.69 L487.36,312.61 L488.05,312.54 L488.75,312.47 L489.45,312.4 L490.14,312.34 L490.84,312.27 L491.53,312.21 L492.23,312.16 L492.93,312.1 L493.62,312.05 L494.32,312 L495.02,311.95 L495.71,311.9 L496.41,311.85 L497.11,311.8 L497.8,311.75 L498.5,311.7 L499.2,311.66 L499.89,311.61 L500.59,311.57 L501.29,311.52 L501.98,311.48 L502.68,311.44 L503.38,311.39 L504.07,311.35 L504.77,311.31 L505.46,311.27 L506.16,311.23 L506.86,311.19 L507.55,311.15 L508.25,311.11 L508.95,311.07 L509.64,311.03 L510.34,311 L511.04,310.96 L511.73,310.92 L512.43,310.89 L513.13,310.85 L513.82,310.81 L514.52,310.78 L515.22,310.74 L515.91,310.71 L516.61,310.67 L517.31,310.64 L518,310.6 L518.7,310.56 L519.39,310.53 L520.09,310.49 L520.79,310.46 L521.48,310.42 L522.18,310.39 L522.88,310.35 L523.57,310.32 L524.27,310.28 L524.97,310.25 L525.66,310.21 L526.36,310.18 L527.06,310.14 L527.75,310.11 L528.45,310.07 L529.15,310.04 L529.84,310 L530.54,309.97 L531.24,309.93 L531.93,309.9 L532.63,309.86 L533.32,309.83 L534.02,309.79 L534.72,309.76 L535.41,309.72 L536.11,309.69 L536.81,309.66 L537.5,309.62 L538.2,309.59 L538.9,309.55 L539.59,309.52 L540.29,309.49 L540.99,309.45 L541.68,309.42 L542.38,309.38 L543.08,309.35 L543.77,309.32 L544.47,309.28 L545.17,309.25 L545.86,309.22 L546.56,309.18 L547.25,309.15 L547.95,309.12 L548.65,309.09 L549.34,309.05 L550.04,309.02 L550.74,308.99 L551.43,308.96 L552.13,308.93 L552.83,308.89 L553.52,308.86 L554.22,308.83 L554.92,308.8 L555.61,308.77 L556.31,308.74 L557.01,308.71 L557.7,308.68 L558.4,308.65 L559.1,308.62 L559.79,308.59 L560.49,308.56 L561.18,308.53 L561.88,308.5 L562.58,308.47 L563.27,308.44 L563.97,308.41 L564.67,308.38 L565.36,308.35 L566.06,308.33 L566.76,308.3 L567.45,308.27 L568.15,308.24 L568.85,308.22 L569.54,308.19 L570.24,308.16 L570.94,308.14 L571.63,308.11 L572.33,308.09 L573.03,308.06 L573.72,308.03 L574.42,308.01 L575.11,307.98 L575.81,307.96 L576.51,307.94 L577.2,307.91 L577.9,307.89 L578.6,307.87 L579.29,307.84 L579.99,307.82 L580.69,307.8 L581.38,307.77 L582.08,307.75 L582.78,307.73 L583.47,307.71 L584.17,307.69 L584.87,307.67 L585.56,307.65 L586.26,307.62 L586.96,307.6 L587.65,307.58 L588.35,307.56 L589.04,307.54 L589.74,307.52 L590.44,307.5 L591.13,307.48 L591.83,307.46 L592.53,307.44 L593.22,307.42 L593.92,307.4 L594.62,307.38 L595.31,307.36 L596.01,307.34 L596.71,307.32 L597.4,307.3 L598.1,307.28 L598.8,307.26 L599.49,307.24 L600.19,307.22 L600.89,307.21 L601.58,307.19 L602.28,307.17 L602.97,307.15 L603.67,307.14 L604.37,307.12 L605.06,307.1 L605.76,307.08 L606.46,307.07 L607.15,307.05 L607.85,307.03 L608.55,307.02 L609.24,307 L609.94,306.99 L610.64,306.97 L611.33,306.96 L612.03,306.94 L612.73,306.93 L613.42,306.91 L614.12,306.9 L614.82,306.89 L615.51,306.87 L616.21,306.86 L616.9,306.85 L617.6,306.84 L618.3,306.82 L618.99,306.81 L619.69,306.8 L620.39,306.79 L621.08,306.78 L621.78,306.77 L622.48,306.76 L623.17,306.75 L623.87,306.74 L624.57,306.73 L625.26,306.72 L625.96,306.71 L626.66,306.7 L627.35,306.69 L628.05,306.68 L628.75,306.67 L629.44,306.66 L630.14,306.65 L630.83,306.64 L631.53,306.63 L632.23,306.62 L632.92,306.61 L633.62,306.6 L634.32,306.59 L635.01,306.58 L635.71,306.57 L636.41,306.56 L637.1,306.55 L637.8,306.54 L638.5,306.53 L639.19,306.52 L639.89,306.51 L640.59,306.5 L641.28,306.5 L641.98,306.49 L642.68,306.48 L643.37,306.47 L644.07,306.46 L644.76,306.45 L645.46,306.44 L646.16,306.44 L646.85,306.43 L647.55,306.42 L648.25,306.41 L648.94,306.4 L649.64,306.4 L650.34,306.39 L651.03,306.38 L651.73,306.37 L652.43,306.37 L653.12,306.36 L653.82,306.35 L654.52,306.34 L655.21,306.34 L655.91,306.33 L656.61,306.32 L657.3,306.32 L658,306.31 L658.69,306.31 L659.39,306.3 L660.09,306.29 L660.78,306.29 L661.48,306.28 L662.18,306.28 L662.87,306.27 L663.57,306.27 L664.27,306.26 L664.96,306.26 L665.66,306.25 L666.36,306.25 L667.05,306.25 L667.75,306.24 L668.45,306.24 L669.14,306.23 L669.84,306.23 L670.54,306.23 L671.23,306.22 L671.93,306.22 L672.62,306.22 L673.32,306.22 L674.02,306.21 L674.71,306.21 L675.41,306.21 L676.11,306.21 L676.8,306.21 L677.5,306.21" fill="none" stroke="#800080" stroke-width="2.2" stroke-dasharray="2 6.4" stroke-linejoin="round"/>
<path d="M398.9,516.3 L399.04,511.24 L399.18,506.17 L399.32,501.11 L399.46,496.05 L399.6,490.99 L399.74,485.81 L399.88,480.51 L400.01,475.27 L400.15,470.26 L400.29,465.67 L400.43,461.42 L400.57,457.29 L400.71,453.29 L400.85,449.43 L400.99,445.7 L401.13,442.1 L401.27,438.64 L401.41,435.33 L401.55,432.15 L401.69,429.11 L401.83,426.17 L401.96,423.29 L402.1,420.46 L402.24,417.7 L402.38,415 L402.52,412.37 L402.66,409.82 L402.8,407.34 L402.94,404.95 L403.08,402.64 L403.22,400.42 L403.36,398.3 L403.5,396.28 L403.64,394.36 L403.78,392.55 L403.91,390.8 L404.05,389.07 L404.19,387.37 L404.33,385.69 L404.47,384.04 L404.61,382.42 L404.75,380.84 L404.89,379.3 L405.03,377.81 L405.17,376.36 L405.31,374.96 L405.45,373.61 L405.59,372.32 L405.73,371.09 L405.86,369.92 L406,368.82 L406.14,367.79 L406.28,366.83 L406.42,365.95 L406.56,365.14 L406.7,364.43 L406.84,363.76 L406.98,363.12 L407.12,362.5 L407.26,361.91 L407.4,361.34 L407.54,360.79 L407.68,360.25 L407.82,359.74 L407.95,359.25 L408.09,358.77 L408.23,358.31 L408.37,357.86 L408.51,357.43 L408.65,357.01 L408.79,356.61 L408.93,356.21 L409.07,355.83 L409.21,355.46 L409.35,355.09 L409.49,354.74 L409.63,354.39 L409.77,354.05 L409.9,353.71 L410.04,353.38 L410.18,353.06 L410.32,352.73 L410.46,352.41 L410.6,352.09 L410.74,351.77 L410.88,351.45 L411.02,351.14 L411.16,350.83 L411.3,350.52 L411.44,350.23 L411.58,349.93 L411.72,349.64 L411.85,349.36 L411.99,349.07 L412.13,348.8 L412.27,348.53 L412.41,348.26 L412.55,347.99 L412.69,347.73 L412.83,347.48 L413.53,346.26 L414.22,345.12 L414.92,344.07 L415.62,343.09 L416.31,342.16 L417.01,341.3 L417.71,340.5 L418.4,339.77 L419.1,339.11 L419.79,338.51 L420.49,337.93 L421.19,337.38 L421.88,336.85 L422.58,336.34 L423.28,335.86 L423.97,335.39 L424.67,334.93 L425.37,334.49 L426.06,334.07 L426.76,333.65 L427.46,333.24 L428.15,332.83 L428.85,332.44 L429.55,332.04 L430.24,331.64 L430.94,331.25 L431.64,330.85 L432.33,330.46 L433.03,330.08 L433.73,329.7 L434.42,329.33 L435.12,328.96 L435.81,328.6 L436.51,328.25 L437.21,327.91 L437.9,327.58 L438.6,327.27 L439.3,326.96 L439.99,326.67 L440.69,326.4 L441.39,326.13 L442.08,325.89 L442.78,325.65 L443.48,325.41 L444.17,325.19 L444.87,324.97 L445.57,324.75 L446.26,324.54 L446.96,324.33 L447.66,324.13 L448.35,323.94 L449.05,323.75 L449.74,323.56 L450.44,323.38 L451.14,323.2 L451.83,323.03 L452.53,322.86 L453.23,322.7 L453.92,322.53 L454.62,322.37 L455.32,322.22 L456.01,322.06 L456.71,321.91 L457.41,321.76 L458.1,321.62 L458.8,321.47 L459.5,321.33 L460.19,321.2 L460.89,321.07 L461.59,320.93 L462.28,320.81 L462.98,320.68 L463.67,320.56 L464.37,320.44 L465.07,320.32 L465.76,320.21 L466.46,320.09 L467.16,319.98 L467.85,319.87 L468.55,319.75 L469.25,319.64 L469.94,319.54 L470.64,319.43 L471.34,319.32 L472.03,319.21 L472.73,319.1 L473.43,318.99 L474.12,318.88 L474.82,318.77 L475.52,318.66 L476.21,318.55 L476.91,318.44 L477.6,318.33 L478.3,318.22 L479,318.11 L479.69,318 L480.39,317.9 L481.09,317.79 L481.78,317.69 L482.48,317.59 L483.18,317.5 L483.87,317.4 L484.57,317.31 L485.27,317.23 L485.96,317.14 L486.66,317.07 L487.36,316.99 L488.05,316.92 L488.75,316.85 L489.45,316.79 L490.14,316.73 L490.84,316.66 L491.53,316.6 L492.23,316.54 L492.93,316.48 L493.62,316.42 L494.32,316.37 L495.02,316.31 L495.71,316.25 L496.41,316.2 L497.11,316.15 L497.8,316.09 L498.5,316.04 L499.2,315.99 L499.89,315.94 L500.59,315.89 L501.29,315.84 L501.98,315.79 L502.68,315.75 L503.38,315.7 L504.07,315.65 L504.77,315.61 L505.46,315.56 L506.16,315.52 L506.86,315.48 L507.55,315.43 L508.25,315.39 L508.95,315.35 L509.64,315.31 L510.34,315.26 L511.04,315.22 L511.73,315.18 L512.43,315.14 L513.13,315.1 L513.82,315.07 L514.52,315.03 L515.22,314.99 L515.91,314.95 L516.61,314.91 L517.31,314.87 L518,314.84 L518.7,314.8 L519.39,314.76 L520.09,314.72 L520.79,314.69 L521.48,314.65 L522.18,314.61 L522.88,314.58 L523.57,314.54 L524.27,314.5 L524.97,314.47 L525.66,314.43 L526.36,314.39 L527.06,314.36 L527.75,314.32 L528.45,314.28 L529.15,314.25 L529.84,314.21 L530.54,314.18 L531.24,314.14 L531.93,314.11 L532.63,314.07 L533.32,314.04 L534.02,314 L534.72,313.97 L535.41,313.93 L536.11,313.9 L536.81,313.87 L537.5,313.83 L538.2,313.8 L538.9,313.77 L539.59,313.73 L540.29,313.7 L540.99,313.67 L541.68,313.64 L542.38,313.6 L543.08,313.57 L543.77,313.54 L544.47,313.51 L545.17,313.47 L545.86,313.44 L546.56,313.41 L547.25,313.38 L547.95,313.35 L548.65,313.32 L549.34,313.29 L550.04,313.26 L550.74,313.23 L551.43,313.2 L552.13,313.17 L552.83,313.14 L553.52,313.11 L554.22,313.08 L554.92,313.05 L555.61,313.02 L556.31,312.99 L557.01,312.96 L557.7,312.93 L558.4,312.9 L559.1,312.88 L559.79,312.85 L560.49,312.82 L561.18,312.79 L561.88,312.77 L562.58,312.74 L563.27,312.71 L563.97,312.68 L564.67,312.66 L565.36,312.63 L566.06,312.6 L566.76,312.58 L567.45,312.55 L568.15,312.53 L568.85,312.5 L569.54,312.47 L570.24,312.45 L570.94,312.42 L571.63,312.4 L572.33,312.37 L573.03,312.35 L573.72,312.32 L574.42,312.3 L575.11,312.28 L575.81,312.25 L576.51,312.23 L577.2,312.21 L577.9,312.18 L578.6,312.16 L579.29,312.14 L579.99,312.11 L580.69,312.09 L581.38,312.07 L582.08,312.04 L582.78,312.02 L583.47,312 L584.17,311.98 L584.87,311.95 L585.56,311.93 L586.26,311.91 L586.96,311.89 L587.65,311.87 L588.35,311.84 L589.04,311.82 L589.74,311.8 L590.44,311.78 L591.13,311.76 L591.83,311.74 L592.53,311.71 L593.22,311.69 L593.92,311.67 L594.62,311.65 L595.31,311.63 L596.01,311.61 L596.71,311.59 L597.4,311.57 L598.1,311.55 L598.8,311.53 L599.49,311.51 L600.19,311.49 L600.89,311.47 L601.58,311.45 L602.28,311.43 L602.97,311.41 L603.67,311.39 L604.37,311.38 L605.06,311.36 L605.76,311.34 L606.46,311.32 L607.15,311.3 L607.85,311.29 L608.55,311.27 L609.24,311.25 L609.94,311.23 L610.64,311.22 L611.33,311.2 L612.03,311.19 L612.73,311.17 L613.42,311.15 L614.12,311.14 L614.82,311.12 L615.51,311.11 L616.21,311.09 L616.9,311.08 L617.6,311.07 L618.3,311.05 L618.99,311.04 L619.69,311.03 L620.39,311.01 L621.08,311 L621.78,310.99 L622.48,310.98 L623.17,310.96 L623.87,310.95 L624.57,310.94 L625.26,310.93 L625.96,310.91 L626.66,310.9 L627.35,310.89 L628.05,310.88 L628.75,310.87 L629.44,310.86 L630.14,310.84 L630.83,310.83 L631.53,310.82 L632.23,310.81 L632.92,310.8 L633.62,310.79 L634.32,310.77 L635.01,310.76 L635.71,310.75 L636.41,310.74 L637.1,310.73 L637.8,310.72 L638.5,310.71 L639.19,310.7 L639.89,310.69 L640.59,310.68 L641.28,310.67 L641.98,310.65 L642.68,310.64 L643.37,310.63 L644.07,310.62 L644.76,310.61 L645.46,310.6 L646.16,310.59 L646.85,310.58 L647.55,310.57 L648.25,310.56 L648.94,310.55 L649.64,310.55 L650.34,310.54 L651.03,310.53 L651.73,310.52 L652.43,310.51 L653.12,310.5 L653.82,310.49 L654.52,310.48 L655.21,310.47 L655.91,310.47 L656.61,310.46 L657.3,310.45 L658,310.44 L658.69,310.43 L659.39,310.43 L660.09,310.42 L660.78,310.41 L661.48,310.4 L662.18,310.4 L662.87,310.39 L663.57,310.38 L664.27,310.38 L664.96,310.37 L665.66,310.36 L666.36,310.36 L667.05,310.35 L667.75,310.35 L668.45,310.34 L669.14,310.34 L669.84,310.33 L670.54,310.32 L671.23,310.32 L671.93,310.32 L672.62,310.31 L673.32,310.31 L674.02,310.3 L674.71,310.3 L675.41,310.29 L676.11,310.29 L676.8,310.29 L677.5,310.28" fill="none" stroke="#ff0000" stroke-width="2.2" stroke-dasharray="7 8.2" stroke-linejoin="round"/>
<rect x="398.9" y="291.3" width="278.6" height="225" fill="none" stroke="#383838" stroke-width="1.3"/>
<path d="M394.6,516.3H398.9M396.6,495.21H398.9M394.6,474.11H398.9M396.6,453.02H398.9M394.6,431.92H398.9M396.6,410.83H398.9M394.6,389.74H398.9M396.6,368.64H398.9M394.6,347.55H398.9M396.6,326.46H398.9M394.6,305.36H398.9M398.9,516.3V520.6M426.76,516.3V518.6M454.62,516.3V520.6M482.48,516.3V518.6M510.34,516.3V520.6M538.2,516.3V518.6M566.06,516.3V520.6M593.92,516.3V518.6M621.78,516.3V520.6M649.64,516.3V518.6M677.5,516.3V520.6" stroke="#383838" stroke-width="1.3" fill="none"/>
<text transform="translate(390.6,520.4) scale(0.9,1)" font-size="14.3" text-anchor="end">0</text>
<text transform="translate(390.6,478.21) scale(0.9,1)" font-size="14.3" text-anchor="end">30</text>
<text transform="translate(390.6,436.02) scale(0.9,1)" font-size="14.3" text-anchor="end">60</text>
<text transform="translate(390.6,393.84) scale(0.9,1)" font-size="14.3" text-anchor="end">90</text>
<text transform="translate(390.6,351.65) scale(0.9,1)" font-size="14.3" text-anchor="end">120</text>
<text transform="translate(390.6,309.46) scale(0.9,1)" font-size="14.3" text-anchor="end">150</text>
<text transform="translate(398.9,534.7) scale(0.9,1)" font-size="14.3" text-anchor="middle">0</text>
<text transform="translate(454.62,534.7) scale(0.9,1)" font-size="14.3" text-anchor="middle">4</text>
<text transform="translate(510.34,534.7) scale(0.9,1)" font-size="14.3" text-anchor="middle">8</text>
<text transform="translate(566.06,534.7) scale(0.9,1)" font-size="14.3" text-anchor="middle">12</text>
<text transform="translate(621.78,534.7) scale(0.9,1)" font-size="14.3" text-anchor="middle">16</text>
<text transform="translate(677.5,534.7) scale(0.9,1)" font-size="14.3" text-anchor="middle">20</text>
<text transform="translate(538.2,556.7) scale(0.955,1)" font-size="14.3" text-anchor="middle">Time (min)</text>
<text x="0" y="0" font-size="14.3" text-anchor="middle" transform="translate(363.3,403.8) rotate(-90) scale(0.972,1)">Gas uptake (v/v)</text>
<text x="347.4" y="298" font-size="21.2" text-anchor="start">d</text>
<path d="M475.9,345.3H507" stroke="#ff0000" stroke-width="2.4" stroke-dasharray="9.3 12.8"/>
<path d="M475.7,362.8H507" stroke="#800080" stroke-width="2.2" stroke-dasharray="2 11.2"/>
<path d="M475.9,379.9H507" stroke="#808000" stroke-width="2.4" stroke-dasharray="11.3 7 2 7"/>
<text x="511" y="349.9" font-size="14.3" text-anchor="start" textLength="148.5" lengthAdjust="spacingAndGlyphs">Tryptophan (3k), 272.7K</text>
<text x="511" y="367.5" font-size="14.3" text-anchor="start" textLength="148.5" lengthAdjust="spacingAndGlyphs">Tryptophan (3k), 272.2K</text>
<text x="511" y="384.7" font-size="14.3" text-anchor="start" textLength="148.5" lengthAdjust="spacingAndGlyphs">Tryptophan (3k), 271.2K</text>
<rect x="509.6" y="123.4" width="154.1" height="84" fill="#fff" stroke="#777" stroke-width="1"/>
<path d="M507.4,190.1H509.6M507.4,165.35H509.6M507.4,140.6H509.6M508.3,202.47H509.6M508.3,177.72H509.6M508.3,152.97H509.6M508.3,128.22H509.6M525,207.4V209.6M586.8,207.4V209.6M648.2,207.4V209.6" stroke="#777" stroke-width="1" fill="none"/>
<text transform="translate(506,195.14) scale(0.9,1)" font-size="14.0" text-anchor="end">3</text>
<text transform="translate(506,170.39) scale(0.9,1)" font-size="14.0" text-anchor="end">6</text>
<text transform="translate(506,145.64) scale(0.9,1)" font-size="14.0" text-anchor="end">9</text>
<text transform="translate(525,220.8) scale(0.9,1)" font-size="14.0" text-anchor="middle">10 g</text>
<text transform="translate(586.8,220.8) scale(0.9,1)" font-size="14.0" text-anchor="middle">20 g</text>
<text transform="translate(648.2,220.8) scale(0.9,1)" font-size="14.0" text-anchor="middle">30 g</text>
<text x="0" y="0" font-size="13.2" text-anchor="middle" transform="translate(492.2,165.4) rotate(-90)">t<tspan font-size="8.98" dy="3.3">90</tspan><tspan dy="-3.3"> (min)</tspan></text>
<path d="M525,195.05 L586.8,181.52 L648.2,151.9" fill="none" stroke="#111" stroke-width="1.0"/>
<path d="M525,189.28V204.95M523.8,189.28H526.2M523.8,204.95H526.2M586.8,174.42V190.1M585.6,174.42H588M585.6,190.1H588M648.2,135.65V167.82M647,135.65H649.4M647,167.82H649.4" fill="none" stroke="#111" stroke-width="1.1"/>
<rect x="522.5" y="192.55" width="5" height="5" fill="#fff" stroke="#222" stroke-width="0.9"/>
<rect x="584.3" y="179.02" width="5" height="5" fill="#fff" stroke="#222" stroke-width="0.9"/>
<rect x="645.7" y="149.4" width="5" height="5" fill="#fff" stroke="#222" stroke-width="0.9"/>
<rect x="158.5" y="409.3" width="154.8" height="84" fill="#fff" stroke="#777" stroke-width="1"/>
<path d="M156.3,479.2H158.5M156.3,460.6H158.5M156.3,442H158.5M156.3,423.4H158.5M157.2,488.5H158.5M157.2,469.9H158.5M157.2,451.3H158.5M157.2,432.7H158.5M157.2,414.1H158.5M174,493.3V495.5M235.9,493.3V495.5M297.4,493.3V495.5" stroke="#777" stroke-width="1" fill="none"/>
<text transform="translate(154.7,484.24) scale(0.9,1)" font-size="14.0" text-anchor="end">2</text>
<text transform="translate(154.7,465.64) scale(0.9,1)" font-size="14.0" text-anchor="end">3</text>
<text transform="translate(154.7,447.04) scale(0.9,1)" font-size="14.0" text-anchor="end">4</text>
<text transform="translate(154.7,428.44) scale(0.9,1)" font-size="14.0" text-anchor="end">5</text>
<text transform="translate(174,506.9) scale(0.9,1)" font-size="14.0" text-anchor="middle">4 MPa</text>
<text transform="translate(235.9,506.9) scale(0.9,1)" font-size="14.0" text-anchor="middle">5 MPa</text>
<text transform="translate(297.4,506.9) scale(0.9,1)" font-size="14.0" text-anchor="middle">6 MPa</text>
<text x="0" y="0" font-size="13.4" text-anchor="middle" transform="translate(142.4,451.3) rotate(-90)">t<tspan font-size="9.11" dy="3.35">90</tspan><tspan dy="-3.35"> (min)</tspan></text>
<path d="M174,430.1 L235.9,439.95 L297.4,471.02" fill="none" stroke="#111" stroke-width="1.0"/>
<path d="M174,416.52V443.49M172.8,416.52H175.2M172.8,443.49H175.2M235.9,428.24V452.04M234.7,428.24H237.1M234.7,452.04H237.1M297.4,458.93V483.48M296.2,458.93H298.6M296.2,483.48H298.6" fill="none" stroke="#111" stroke-width="1.1"/>
<circle cx="174" cy="430.1" r="3" fill="#fff" stroke="#222" stroke-width="0.9"/>
<circle cx="235.9" cy="439.95" r="3" fill="#fff" stroke="#222" stroke-width="0.9"/>
<circle cx="297.4" cy="471.02" r="3" fill="#fff" stroke="#222" stroke-width="0.9"/>
<rect x="508.4" y="406.1" width="155.4" height="83.4" fill="#fff" stroke="#777" stroke-width="1"/>
<path d="M506.2,489.5H508.4M506.2,461.7H508.4M506.2,433.9H508.4M506.2,406.1H508.4M507.1,475.6H508.4M507.1,447.8H508.4M507.1,420H508.4M534.6,489.5V491.7M585.9,489.5V491.7M637.6,489.5V491.7" stroke="#777" stroke-width="1" fill="none"/>
<text transform="translate(504.8,494.54) scale(0.9,1)" font-size="14.0" text-anchor="end">1</text>
<text transform="translate(504.8,466.74) scale(0.9,1)" font-size="14.0" text-anchor="end">2</text>
<text transform="translate(504.8,438.94) scale(0.9,1)" font-size="14.0" text-anchor="end">3</text>
<text transform="translate(504.8,411.14) scale(0.9,1)" font-size="14.0" text-anchor="end">4</text>
<text transform="translate(534.6,504.5) scale(0.9,1)" font-size="14.0" text-anchor="middle">271.2K</text>
<text transform="translate(585.9,504.5) scale(0.9,1)" font-size="14.0" text-anchor="middle">272.2K</text>
<text transform="translate(637.6,504.5) scale(0.9,1)" font-size="14.0" text-anchor="middle">272.7K</text>
<text x="0" y="0" font-size="14.0" text-anchor="middle" transform="translate(492.3,447.8) rotate(-90)">t<tspan font-size="9.52" dy="3.5">90</tspan><tspan dy="-3.5"> (min)</tspan></text>
<path d="M534.6,451.14 L585.9,448.36 L637.6,449.47" fill="none" stroke="#111" stroke-width="1.0"/>
<path d="M534.6,441.68V460.59M533.4,441.68H535.8M533.4,460.59H535.8M585.9,447.24V451.14M584.7,447.24H587.1M584.7,451.14H587.1M637.6,432.23V467.82M636.4,432.23H638.8M636.4,467.82H638.8" fill="none" stroke="#111" stroke-width="1.1"/>
<path d="M534.6,447.84L538,453.44L531.2,453.44Z" fill="#fff" stroke="#222" stroke-width="0.9"/>
<path d="M585.9,445.06L589.3,450.66L582.5,450.66Z" fill="#fff" stroke="#222" stroke-width="0.9"/>
<path d="M637.6,446.17L641,451.77L634.2,451.77Z" fill="#fff" stroke="#222" stroke-width="0.9"/>
</svg>
</body></html>
